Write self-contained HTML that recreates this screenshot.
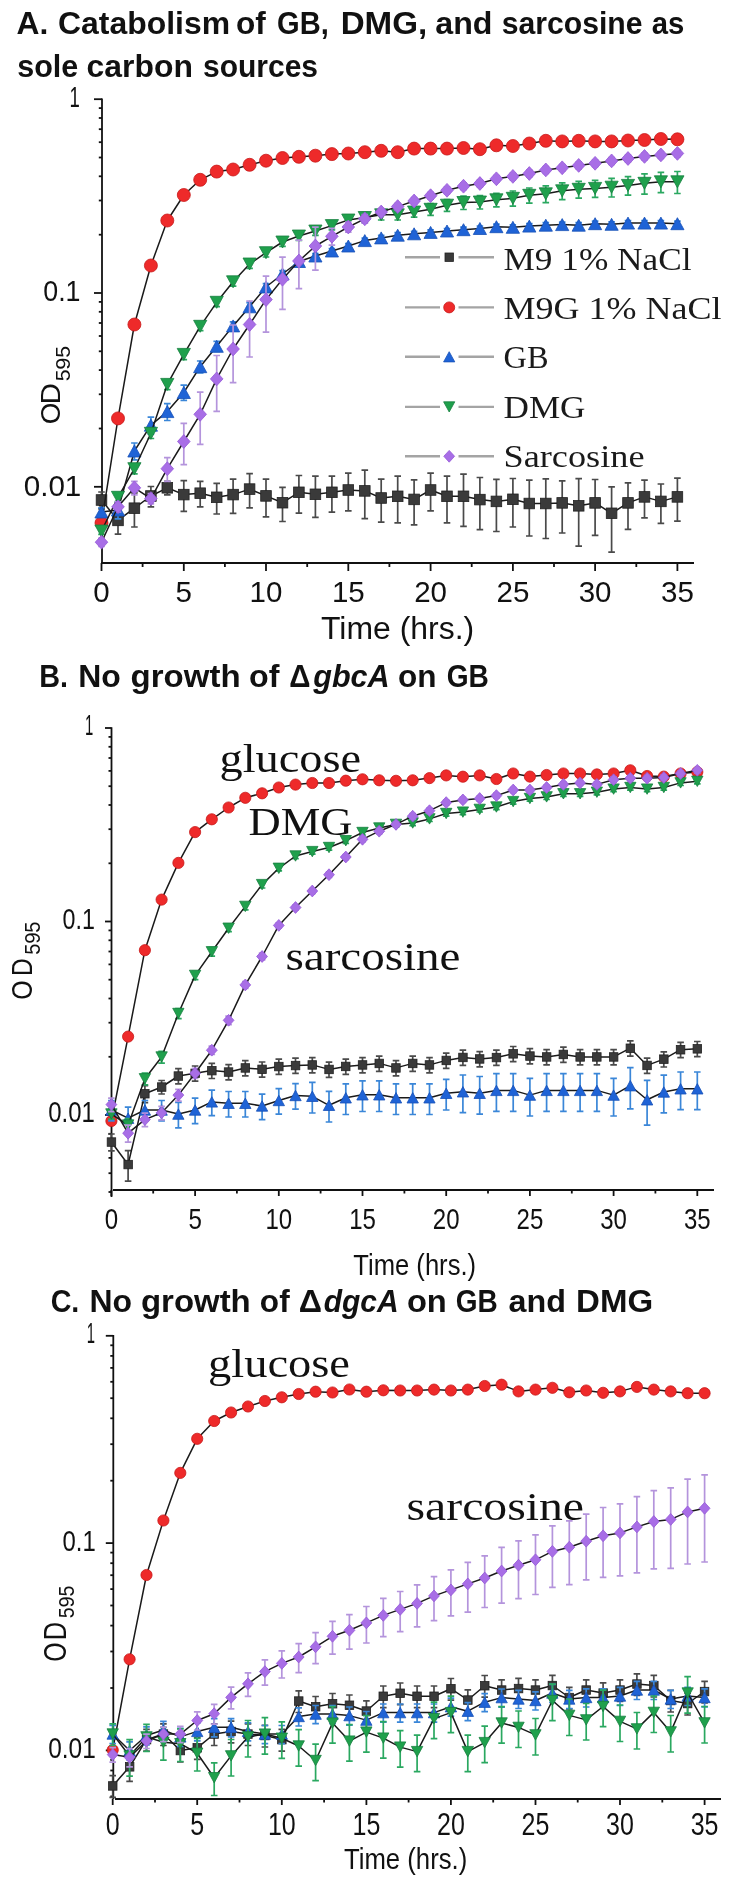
<!DOCTYPE html>
<html><head><meta charset="utf-8"><style>
html,body{margin:0;padding:0;background:#fff;}
body{width:735px;height:1886px;overflow:hidden;}
svg{display:block;filter:blur(0.45px);}
</style></head><body>
<svg width="735" height="1886" viewBox="0 0 735 1886">
<rect width="735" height="1886" fill="#fff"/>
<text x="16.61" y="33.7" font-family='"Liberation Sans", sans-serif' font-size="32" font-weight="bold" fill="#111" textLength="31.78" lengthAdjust="spacingAndGlyphs">A.</text>
<text x="58.09" y="33.7" font-family='"Liberation Sans", sans-serif' font-size="32" font-weight="bold" fill="#111" textLength="171.99" lengthAdjust="spacingAndGlyphs">Catabolism</text>
<text x="235.97" y="33.7" font-family='"Liberation Sans", sans-serif' font-size="32" font-weight="bold" fill="#111" textLength="29.77" lengthAdjust="spacingAndGlyphs">of</text>
<text x="277.01" y="33.7" font-family='"Liberation Sans", sans-serif' font-size="32" font-weight="bold" fill="#111" textLength="51.74" lengthAdjust="spacingAndGlyphs">GB,</text>
<text x="340.68" y="33.7" font-family='"Liberation Sans", sans-serif' font-size="32" font-weight="bold" fill="#111" textLength="86.53" lengthAdjust="spacingAndGlyphs">DMG,</text>
<text x="435.26" y="33.7" font-family='"Liberation Sans", sans-serif' font-size="32" font-weight="bold" fill="#111" textLength="57.16" lengthAdjust="spacingAndGlyphs">and</text>
<text x="501.64" y="33.7" font-family='"Liberation Sans", sans-serif' font-size="32" font-weight="bold" fill="#111" textLength="140.89" lengthAdjust="spacingAndGlyphs">sarcosine</text>
<text x="651.84" y="33.7" font-family='"Liberation Sans", sans-serif' font-size="32" font-weight="bold" fill="#111" textLength="32.56" lengthAdjust="spacingAndGlyphs">as</text>
<text x="17.23" y="76.8" font-family='"Liberation Sans", sans-serif' font-size="32" font-weight="bold" fill="#111" textLength="61.12" lengthAdjust="spacingAndGlyphs">sole</text>
<text x="86.55" y="76.8" font-family='"Liberation Sans", sans-serif' font-size="32" font-weight="bold" fill="#111" textLength="106.32" lengthAdjust="spacingAndGlyphs">carbon</text>
<text x="202.95" y="76.8" font-family='"Liberation Sans", sans-serif' font-size="32" font-weight="bold" fill="#111" textLength="115.09" lengthAdjust="spacingAndGlyphs">sources</text>
<path d="M102,98.4V563" stroke="#111" stroke-width="1.8" fill="none"/>
<path d="M94,99.2H102" stroke="#111" stroke-width="1.8"/>
<path d="M94,293.0H102" stroke="#111" stroke-width="1.8"/>
<path d="M94,486.8H102" stroke="#111" stroke-width="1.8"/>
<path d="M98.8,234.7H102" stroke="#111" stroke-width="1.8"/>
<path d="M98.8,200.5H102" stroke="#111" stroke-width="1.8"/>
<path d="M98.8,176.3H102" stroke="#111" stroke-width="1.8"/>
<path d="M98.8,157.5H102" stroke="#111" stroke-width="1.8"/>
<path d="M98.8,142.2H102" stroke="#111" stroke-width="1.8"/>
<path d="M98.8,129.2H102" stroke="#111" stroke-width="1.8"/>
<path d="M98.8,118.0H102" stroke="#111" stroke-width="1.8"/>
<path d="M98.8,108.1H102" stroke="#111" stroke-width="1.8"/>
<path d="M98.8,428.5H102" stroke="#111" stroke-width="1.8"/>
<path d="M98.8,394.3H102" stroke="#111" stroke-width="1.8"/>
<path d="M98.8,370.1H102" stroke="#111" stroke-width="1.8"/>
<path d="M98.8,351.3H102" stroke="#111" stroke-width="1.8"/>
<path d="M98.8,336.0H102" stroke="#111" stroke-width="1.8"/>
<path d="M98.8,323.0H102" stroke="#111" stroke-width="1.8"/>
<path d="M98.8,311.8H102" stroke="#111" stroke-width="1.8"/>
<path d="M98.8,301.9H102" stroke="#111" stroke-width="1.8"/>
<path d="M98.8,545.1H102" stroke="#111" stroke-width="1.8"/>
<path d="M98.8,529.8H102" stroke="#111" stroke-width="1.8"/>
<path d="M98.8,516.8H102" stroke="#111" stroke-width="1.8"/>
<path d="M98.8,505.6H102" stroke="#111" stroke-width="1.8"/>
<path d="M98.8,495.7H102" stroke="#111" stroke-width="1.8"/>
<path d="M101,563H694" stroke="#111" stroke-width="1.8" fill="none"/>
<path d="M101.5,563V571" stroke="#111" stroke-width="1.8"/>
<path d="M183.8,563V571" stroke="#111" stroke-width="1.8"/>
<path d="M266.0,563V571" stroke="#111" stroke-width="1.8"/>
<path d="M348.3,563V571" stroke="#111" stroke-width="1.8"/>
<path d="M430.6,563V571" stroke="#111" stroke-width="1.8"/>
<path d="M512.9,563V571" stroke="#111" stroke-width="1.8"/>
<path d="M595.1,563V571" stroke="#111" stroke-width="1.8"/>
<path d="M677.4,563V571" stroke="#111" stroke-width="1.8"/>
<path d="M142.6,563V567" stroke="#111" stroke-width="1.8"/>
<path d="M224.9,563V567" stroke="#111" stroke-width="1.8"/>
<path d="M307.2,563V567" stroke="#111" stroke-width="1.8"/>
<path d="M389.4,563V567" stroke="#111" stroke-width="1.8"/>
<path d="M471.7,563V567" stroke="#111" stroke-width="1.8"/>
<path d="M554.0,563V567" stroke="#111" stroke-width="1.8"/>
<path d="M636.3,563V567" stroke="#111" stroke-width="1.8"/>
<text x="69.49" y="106.5" font-family='"Liberation Sans", sans-serif' font-size="29.5" fill="#111" textLength="10.32" lengthAdjust="spacingAndGlyphs">1</text>
<text x="43.25" y="300.7" font-family='"Liberation Sans", sans-serif' font-size="29.5" fill="#111" textLength="37.26" lengthAdjust="spacingAndGlyphs">0.1</text>
<text x="23.74" y="495.7" font-family='"Liberation Sans", sans-serif' font-size="29.5" fill="#111" textLength="57.60" lengthAdjust="spacingAndGlyphs">0.01</text>
<text x="101.5" y="602" font-family='"Liberation Sans", sans-serif' font-size="29.5" font-weight="normal" text-anchor="middle" fill="#111" >0</text>
<text x="183.8" y="602" font-family='"Liberation Sans", sans-serif' font-size="29.5" font-weight="normal" text-anchor="middle" fill="#111" >5</text>
<text x="266.0" y="602" font-family='"Liberation Sans", sans-serif' font-size="29.5" font-weight="normal" text-anchor="middle" fill="#111" >10</text>
<text x="348.3" y="602" font-family='"Liberation Sans", sans-serif' font-size="29.5" font-weight="normal" text-anchor="middle" fill="#111" >15</text>
<text x="430.6" y="602" font-family='"Liberation Sans", sans-serif' font-size="29.5" font-weight="normal" text-anchor="middle" fill="#111" >20</text>
<text x="512.9" y="602" font-family='"Liberation Sans", sans-serif' font-size="29.5" font-weight="normal" text-anchor="middle" fill="#111" >25</text>
<text x="595.1" y="602" font-family='"Liberation Sans", sans-serif' font-size="29.5" font-weight="normal" text-anchor="middle" fill="#111" >30</text>
<text x="677.4" y="602" font-family='"Liberation Sans", sans-serif' font-size="29.5" font-weight="normal" text-anchor="middle" fill="#111" >35</text>
<text x="320.99" y="638.7" font-family='"Liberation Sans", sans-serif' font-size="31" fill="#111" textLength="153.18" lengthAdjust="spacingAndGlyphs">Time (hrs.)</text>
<text transform="translate(59.80,424.31) rotate(-90) scale(0.976,1)" font-family='"Liberation Sans", sans-serif' font-size="28.5" fill="#111">O</text>
<text transform="translate(59.80,404.42) rotate(-90) scale(1.037,1)" font-family='"Liberation Sans", sans-serif' font-size="28.5" fill="#111">D</text>
<text transform="translate(70.00,381.15) rotate(-90) scale(1.008,1)" font-family='"Liberation Sans", sans-serif' font-size="21" fill="#111">5</text>
<text transform="translate(70.00,369.65) rotate(-90) scale(1.034,1)" font-family='"Liberation Sans", sans-serif' font-size="21" fill="#111">9</text>
<text transform="translate(70.00,357.81) rotate(-90) scale(1.008,1)" font-family='"Liberation Sans", sans-serif' font-size="21" fill="#111">5</text>
<path d="M405,257.2H440M458.5,257.2H494" stroke="#a4a4a4" stroke-width="2.4"/>
<rect x="445.0" y="253.0" width="8.4" height="8.4" fill="#3a3a3a" stroke="#222222" stroke-width="0.8"/>
<text x="503.5" y="269.5" font-family='"Liberation Serif", serif' font-size="31" font-weight="normal" text-anchor="start" fill="#1a1a1a" textLength="188" lengthAdjust="spacingAndGlyphs" >M9 1% NaCl</text>
<path d="M405,307.4H440M458.5,307.4H494" stroke="#a4a4a4" stroke-width="2.4"/>
<circle cx="449.2" cy="307.4" r="5.5" fill="#ee2a2a" stroke="#c81818" stroke-width="0.8"/>
<text x="503.5" y="318.5" font-family='"Liberation Serif", serif' font-size="31" font-weight="normal" text-anchor="start" fill="#1a1a1a" textLength="218" lengthAdjust="spacingAndGlyphs" >M9G 1% NaCl</text>
<path d="M405,356.8H440M458.5,356.8H494" stroke="#a4a4a4" stroke-width="2.4"/>
<path d="M449.2,351.7 L454.8,361.9 L443.6,361.9Z" fill="#1f63d6" stroke="#1650b8" stroke-width="0.8"/>
<text x="503.5" y="368" font-family='"Liberation Serif", serif' font-size="31" font-weight="normal" text-anchor="start" fill="#1a1a1a" textLength="45" lengthAdjust="spacingAndGlyphs" >GB</text>
<path d="M405,406.9H440M458.5,406.9H494" stroke="#a4a4a4" stroke-width="2.4"/>
<path d="M449.2,412.0 L454.8,401.8 L443.6,401.8Z" fill="#1fa04c" stroke="#168040" stroke-width="0.8"/>
<text x="503.5" y="418" font-family='"Liberation Serif", serif' font-size="31" font-weight="normal" text-anchor="start" fill="#1a1a1a" textLength="82" lengthAdjust="spacingAndGlyphs" >DMG</text>
<path d="M405,456.3H440M458.5,456.3H494" stroke="#a4a4a4" stroke-width="2.4"/>
<path d="M449.2,450.4 L454.6,456.3 L449.2,462.2 L443.8,456.3Z" fill="#a86ee6" stroke="#9458d8" stroke-width="0.8"/>
<text x="503.5" y="466.5" font-family='"Liberation Serif", serif' font-size="31" font-weight="normal" text-anchor="start" fill="#1a1a1a" textLength="141" lengthAdjust="spacingAndGlyphs" >Sarcosine</text>
<path d="M101.5,492.0V508.9M98.2,492.0H104.8M98.2,508.9H104.8" stroke="#4a4a4a" stroke-width="1.7" fill="none"/>
<path d="M118.0,508.6V534.1M114.7,508.6H121.3M114.7,534.1H121.3" stroke="#4a4a4a" stroke-width="1.7" fill="none"/>
<path d="M134.4,492.8V527.0M131.1,492.8H137.7M131.1,527.0H137.7" stroke="#4a4a4a" stroke-width="1.7" fill="none"/>
<path d="M150.9,486.5V506.8M147.6,486.5H154.2M147.6,506.8H154.2" stroke="#4a4a4a" stroke-width="1.7" fill="none"/>
<path d="M167.3,481.3V494.8M164.0,481.3H170.6M164.0,494.8H170.6" stroke="#4a4a4a" stroke-width="1.7" fill="none"/>
<path d="M183.8,480.7V511.3M180.5,480.7H187.1M180.5,511.3H187.1" stroke="#4a4a4a" stroke-width="1.7" fill="none"/>
<path d="M200.2,481.4V506.9M196.9,481.4H203.5M196.9,506.9H203.5" stroke="#4a4a4a" stroke-width="1.7" fill="none"/>
<path d="M216.7,483.4V514.0M213.4,483.4H220.0M213.4,514.0H220.0" stroke="#4a4a4a" stroke-width="1.7" fill="none"/>
<path d="M233.1,479.2V513.4M229.8,479.2H236.4M229.8,513.4H236.4" stroke="#4a4a4a" stroke-width="1.7" fill="none"/>
<path d="M249.6,473.7V507.9M246.3,473.7H252.9M246.3,507.9H252.9" stroke="#4a4a4a" stroke-width="1.7" fill="none"/>
<path d="M266.0,479.1V516.8M262.7,479.1H269.3M262.7,516.8H269.3" stroke="#4a4a4a" stroke-width="1.7" fill="none"/>
<path d="M282.5,487.3V521.5M279.2,487.3H285.8M279.2,521.5H285.8" stroke="#4a4a4a" stroke-width="1.7" fill="none"/>
<path d="M298.9,475.5V513.2M295.6,475.5H302.2M295.6,513.2H302.2" stroke="#4a4a4a" stroke-width="1.7" fill="none"/>
<path d="M315.4,476.2V517.4M312.1,476.2H318.7M312.1,517.4H318.7" stroke="#4a4a4a" stroke-width="1.7" fill="none"/>
<path d="M331.9,476.2V512.2M328.6,476.2H335.2M328.6,512.2H335.2" stroke="#4a4a4a" stroke-width="1.7" fill="none"/>
<path d="M348.3,473.2V510.9M345.0,473.2H351.6M345.0,510.9H351.6" stroke="#4a4a4a" stroke-width="1.7" fill="none"/>
<path d="M364.8,470.1V518.6M361.5,470.1H368.1M361.5,518.6H368.1" stroke="#4a4a4a" stroke-width="1.7" fill="none"/>
<path d="M381.2,479.2V522.2M377.9,479.2H384.5M377.9,522.2H384.5" stroke="#4a4a4a" stroke-width="1.7" fill="none"/>
<path d="M397.7,476.2V522.8M394.4,476.2H401.0M394.4,522.8H401.0" stroke="#4a4a4a" stroke-width="1.7" fill="none"/>
<path d="M414.1,479.9V524.8M410.8,479.9H417.4M410.8,524.8H417.4" stroke="#4a4a4a" stroke-width="1.7" fill="none"/>
<path d="M430.6,473.2V510.9M427.3,473.2H433.9M427.3,510.9H433.9" stroke="#4a4a4a" stroke-width="1.7" fill="none"/>
<path d="M447.0,476.2V522.8M443.7,476.2H450.3M443.7,522.8H450.3" stroke="#4a4a4a" stroke-width="1.7" fill="none"/>
<path d="M463.5,474.2V526.4M460.2,474.2H466.8M460.2,526.4H466.8" stroke="#4a4a4a" stroke-width="1.7" fill="none"/>
<path d="M479.9,477.5V529.7M476.6,477.5H483.2M476.6,529.7H483.2" stroke="#4a4a4a" stroke-width="1.7" fill="none"/>
<path d="M496.4,479.3V531.5M493.1,479.3H499.7M493.1,531.5H499.7" stroke="#4a4a4a" stroke-width="1.7" fill="none"/>
<path d="M512.9,478.5V527.0M509.6,478.5H516.1M509.6,527.0H516.1" stroke="#4a4a4a" stroke-width="1.7" fill="none"/>
<path d="M529.3,480.1V536.0M526.0,480.1H532.6M526.0,536.0H532.6" stroke="#4a4a4a" stroke-width="1.7" fill="none"/>
<path d="M545.8,478.8V538.5M542.5,478.8H549.1M542.5,538.5H549.1" stroke="#4a4a4a" stroke-width="1.7" fill="none"/>
<path d="M562.2,480.8V533.0M558.9,480.8H565.5M558.9,533.0H565.5" stroke="#4a4a4a" stroke-width="1.7" fill="none"/>
<path d="M578.7,478.7V546.1M575.4,478.7H582.0M575.4,546.1H582.0" stroke="#4a4a4a" stroke-width="1.7" fill="none"/>
<path d="M595.1,479.5V535.4M591.8,479.5H598.4M591.8,535.4H598.4" stroke="#4a4a4a" stroke-width="1.7" fill="none"/>
<path d="M611.6,486.8V552.2M608.3,486.8H614.9M608.3,552.2H614.9" stroke="#4a4a4a" stroke-width="1.7" fill="none"/>
<path d="M628.0,482.8V529.4M624.7,482.8H631.3M624.7,529.4H631.3" stroke="#4a4a4a" stroke-width="1.7" fill="none"/>
<path d="M644.5,480.1V517.8M641.2,480.1H647.8M641.2,517.8H647.8" stroke="#4a4a4a" stroke-width="1.7" fill="none"/>
<path d="M660.9,484.0V523.4M657.6,484.0H664.2M657.6,523.4H664.2" stroke="#4a4a4a" stroke-width="1.7" fill="none"/>
<path d="M677.4,478.1V521.1M674.1,478.1H680.7M674.1,521.1H680.7" stroke="#4a4a4a" stroke-width="1.7" fill="none"/>
<polyline points="101.5,500.0 118.0,520.4 134.4,508.2 150.9,496.0 167.3,487.8 183.8,494.6 200.2,493.2 216.7,497.3 233.1,494.6 249.6,489.1 266.0,495.9 282.5,502.7 298.9,492.3 315.4,494.3 331.9,492.3 348.3,490.0 364.8,490.9 381.2,498.0 397.7,496.3 414.1,499.4 430.6,490.0 447.0,496.3 463.5,496.3 479.9,499.6 496.4,501.4 512.9,499.3 529.3,503.5 545.8,503.5 562.2,502.9 578.7,505.8 595.1,502.9 611.6,513.3 628.0,502.9 644.5,496.9 660.9,501.4 677.4,496.9" fill="none" stroke="#1a1a1a" stroke-width="1.5" stroke-linejoin="round"/>
<rect x="96.2" y="494.7" width="10.6" height="10.6" fill="#3a3a3a" stroke="#222222" stroke-width="0.8"/>
<rect x="112.7" y="515.1" width="10.6" height="10.6" fill="#3a3a3a" stroke="#222222" stroke-width="0.8"/>
<rect x="129.1" y="502.9" width="10.6" height="10.6" fill="#3a3a3a" stroke="#222222" stroke-width="0.8"/>
<rect x="145.6" y="490.7" width="10.6" height="10.6" fill="#3a3a3a" stroke="#222222" stroke-width="0.8"/>
<rect x="162.0" y="482.5" width="10.6" height="10.6" fill="#3a3a3a" stroke="#222222" stroke-width="0.8"/>
<rect x="178.5" y="489.3" width="10.6" height="10.6" fill="#3a3a3a" stroke="#222222" stroke-width="0.8"/>
<rect x="194.9" y="487.9" width="10.6" height="10.6" fill="#3a3a3a" stroke="#222222" stroke-width="0.8"/>
<rect x="211.4" y="492.0" width="10.6" height="10.6" fill="#3a3a3a" stroke="#222222" stroke-width="0.8"/>
<rect x="227.8" y="489.3" width="10.6" height="10.6" fill="#3a3a3a" stroke="#222222" stroke-width="0.8"/>
<rect x="244.3" y="483.8" width="10.6" height="10.6" fill="#3a3a3a" stroke="#222222" stroke-width="0.8"/>
<rect x="260.7" y="490.6" width="10.6" height="10.6" fill="#3a3a3a" stroke="#222222" stroke-width="0.8"/>
<rect x="277.2" y="497.4" width="10.6" height="10.6" fill="#3a3a3a" stroke="#222222" stroke-width="0.8"/>
<rect x="293.6" y="487.0" width="10.6" height="10.6" fill="#3a3a3a" stroke="#222222" stroke-width="0.8"/>
<rect x="310.1" y="489.0" width="10.6" height="10.6" fill="#3a3a3a" stroke="#222222" stroke-width="0.8"/>
<rect x="326.6" y="487.0" width="10.6" height="10.6" fill="#3a3a3a" stroke="#222222" stroke-width="0.8"/>
<rect x="343.0" y="484.7" width="10.6" height="10.6" fill="#3a3a3a" stroke="#222222" stroke-width="0.8"/>
<rect x="359.5" y="485.6" width="10.6" height="10.6" fill="#3a3a3a" stroke="#222222" stroke-width="0.8"/>
<rect x="375.9" y="492.7" width="10.6" height="10.6" fill="#3a3a3a" stroke="#222222" stroke-width="0.8"/>
<rect x="392.4" y="491.0" width="10.6" height="10.6" fill="#3a3a3a" stroke="#222222" stroke-width="0.8"/>
<rect x="408.8" y="494.1" width="10.6" height="10.6" fill="#3a3a3a" stroke="#222222" stroke-width="0.8"/>
<rect x="425.3" y="484.7" width="10.6" height="10.6" fill="#3a3a3a" stroke="#222222" stroke-width="0.8"/>
<rect x="441.7" y="491.0" width="10.6" height="10.6" fill="#3a3a3a" stroke="#222222" stroke-width="0.8"/>
<rect x="458.2" y="491.0" width="10.6" height="10.6" fill="#3a3a3a" stroke="#222222" stroke-width="0.8"/>
<rect x="474.6" y="494.3" width="10.6" height="10.6" fill="#3a3a3a" stroke="#222222" stroke-width="0.8"/>
<rect x="491.1" y="496.1" width="10.6" height="10.6" fill="#3a3a3a" stroke="#222222" stroke-width="0.8"/>
<rect x="507.6" y="494.0" width="10.6" height="10.6" fill="#3a3a3a" stroke="#222222" stroke-width="0.8"/>
<rect x="524.0" y="498.2" width="10.6" height="10.6" fill="#3a3a3a" stroke="#222222" stroke-width="0.8"/>
<rect x="540.5" y="498.2" width="10.6" height="10.6" fill="#3a3a3a" stroke="#222222" stroke-width="0.8"/>
<rect x="556.9" y="497.6" width="10.6" height="10.6" fill="#3a3a3a" stroke="#222222" stroke-width="0.8"/>
<rect x="573.4" y="500.5" width="10.6" height="10.6" fill="#3a3a3a" stroke="#222222" stroke-width="0.8"/>
<rect x="589.8" y="497.6" width="10.6" height="10.6" fill="#3a3a3a" stroke="#222222" stroke-width="0.8"/>
<rect x="606.3" y="508.0" width="10.6" height="10.6" fill="#3a3a3a" stroke="#222222" stroke-width="0.8"/>
<rect x="622.7" y="497.6" width="10.6" height="10.6" fill="#3a3a3a" stroke="#222222" stroke-width="0.8"/>
<rect x="639.2" y="491.6" width="10.6" height="10.6" fill="#3a3a3a" stroke="#222222" stroke-width="0.8"/>
<rect x="655.6" y="496.1" width="10.6" height="10.6" fill="#3a3a3a" stroke="#222222" stroke-width="0.8"/>
<rect x="672.1" y="491.6" width="10.6" height="10.6" fill="#3a3a3a" stroke="#222222" stroke-width="0.8"/>
<polyline points="101.5,523.0 118.0,418.4 134.4,324.5 150.9,265.5 167.3,220.5 183.8,195.0 200.2,179.8 216.7,171.6 233.1,169.5 249.6,164.8 266.0,160.7 282.5,158.0 298.9,156.8 315.4,155.7 331.9,154.1 348.3,153.5 364.8,152.2 381.2,150.8 397.7,152.2 414.1,148.6 430.6,148.6 447.0,148.6 463.5,148.0 479.9,149.2 496.4,145.3 512.9,146.0 529.3,143.5 545.8,140.8 562.2,141.4 578.7,140.8 595.1,141.4 611.6,141.4 628.0,140.5 644.5,140.0 660.9,139.0 677.4,139.3" fill="none" stroke="#1a1a1a" stroke-width="1.5" stroke-linejoin="round"/>
<circle cx="101.5" cy="523.0" r="6.5" fill="#ee2a2a" stroke="#c81818" stroke-width="0.8"/>
<circle cx="118.0" cy="418.4" r="6.5" fill="#ee2a2a" stroke="#c81818" stroke-width="0.8"/>
<circle cx="134.4" cy="324.5" r="6.5" fill="#ee2a2a" stroke="#c81818" stroke-width="0.8"/>
<circle cx="150.9" cy="265.5" r="6.5" fill="#ee2a2a" stroke="#c81818" stroke-width="0.8"/>
<circle cx="167.3" cy="220.5" r="6.5" fill="#ee2a2a" stroke="#c81818" stroke-width="0.8"/>
<circle cx="183.8" cy="195.0" r="6.5" fill="#ee2a2a" stroke="#c81818" stroke-width="0.8"/>
<circle cx="200.2" cy="179.8" r="6.5" fill="#ee2a2a" stroke="#c81818" stroke-width="0.8"/>
<circle cx="216.7" cy="171.6" r="6.5" fill="#ee2a2a" stroke="#c81818" stroke-width="0.8"/>
<circle cx="233.1" cy="169.5" r="6.5" fill="#ee2a2a" stroke="#c81818" stroke-width="0.8"/>
<circle cx="249.6" cy="164.8" r="6.5" fill="#ee2a2a" stroke="#c81818" stroke-width="0.8"/>
<circle cx="266.0" cy="160.7" r="6.5" fill="#ee2a2a" stroke="#c81818" stroke-width="0.8"/>
<circle cx="282.5" cy="158.0" r="6.5" fill="#ee2a2a" stroke="#c81818" stroke-width="0.8"/>
<circle cx="298.9" cy="156.8" r="6.5" fill="#ee2a2a" stroke="#c81818" stroke-width="0.8"/>
<circle cx="315.4" cy="155.7" r="6.5" fill="#ee2a2a" stroke="#c81818" stroke-width="0.8"/>
<circle cx="331.9" cy="154.1" r="6.5" fill="#ee2a2a" stroke="#c81818" stroke-width="0.8"/>
<circle cx="348.3" cy="153.5" r="6.5" fill="#ee2a2a" stroke="#c81818" stroke-width="0.8"/>
<circle cx="364.8" cy="152.2" r="6.5" fill="#ee2a2a" stroke="#c81818" stroke-width="0.8"/>
<circle cx="381.2" cy="150.8" r="6.5" fill="#ee2a2a" stroke="#c81818" stroke-width="0.8"/>
<circle cx="397.7" cy="152.2" r="6.5" fill="#ee2a2a" stroke="#c81818" stroke-width="0.8"/>
<circle cx="414.1" cy="148.6" r="6.5" fill="#ee2a2a" stroke="#c81818" stroke-width="0.8"/>
<circle cx="430.6" cy="148.6" r="6.5" fill="#ee2a2a" stroke="#c81818" stroke-width="0.8"/>
<circle cx="447.0" cy="148.6" r="6.5" fill="#ee2a2a" stroke="#c81818" stroke-width="0.8"/>
<circle cx="463.5" cy="148.0" r="6.5" fill="#ee2a2a" stroke="#c81818" stroke-width="0.8"/>
<circle cx="479.9" cy="149.2" r="6.5" fill="#ee2a2a" stroke="#c81818" stroke-width="0.8"/>
<circle cx="496.4" cy="145.3" r="6.5" fill="#ee2a2a" stroke="#c81818" stroke-width="0.8"/>
<circle cx="512.9" cy="146.0" r="6.5" fill="#ee2a2a" stroke="#c81818" stroke-width="0.8"/>
<circle cx="529.3" cy="143.5" r="6.5" fill="#ee2a2a" stroke="#c81818" stroke-width="0.8"/>
<circle cx="545.8" cy="140.8" r="6.5" fill="#ee2a2a" stroke="#c81818" stroke-width="0.8"/>
<circle cx="562.2" cy="141.4" r="6.5" fill="#ee2a2a" stroke="#c81818" stroke-width="0.8"/>
<circle cx="578.7" cy="140.8" r="6.5" fill="#ee2a2a" stroke="#c81818" stroke-width="0.8"/>
<circle cx="595.1" cy="141.4" r="6.5" fill="#ee2a2a" stroke="#c81818" stroke-width="0.8"/>
<circle cx="611.6" cy="141.4" r="6.5" fill="#ee2a2a" stroke="#c81818" stroke-width="0.8"/>
<circle cx="628.0" cy="140.5" r="6.5" fill="#ee2a2a" stroke="#c81818" stroke-width="0.8"/>
<circle cx="644.5" cy="140.0" r="6.5" fill="#ee2a2a" stroke="#c81818" stroke-width="0.8"/>
<circle cx="660.9" cy="139.0" r="6.5" fill="#ee2a2a" stroke="#c81818" stroke-width="0.8"/>
<circle cx="677.4" cy="139.3" r="6.5" fill="#ee2a2a" stroke="#c81818" stroke-width="0.8"/>
<path d="M101.5,507.9V516.3M98.2,507.9H104.8M98.2,516.3H104.8" stroke="#3a86d8" stroke-width="1.7" fill="none"/>
<path d="M118.0,502.0V518.9M114.7,502.0H121.3M114.7,518.9H121.3" stroke="#3a86d8" stroke-width="1.7" fill="none"/>
<path d="M134.4,443.0V459.9M131.1,443.0H137.7M131.1,459.9H137.7" stroke="#3a86d8" stroke-width="1.7" fill="none"/>
<path d="M150.9,417.2V434.1M147.6,417.2H154.2M147.6,434.1H154.2" stroke="#3a86d8" stroke-width="1.7" fill="none"/>
<path d="M167.3,403.6V420.5M164.0,403.6H170.6M164.0,420.5H170.6" stroke="#3a86d8" stroke-width="1.7" fill="none"/>
<path d="M183.8,385.2V400.4M180.5,385.2H187.1M180.5,400.4H187.1" stroke="#3a86d8" stroke-width="1.7" fill="none"/>
<path d="M200.2,361.0V372.8M196.9,361.0H203.5M196.9,372.8H203.5" stroke="#3a86d8" stroke-width="1.7" fill="none"/>
<path d="M216.7,341.4V351.5M213.4,341.4H220.0M213.4,351.5H220.0" stroke="#3a86d8" stroke-width="1.7" fill="none"/>
<path d="M233.1,321.8V330.2M229.8,321.8H236.4M229.8,330.2H236.4" stroke="#3a86d8" stroke-width="1.7" fill="none"/>
<path d="M249.6,302.7V311.1M246.3,302.7H252.9M246.3,311.1H252.9" stroke="#3a86d8" stroke-width="1.7" fill="none"/>
<path d="M266.0,283.7V290.4M262.7,283.7H269.3M262.7,290.4H269.3" stroke="#3a86d8" stroke-width="1.7" fill="none"/>
<path d="M282.5,270.7V277.4M279.2,270.7H285.8M279.2,277.4H285.8" stroke="#3a86d8" stroke-width="1.7" fill="none"/>
<path d="M298.9,259.0V264.1M295.6,259.0H302.2M295.6,264.1H302.2" stroke="#3a86d8" stroke-width="1.7" fill="none"/>
<path d="M315.4,253.5V258.6M312.1,253.5H318.7M312.1,258.6H318.7" stroke="#3a86d8" stroke-width="1.7" fill="none"/>
<path d="M331.9,248.5V253.6M328.6,248.5H335.2M328.6,253.6H335.2" stroke="#3a86d8" stroke-width="1.7" fill="none"/>
<path d="M348.3,243.5V248.6M345.0,243.5H351.6M345.0,248.6H351.6" stroke="#3a86d8" stroke-width="1.7" fill="none"/>
<path d="M364.8,238.1V243.2M361.5,238.1H368.1M361.5,243.2H368.1" stroke="#3a86d8" stroke-width="1.7" fill="none"/>
<path d="M381.2,235.4V240.5M377.9,235.4H384.5M377.9,240.5H384.5" stroke="#3a86d8" stroke-width="1.7" fill="none"/>
<path d="M397.7,232.7V237.8M394.4,232.7H401.0M394.4,237.8H401.0" stroke="#3a86d8" stroke-width="1.7" fill="none"/>
<path d="M414.1,231.3V236.4M410.8,231.3H417.4M410.8,236.4H417.4" stroke="#3a86d8" stroke-width="1.7" fill="none"/>
<path d="M430.6,229.9V235.0M427.3,229.9H433.9M427.3,235.0H433.9" stroke="#3a86d8" stroke-width="1.7" fill="none"/>
<path d="M447.0,228.5V233.6M443.7,228.5H450.3M443.7,233.6H450.3" stroke="#3a86d8" stroke-width="1.7" fill="none"/>
<path d="M463.5,227.2V232.3M460.2,227.2H466.8M460.2,232.3H466.8" stroke="#3a86d8" stroke-width="1.7" fill="none"/>
<path d="M479.9,226.0V231.1M476.6,226.0H483.2M476.6,231.1H483.2" stroke="#3a86d8" stroke-width="1.7" fill="none"/>
<path d="M496.4,224.2V229.3M493.1,224.2H499.7M493.1,229.3H499.7" stroke="#3a86d8" stroke-width="1.7" fill="none"/>
<path d="M512.9,224.8V229.9M509.6,224.8H516.1M509.6,229.9H516.1" stroke="#3a86d8" stroke-width="1.7" fill="none"/>
<path d="M529.3,223.6V228.7M526.0,223.6H532.6M526.0,228.7H532.6" stroke="#3a86d8" stroke-width="1.7" fill="none"/>
<path d="M545.8,222.7V227.8M542.5,222.7H549.1M542.5,227.8H549.1" stroke="#3a86d8" stroke-width="1.7" fill="none"/>
<path d="M562.2,222.1V227.2M558.9,222.1H565.5M558.9,227.2H565.5" stroke="#3a86d8" stroke-width="1.7" fill="none"/>
<path d="M578.7,222.7V227.8M575.4,222.7H582.0M575.4,227.8H582.0" stroke="#3a86d8" stroke-width="1.7" fill="none"/>
<path d="M595.1,221.2V226.3M591.8,221.2H598.4M591.8,226.3H598.4" stroke="#3a86d8" stroke-width="1.7" fill="none"/>
<path d="M611.6,221.8V226.9M608.3,221.8H614.9M608.3,226.9H614.9" stroke="#3a86d8" stroke-width="1.7" fill="none"/>
<path d="M628.0,220.6V225.7M624.7,220.6H631.3M624.7,225.7H631.3" stroke="#3a86d8" stroke-width="1.7" fill="none"/>
<path d="M644.5,220.6V225.7M641.2,220.6H647.8M641.2,225.7H647.8" stroke="#3a86d8" stroke-width="1.7" fill="none"/>
<path d="M660.9,220.6V225.7M657.6,220.6H664.2M657.6,225.7H664.2" stroke="#3a86d8" stroke-width="1.7" fill="none"/>
<path d="M677.4,221.2V226.3M674.1,221.2H680.7M674.1,226.3H680.7" stroke="#3a86d8" stroke-width="1.7" fill="none"/>
<polyline points="101.5,512.0 118.0,510.0 134.4,451.0 150.9,425.2 167.3,411.6 183.8,392.5 200.2,366.7 216.7,346.3 233.1,325.9 249.6,306.8 266.0,287.0 282.5,274.0 298.9,261.5 315.4,256.0 331.9,251.0 348.3,246.0 364.8,240.6 381.2,237.9 397.7,235.2 414.1,233.8 430.6,232.4 447.0,231.0 463.5,229.7 479.9,228.5 496.4,226.7 512.9,227.3 529.3,226.1 545.8,225.2 562.2,224.6 578.7,225.2 595.1,223.7 611.6,224.3 628.0,223.1 644.5,223.1 660.9,223.1 677.4,223.7" fill="none" stroke="#1a1a1a" stroke-width="1.5" stroke-linejoin="round"/>
<path d="M101.5,506.0 L108.1,518.0 L94.9,518.0Z" fill="#1f63d6" stroke="#1650b8" stroke-width="0.8"/>
<path d="M118.0,504.0 L124.6,516.0 L111.4,516.0Z" fill="#1f63d6" stroke="#1650b8" stroke-width="0.8"/>
<path d="M134.4,445.0 L141.0,457.0 L127.8,457.0Z" fill="#1f63d6" stroke="#1650b8" stroke-width="0.8"/>
<path d="M150.9,419.2 L157.5,431.2 L144.3,431.2Z" fill="#1f63d6" stroke="#1650b8" stroke-width="0.8"/>
<path d="M167.3,405.6 L173.9,417.6 L160.7,417.6Z" fill="#1f63d6" stroke="#1650b8" stroke-width="0.8"/>
<path d="M183.8,386.5 L190.4,398.5 L177.2,398.5Z" fill="#1f63d6" stroke="#1650b8" stroke-width="0.8"/>
<path d="M200.2,360.7 L206.8,372.7 L193.6,372.7Z" fill="#1f63d6" stroke="#1650b8" stroke-width="0.8"/>
<path d="M216.7,340.3 L223.3,352.3 L210.1,352.3Z" fill="#1f63d6" stroke="#1650b8" stroke-width="0.8"/>
<path d="M233.1,319.9 L239.7,331.9 L226.5,331.9Z" fill="#1f63d6" stroke="#1650b8" stroke-width="0.8"/>
<path d="M249.6,300.8 L256.2,312.8 L243.0,312.8Z" fill="#1f63d6" stroke="#1650b8" stroke-width="0.8"/>
<path d="M266.0,281.0 L272.6,293.0 L259.4,293.0Z" fill="#1f63d6" stroke="#1650b8" stroke-width="0.8"/>
<path d="M282.5,268.0 L289.1,280.0 L275.9,280.0Z" fill="#1f63d6" stroke="#1650b8" stroke-width="0.8"/>
<path d="M298.9,255.5 L305.5,267.5 L292.3,267.5Z" fill="#1f63d6" stroke="#1650b8" stroke-width="0.8"/>
<path d="M315.4,250.0 L322.0,262.0 L308.8,262.0Z" fill="#1f63d6" stroke="#1650b8" stroke-width="0.8"/>
<path d="M331.9,245.0 L338.5,257.0 L325.3,257.0Z" fill="#1f63d6" stroke="#1650b8" stroke-width="0.8"/>
<path d="M348.3,240.0 L354.9,252.0 L341.7,252.0Z" fill="#1f63d6" stroke="#1650b8" stroke-width="0.8"/>
<path d="M364.8,234.6 L371.4,246.6 L358.2,246.6Z" fill="#1f63d6" stroke="#1650b8" stroke-width="0.8"/>
<path d="M381.2,231.9 L387.8,243.9 L374.6,243.9Z" fill="#1f63d6" stroke="#1650b8" stroke-width="0.8"/>
<path d="M397.7,229.2 L404.3,241.2 L391.1,241.2Z" fill="#1f63d6" stroke="#1650b8" stroke-width="0.8"/>
<path d="M414.1,227.8 L420.7,239.8 L407.5,239.8Z" fill="#1f63d6" stroke="#1650b8" stroke-width="0.8"/>
<path d="M430.6,226.4 L437.2,238.4 L424.0,238.4Z" fill="#1f63d6" stroke="#1650b8" stroke-width="0.8"/>
<path d="M447.0,225.0 L453.6,237.0 L440.4,237.0Z" fill="#1f63d6" stroke="#1650b8" stroke-width="0.8"/>
<path d="M463.5,223.7 L470.1,235.7 L456.9,235.7Z" fill="#1f63d6" stroke="#1650b8" stroke-width="0.8"/>
<path d="M479.9,222.5 L486.5,234.5 L473.3,234.5Z" fill="#1f63d6" stroke="#1650b8" stroke-width="0.8"/>
<path d="M496.4,220.7 L503.0,232.7 L489.8,232.7Z" fill="#1f63d6" stroke="#1650b8" stroke-width="0.8"/>
<path d="M512.9,221.3 L519.5,233.3 L506.2,233.3Z" fill="#1f63d6" stroke="#1650b8" stroke-width="0.8"/>
<path d="M529.3,220.1 L535.9,232.1 L522.7,232.1Z" fill="#1f63d6" stroke="#1650b8" stroke-width="0.8"/>
<path d="M545.8,219.2 L552.4,231.2 L539.2,231.2Z" fill="#1f63d6" stroke="#1650b8" stroke-width="0.8"/>
<path d="M562.2,218.6 L568.8,230.6 L555.6,230.6Z" fill="#1f63d6" stroke="#1650b8" stroke-width="0.8"/>
<path d="M578.7,219.2 L585.3,231.2 L572.1,231.2Z" fill="#1f63d6" stroke="#1650b8" stroke-width="0.8"/>
<path d="M595.1,217.7 L601.7,229.7 L588.5,229.7Z" fill="#1f63d6" stroke="#1650b8" stroke-width="0.8"/>
<path d="M611.6,218.3 L618.2,230.3 L605.0,230.3Z" fill="#1f63d6" stroke="#1650b8" stroke-width="0.8"/>
<path d="M628.0,217.1 L634.6,229.1 L621.4,229.1Z" fill="#1f63d6" stroke="#1650b8" stroke-width="0.8"/>
<path d="M644.5,217.1 L651.1,229.1 L637.9,229.1Z" fill="#1f63d6" stroke="#1650b8" stroke-width="0.8"/>
<path d="M660.9,217.1 L667.5,229.1 L654.3,229.1Z" fill="#1f63d6" stroke="#1650b8" stroke-width="0.8"/>
<path d="M677.4,217.7 L684.0,229.7 L670.8,229.7Z" fill="#1f63d6" stroke="#1650b8" stroke-width="0.8"/>
<path d="M101.5,527.7V534.4M98.2,527.7H104.8M98.2,534.4H104.8" stroke="#2aa860" stroke-width="1.7" fill="none"/>
<path d="M118.0,493.2V501.6M114.7,493.2H121.3M114.7,501.6H121.3" stroke="#2aa860" stroke-width="1.7" fill="none"/>
<path d="M134.4,463.8V473.9M131.1,463.8H137.7M131.1,473.9H137.7" stroke="#2aa860" stroke-width="1.7" fill="none"/>
<path d="M150.9,428.4V438.5M147.6,428.4H154.2M147.6,438.5H154.2" stroke="#2aa860" stroke-width="1.7" fill="none"/>
<path d="M167.3,379.5V389.6M164.0,379.5H170.6M164.0,389.6H170.6" stroke="#2aa860" stroke-width="1.7" fill="none"/>
<path d="M183.8,349.5V359.6M180.5,349.5H187.1M180.5,359.6H187.1" stroke="#2aa860" stroke-width="1.7" fill="none"/>
<path d="M200.2,322.2V330.6M196.9,322.2H203.5M196.9,330.6H203.5" stroke="#2aa860" stroke-width="1.7" fill="none"/>
<path d="M216.7,298.2V306.6M213.4,298.2H220.0M213.4,306.6H220.0" stroke="#2aa860" stroke-width="1.7" fill="none"/>
<path d="M233.1,277.7V286.1M229.8,277.7H236.4M229.8,286.1H236.4" stroke="#2aa860" stroke-width="1.7" fill="none"/>
<path d="M249.6,259.9V268.3M246.3,259.9H252.9M246.3,268.3H252.9" stroke="#2aa860" stroke-width="1.7" fill="none"/>
<path d="M266.0,248.6V257.0M262.7,248.6H269.3M262.7,257.0H269.3" stroke="#2aa860" stroke-width="1.7" fill="none"/>
<path d="M282.5,237.9V246.3M279.2,237.9H285.8M279.2,246.3H285.8" stroke="#2aa860" stroke-width="1.7" fill="none"/>
<path d="M298.9,231.9V240.3M295.6,231.9H302.2M295.6,240.3H302.2" stroke="#2aa860" stroke-width="1.7" fill="none"/>
<path d="M315.4,226.9V235.3M312.1,226.9H318.7M312.1,235.3H318.7" stroke="#2aa860" stroke-width="1.7" fill="none"/>
<path d="M331.9,221.5V229.9M328.6,221.5H335.2M328.6,229.9H335.2" stroke="#2aa860" stroke-width="1.7" fill="none"/>
<path d="M348.3,215.9V224.3M345.0,215.9H351.6M345.0,224.3H351.6" stroke="#2aa860" stroke-width="1.7" fill="none"/>
<path d="M364.8,212.6V222.7M361.5,212.6H368.1M361.5,222.7H368.1" stroke="#2aa860" stroke-width="1.7" fill="none"/>
<path d="M381.2,209.9V220.0M377.9,209.9H384.5M377.9,220.0H384.5" stroke="#2aa860" stroke-width="1.7" fill="none"/>
<path d="M397.7,209.9V220.0M394.4,209.9H401.0M394.4,220.0H401.0" stroke="#2aa860" stroke-width="1.7" fill="none"/>
<path d="M414.1,207.1V217.2M410.8,207.1H417.4M410.8,217.2H417.4" stroke="#2aa860" stroke-width="1.7" fill="none"/>
<path d="M430.6,203.6V215.4M427.3,203.6H433.9M427.3,215.4H433.9" stroke="#2aa860" stroke-width="1.7" fill="none"/>
<path d="M447.0,199.5V211.3M443.7,199.5H450.3M443.7,211.3H450.3" stroke="#2aa860" stroke-width="1.7" fill="none"/>
<path d="M463.5,196.0V209.5M460.2,196.0H466.8M460.2,209.5H466.8" stroke="#2aa860" stroke-width="1.7" fill="none"/>
<path d="M479.9,195.5V209.0M476.6,195.5H483.2M476.6,209.0H483.2" stroke="#2aa860" stroke-width="1.7" fill="none"/>
<path d="M496.4,193.3V206.8M493.1,193.3H499.7M493.1,206.8H499.7" stroke="#2aa860" stroke-width="1.7" fill="none"/>
<path d="M512.9,191.0V206.2M509.6,191.0H516.1M509.6,206.2H516.1" stroke="#2aa860" stroke-width="1.7" fill="none"/>
<path d="M529.3,188.0V203.2M526.0,188.0H532.6M526.0,203.2H532.6" stroke="#2aa860" stroke-width="1.7" fill="none"/>
<path d="M545.8,185.8V202.7M542.5,185.8H549.1M542.5,202.7H549.1" stroke="#2aa860" stroke-width="1.7" fill="none"/>
<path d="M562.2,182.8V199.7M558.9,182.8H565.5M558.9,199.7H565.5" stroke="#2aa860" stroke-width="1.7" fill="none"/>
<path d="M578.7,181.3V198.2M575.4,181.3H582.0M575.4,198.2H582.0" stroke="#2aa860" stroke-width="1.7" fill="none"/>
<path d="M595.1,180.4V197.3M591.8,180.4H598.4M591.8,197.3H598.4" stroke="#2aa860" stroke-width="1.7" fill="none"/>
<path d="M611.6,178.4V197.0M608.3,178.4H614.9M608.3,197.0H614.9" stroke="#2aa860" stroke-width="1.7" fill="none"/>
<path d="M628.0,176.6V195.2M624.7,176.6H631.3M624.7,195.2H631.3" stroke="#2aa860" stroke-width="1.7" fill="none"/>
<path d="M644.5,173.8V194.1M641.2,173.8H647.8M641.2,194.1H647.8" stroke="#2aa860" stroke-width="1.7" fill="none"/>
<path d="M660.9,172.3V192.6M657.6,172.3H664.2M657.6,192.6H664.2" stroke="#2aa860" stroke-width="1.7" fill="none"/>
<path d="M677.4,171.5V193.5M674.1,171.5H680.7M674.1,193.5H680.7" stroke="#2aa860" stroke-width="1.7" fill="none"/>
<polyline points="101.5,531.0 118.0,497.3 134.4,468.7 150.9,433.3 167.3,384.4 183.8,354.4 200.2,326.3 216.7,302.3 233.1,281.8 249.6,264.0 266.0,252.7 282.5,242.0 298.9,236.0 315.4,231.0 331.9,225.6 348.3,220.0 364.8,217.5 381.2,214.8 397.7,214.8 414.1,212.0 430.6,209.3 447.0,205.2 463.5,202.5 479.9,202.0 496.4,199.8 512.9,198.3 529.3,195.3 545.8,193.8 562.2,190.8 578.7,189.3 595.1,188.4 611.6,187.2 628.0,185.4 644.5,183.3 660.9,181.8 677.4,181.8" fill="none" stroke="#1a1a1a" stroke-width="1.5" stroke-linejoin="round"/>
<path d="M101.5,537.0 L108.1,525.0 L94.9,525.0Z" fill="#1fa04c" stroke="#168040" stroke-width="0.8"/>
<path d="M118.0,503.3 L124.6,491.3 L111.4,491.3Z" fill="#1fa04c" stroke="#168040" stroke-width="0.8"/>
<path d="M134.4,474.7 L141.0,462.7 L127.8,462.7Z" fill="#1fa04c" stroke="#168040" stroke-width="0.8"/>
<path d="M150.9,439.3 L157.5,427.3 L144.3,427.3Z" fill="#1fa04c" stroke="#168040" stroke-width="0.8"/>
<path d="M167.3,390.4 L173.9,378.4 L160.7,378.4Z" fill="#1fa04c" stroke="#168040" stroke-width="0.8"/>
<path d="M183.8,360.4 L190.4,348.4 L177.2,348.4Z" fill="#1fa04c" stroke="#168040" stroke-width="0.8"/>
<path d="M200.2,332.3 L206.8,320.3 L193.6,320.3Z" fill="#1fa04c" stroke="#168040" stroke-width="0.8"/>
<path d="M216.7,308.3 L223.3,296.3 L210.1,296.3Z" fill="#1fa04c" stroke="#168040" stroke-width="0.8"/>
<path d="M233.1,287.8 L239.7,275.8 L226.5,275.8Z" fill="#1fa04c" stroke="#168040" stroke-width="0.8"/>
<path d="M249.6,270.0 L256.2,258.0 L243.0,258.0Z" fill="#1fa04c" stroke="#168040" stroke-width="0.8"/>
<path d="M266.0,258.7 L272.6,246.7 L259.4,246.7Z" fill="#1fa04c" stroke="#168040" stroke-width="0.8"/>
<path d="M282.5,248.0 L289.1,236.0 L275.9,236.0Z" fill="#1fa04c" stroke="#168040" stroke-width="0.8"/>
<path d="M298.9,242.0 L305.5,230.0 L292.3,230.0Z" fill="#1fa04c" stroke="#168040" stroke-width="0.8"/>
<path d="M315.4,237.0 L322.0,225.0 L308.8,225.0Z" fill="#1fa04c" stroke="#168040" stroke-width="0.8"/>
<path d="M331.9,231.6 L338.5,219.6 L325.3,219.6Z" fill="#1fa04c" stroke="#168040" stroke-width="0.8"/>
<path d="M348.3,226.0 L354.9,214.0 L341.7,214.0Z" fill="#1fa04c" stroke="#168040" stroke-width="0.8"/>
<path d="M364.8,223.5 L371.4,211.5 L358.2,211.5Z" fill="#1fa04c" stroke="#168040" stroke-width="0.8"/>
<path d="M381.2,220.8 L387.8,208.8 L374.6,208.8Z" fill="#1fa04c" stroke="#168040" stroke-width="0.8"/>
<path d="M397.7,220.8 L404.3,208.8 L391.1,208.8Z" fill="#1fa04c" stroke="#168040" stroke-width="0.8"/>
<path d="M414.1,218.0 L420.7,206.0 L407.5,206.0Z" fill="#1fa04c" stroke="#168040" stroke-width="0.8"/>
<path d="M430.6,215.3 L437.2,203.3 L424.0,203.3Z" fill="#1fa04c" stroke="#168040" stroke-width="0.8"/>
<path d="M447.0,211.2 L453.6,199.2 L440.4,199.2Z" fill="#1fa04c" stroke="#168040" stroke-width="0.8"/>
<path d="M463.5,208.5 L470.1,196.5 L456.9,196.5Z" fill="#1fa04c" stroke="#168040" stroke-width="0.8"/>
<path d="M479.9,208.0 L486.5,196.0 L473.3,196.0Z" fill="#1fa04c" stroke="#168040" stroke-width="0.8"/>
<path d="M496.4,205.8 L503.0,193.8 L489.8,193.8Z" fill="#1fa04c" stroke="#168040" stroke-width="0.8"/>
<path d="M512.9,204.3 L519.5,192.3 L506.2,192.3Z" fill="#1fa04c" stroke="#168040" stroke-width="0.8"/>
<path d="M529.3,201.3 L535.9,189.3 L522.7,189.3Z" fill="#1fa04c" stroke="#168040" stroke-width="0.8"/>
<path d="M545.8,199.8 L552.4,187.8 L539.2,187.8Z" fill="#1fa04c" stroke="#168040" stroke-width="0.8"/>
<path d="M562.2,196.8 L568.8,184.8 L555.6,184.8Z" fill="#1fa04c" stroke="#168040" stroke-width="0.8"/>
<path d="M578.7,195.3 L585.3,183.3 L572.1,183.3Z" fill="#1fa04c" stroke="#168040" stroke-width="0.8"/>
<path d="M595.1,194.4 L601.7,182.4 L588.5,182.4Z" fill="#1fa04c" stroke="#168040" stroke-width="0.8"/>
<path d="M611.6,193.2 L618.2,181.2 L605.0,181.2Z" fill="#1fa04c" stroke="#168040" stroke-width="0.8"/>
<path d="M628.0,191.4 L634.6,179.4 L621.4,179.4Z" fill="#1fa04c" stroke="#168040" stroke-width="0.8"/>
<path d="M644.5,189.3 L651.1,177.3 L637.9,177.3Z" fill="#1fa04c" stroke="#168040" stroke-width="0.8"/>
<path d="M660.9,187.8 L667.5,175.8 L654.3,175.8Z" fill="#1fa04c" stroke="#168040" stroke-width="0.8"/>
<path d="M677.4,187.8 L684.0,175.8 L670.8,175.8Z" fill="#1fa04c" stroke="#168040" stroke-width="0.8"/>
<path d="M101.5,538.1V546.5M98.2,538.1H104.8M98.2,546.5H104.8" stroke="#b494dc" stroke-width="1.7" fill="none"/>
<path d="M118.0,501.9V512.0M114.7,501.9H121.3M114.7,512.0H121.3" stroke="#b494dc" stroke-width="1.7" fill="none"/>
<path d="M134.4,481.3V494.8M131.1,481.3H137.7M131.1,494.8H137.7" stroke="#b494dc" stroke-width="1.7" fill="none"/>
<path d="M150.9,493.7V503.8M147.6,493.7H154.2M147.6,503.8H154.2" stroke="#b494dc" stroke-width="1.7" fill="none"/>
<path d="M167.3,457.7V481.4M164.0,457.7H170.6M164.0,481.4H170.6" stroke="#b494dc" stroke-width="1.7" fill="none"/>
<path d="M183.8,423.4V464.6M180.5,423.4H187.1M180.5,464.6H187.1" stroke="#b494dc" stroke-width="1.7" fill="none"/>
<path d="M200.2,392.2V444.4M196.9,392.2H203.5M196.9,444.4H203.5" stroke="#b494dc" stroke-width="1.7" fill="none"/>
<path d="M216.7,355.5V411.4M213.4,355.5H220.0M213.4,411.4H220.0" stroke="#b494dc" stroke-width="1.7" fill="none"/>
<path d="M233.1,325.0V382.7M229.8,325.0H236.4M229.8,382.7H236.4" stroke="#b494dc" stroke-width="1.7" fill="none"/>
<path d="M249.6,301.1V357.0M246.3,301.1H252.9M246.3,357.0H252.9" stroke="#b494dc" stroke-width="1.7" fill="none"/>
<path d="M266.0,276.2V332.1M262.7,276.2H269.3M262.7,332.1H269.3" stroke="#b494dc" stroke-width="1.7" fill="none"/>
<path d="M282.5,257.1V309.3M279.2,257.1H285.8M279.2,309.3H285.8" stroke="#b494dc" stroke-width="1.7" fill="none"/>
<path d="M298.9,240.2V288.7M295.6,240.2H302.2M295.6,288.7H302.2" stroke="#b494dc" stroke-width="1.7" fill="none"/>
<path d="M315.4,227.2V270.2M312.1,227.2H318.7M312.1,270.2H318.7" stroke="#b494dc" stroke-width="1.7" fill="none"/>
<path d="M331.9,228.3V245.2M328.6,228.3H335.2M328.6,245.2H335.2" stroke="#b494dc" stroke-width="1.7" fill="none"/>
<path d="M348.3,222.1V232.2M345.0,222.1H351.6M345.0,232.2H351.6" stroke="#b494dc" stroke-width="1.7" fill="none"/>
<path d="M364.8,214.7V223.1M361.5,214.7H368.1M361.5,223.1H368.1" stroke="#b494dc" stroke-width="1.7" fill="none"/>
<path d="M381.2,208.7V215.4M377.9,208.7H384.5M377.9,215.4H384.5" stroke="#b494dc" stroke-width="1.7" fill="none"/>
<path d="M397.7,203.3V210.0M394.4,203.3H401.0M394.4,210.0H401.0" stroke="#b494dc" stroke-width="1.7" fill="none"/>
<path d="M414.1,197.7V204.4M410.8,197.7H417.4M410.8,204.4H417.4" stroke="#b494dc" stroke-width="1.7" fill="none"/>
<path d="M430.6,192.4V199.1M427.3,192.4H433.9M427.3,199.1H433.9" stroke="#b494dc" stroke-width="1.7" fill="none"/>
<path d="M447.0,187.0V193.7M443.7,187.0H450.3M443.7,193.7H450.3" stroke="#b494dc" stroke-width="1.7" fill="none"/>
<path d="M463.5,182.9V189.6M460.2,182.9H466.8M460.2,189.6H466.8" stroke="#b494dc" stroke-width="1.7" fill="none"/>
<path d="M479.9,180.2V186.9M476.6,180.2H483.2M476.6,186.9H483.2" stroke="#b494dc" stroke-width="1.7" fill="none"/>
<path d="M496.4,175.5V182.2M493.1,175.5H499.7M493.1,182.2H499.7" stroke="#b494dc" stroke-width="1.7" fill="none"/>
<path d="M512.9,173.1V179.8M509.6,173.1H516.1M509.6,179.8H516.1" stroke="#b494dc" stroke-width="1.7" fill="none"/>
<path d="M529.3,170.2V176.9M526.0,170.2H532.6M526.0,176.9H532.6" stroke="#b494dc" stroke-width="1.7" fill="none"/>
<path d="M545.8,166.6V173.3M542.5,166.6H549.1M542.5,173.3H549.1" stroke="#b494dc" stroke-width="1.7" fill="none"/>
<path d="M562.2,164.5V171.2M558.9,164.5H565.5M558.9,171.2H565.5" stroke="#b494dc" stroke-width="1.7" fill="none"/>
<path d="M578.7,162.1V168.8M575.4,162.1H582.0M575.4,168.8H582.0" stroke="#b494dc" stroke-width="1.7" fill="none"/>
<path d="M595.1,160.0V166.7M591.8,160.0H598.4M591.8,166.7H598.4" stroke="#b494dc" stroke-width="1.7" fill="none"/>
<path d="M611.6,157.6V164.3M608.3,157.6H614.9M608.3,164.3H614.9" stroke="#b494dc" stroke-width="1.7" fill="none"/>
<path d="M628.0,155.2V161.9M624.7,155.2H631.3M624.7,161.9H631.3" stroke="#b494dc" stroke-width="1.7" fill="none"/>
<path d="M644.5,153.1V159.8M641.2,153.1H647.8M641.2,159.8H647.8" stroke="#b494dc" stroke-width="1.7" fill="none"/>
<path d="M660.9,151.6V158.3M657.6,151.6H664.2M657.6,158.3H664.2" stroke="#b494dc" stroke-width="1.7" fill="none"/>
<path d="M677.4,150.1V156.8M674.1,150.1H680.7M674.1,156.8H680.7" stroke="#b494dc" stroke-width="1.7" fill="none"/>
<polyline points="101.5,542.2 118.0,506.8 134.4,487.8 150.9,498.6 167.3,468.7 183.8,441.5 200.2,414.3 216.7,378.9 233.1,349.0 249.6,324.5 266.0,299.6 282.5,279.2 298.9,261.0 315.4,246.0 331.9,236.3 348.3,227.0 364.8,218.8 381.2,212.0 397.7,206.6 414.1,201.0 430.6,195.7 447.0,190.3 463.5,186.2 479.9,183.5 496.4,178.8 512.9,176.4 529.3,173.5 545.8,169.9 562.2,167.8 578.7,165.4 595.1,163.3 611.6,160.9 628.0,158.5 644.5,156.4 660.9,154.9 677.4,153.4" fill="none" stroke="#1a1a1a" stroke-width="1.5" stroke-linejoin="round"/>
<path d="M101.5,535.3 L107.8,542.2 L101.5,549.1 L95.2,542.2Z" fill="#a86ee6" stroke="#9458d8" stroke-width="0.8"/>
<path d="M118.0,499.9 L124.3,506.8 L118.0,513.7 L111.7,506.8Z" fill="#a86ee6" stroke="#9458d8" stroke-width="0.8"/>
<path d="M134.4,480.9 L140.7,487.8 L134.4,494.7 L128.1,487.8Z" fill="#a86ee6" stroke="#9458d8" stroke-width="0.8"/>
<path d="M150.9,491.7 L157.2,498.6 L150.9,505.5 L144.6,498.6Z" fill="#a86ee6" stroke="#9458d8" stroke-width="0.8"/>
<path d="M167.3,461.8 L173.6,468.7 L167.3,475.6 L161.0,468.7Z" fill="#a86ee6" stroke="#9458d8" stroke-width="0.8"/>
<path d="M183.8,434.6 L190.1,441.5 L183.8,448.4 L177.5,441.5Z" fill="#a86ee6" stroke="#9458d8" stroke-width="0.8"/>
<path d="M200.2,407.4 L206.5,414.3 L200.2,421.2 L193.9,414.3Z" fill="#a86ee6" stroke="#9458d8" stroke-width="0.8"/>
<path d="M216.7,372.0 L223.0,378.9 L216.7,385.8 L210.4,378.9Z" fill="#a86ee6" stroke="#9458d8" stroke-width="0.8"/>
<path d="M233.1,342.1 L239.4,349.0 L233.1,355.9 L226.8,349.0Z" fill="#a86ee6" stroke="#9458d8" stroke-width="0.8"/>
<path d="M249.6,317.6 L255.9,324.5 L249.6,331.4 L243.3,324.5Z" fill="#a86ee6" stroke="#9458d8" stroke-width="0.8"/>
<path d="M266.0,292.7 L272.3,299.6 L266.0,306.5 L259.7,299.6Z" fill="#a86ee6" stroke="#9458d8" stroke-width="0.8"/>
<path d="M282.5,272.3 L288.8,279.2 L282.5,286.1 L276.2,279.2Z" fill="#a86ee6" stroke="#9458d8" stroke-width="0.8"/>
<path d="M298.9,254.1 L305.2,261.0 L298.9,267.9 L292.6,261.0Z" fill="#a86ee6" stroke="#9458d8" stroke-width="0.8"/>
<path d="M315.4,239.1 L321.7,246.0 L315.4,252.9 L309.1,246.0Z" fill="#a86ee6" stroke="#9458d8" stroke-width="0.8"/>
<path d="M331.9,229.4 L338.2,236.3 L331.9,243.2 L325.6,236.3Z" fill="#a86ee6" stroke="#9458d8" stroke-width="0.8"/>
<path d="M348.3,220.1 L354.6,227.0 L348.3,233.9 L342.0,227.0Z" fill="#a86ee6" stroke="#9458d8" stroke-width="0.8"/>
<path d="M364.8,211.9 L371.1,218.8 L364.8,225.7 L358.5,218.8Z" fill="#a86ee6" stroke="#9458d8" stroke-width="0.8"/>
<path d="M381.2,205.1 L387.5,212.0 L381.2,218.9 L374.9,212.0Z" fill="#a86ee6" stroke="#9458d8" stroke-width="0.8"/>
<path d="M397.7,199.7 L404.0,206.6 L397.7,213.5 L391.4,206.6Z" fill="#a86ee6" stroke="#9458d8" stroke-width="0.8"/>
<path d="M414.1,194.1 L420.4,201.0 L414.1,207.9 L407.8,201.0Z" fill="#a86ee6" stroke="#9458d8" stroke-width="0.8"/>
<path d="M430.6,188.8 L436.9,195.7 L430.6,202.6 L424.3,195.7Z" fill="#a86ee6" stroke="#9458d8" stroke-width="0.8"/>
<path d="M447.0,183.4 L453.3,190.3 L447.0,197.2 L440.7,190.3Z" fill="#a86ee6" stroke="#9458d8" stroke-width="0.8"/>
<path d="M463.5,179.3 L469.8,186.2 L463.5,193.1 L457.2,186.2Z" fill="#a86ee6" stroke="#9458d8" stroke-width="0.8"/>
<path d="M479.9,176.6 L486.2,183.5 L479.9,190.4 L473.6,183.5Z" fill="#a86ee6" stroke="#9458d8" stroke-width="0.8"/>
<path d="M496.4,171.9 L502.7,178.8 L496.4,185.7 L490.1,178.8Z" fill="#a86ee6" stroke="#9458d8" stroke-width="0.8"/>
<path d="M512.9,169.5 L519.1,176.4 L512.9,183.3 L506.6,176.4Z" fill="#a86ee6" stroke="#9458d8" stroke-width="0.8"/>
<path d="M529.3,166.6 L535.6,173.5 L529.3,180.4 L523.0,173.5Z" fill="#a86ee6" stroke="#9458d8" stroke-width="0.8"/>
<path d="M545.8,163.0 L552.1,169.9 L545.8,176.8 L539.5,169.9Z" fill="#a86ee6" stroke="#9458d8" stroke-width="0.8"/>
<path d="M562.2,160.9 L568.5,167.8 L562.2,174.7 L555.9,167.8Z" fill="#a86ee6" stroke="#9458d8" stroke-width="0.8"/>
<path d="M578.7,158.5 L585.0,165.4 L578.7,172.3 L572.4,165.4Z" fill="#a86ee6" stroke="#9458d8" stroke-width="0.8"/>
<path d="M595.1,156.4 L601.4,163.3 L595.1,170.2 L588.8,163.3Z" fill="#a86ee6" stroke="#9458d8" stroke-width="0.8"/>
<path d="M611.6,154.0 L617.9,160.9 L611.6,167.8 L605.3,160.9Z" fill="#a86ee6" stroke="#9458d8" stroke-width="0.8"/>
<path d="M628.0,151.6 L634.3,158.5 L628.0,165.4 L621.7,158.5Z" fill="#a86ee6" stroke="#9458d8" stroke-width="0.8"/>
<path d="M644.5,149.5 L650.8,156.4 L644.5,163.3 L638.2,156.4Z" fill="#a86ee6" stroke="#9458d8" stroke-width="0.8"/>
<path d="M660.9,148.0 L667.2,154.9 L660.9,161.8 L654.6,154.9Z" fill="#a86ee6" stroke="#9458d8" stroke-width="0.8"/>
<path d="M677.4,146.5 L683.7,153.4 L677.4,160.3 L671.1,153.4Z" fill="#a86ee6" stroke="#9458d8" stroke-width="0.8"/>
<text x="39.17" y="686.7" font-family='"Liberation Sans", sans-serif' font-size="32" font-weight="bold" fill="#111" textLength="28.81" lengthAdjust="spacingAndGlyphs">B.</text>
<text x="78.16" y="686.7" font-family='"Liberation Sans", sans-serif' font-size="32" font-weight="bold" fill="#111" textLength="42.58" lengthAdjust="spacingAndGlyphs">No</text>
<text x="130.55" y="686.7" font-family='"Liberation Sans", sans-serif' font-size="32" font-weight="bold" fill="#111" textLength="110.00" lengthAdjust="spacingAndGlyphs">growth</text>
<text x="249.04" y="686.7" font-family='"Liberation Sans", sans-serif' font-size="32" font-weight="bold" fill="#111" textLength="30.40" lengthAdjust="spacingAndGlyphs">of</text>
<text x="289.30" y="686.7" font-family='"Liberation Sans", sans-serif' font-size="32" font-weight="bold" fill="#111" textLength="21.21" lengthAdjust="spacingAndGlyphs">Δ</text>
<text x="313.20" y="686.7" font-family='"Liberation Sans", sans-serif' font-size="32" font-weight="bold" font-style="italic" fill="#111" textLength="76.51" lengthAdjust="spacingAndGlyphs">gbcA</text>
<text x="398.07" y="686.7" font-family='"Liberation Sans", sans-serif' font-size="32" font-weight="bold" fill="#111" textLength="38.48" lengthAdjust="spacingAndGlyphs">on</text>
<text x="446.65" y="686.7" font-family='"Liberation Sans", sans-serif' font-size="32" font-weight="bold" fill="#111" textLength="42.13" lengthAdjust="spacingAndGlyphs">GB</text>
<path d="M111.5,727.2V1197" stroke="#111" stroke-width="1.8" fill="none"/>
<path d="M105.0,728.0H111.5" stroke="#111" stroke-width="1.8"/>
<path d="M105.0,921.5H111.5" stroke="#111" stroke-width="1.8"/>
<path d="M105.0,1115.0H111.5" stroke="#111" stroke-width="1.8"/>
<path d="M108.5,863.3H111.5" stroke="#111" stroke-width="1.8"/>
<path d="M108.5,829.2H111.5" stroke="#111" stroke-width="1.8"/>
<path d="M108.5,805.0H111.5" stroke="#111" stroke-width="1.8"/>
<path d="M108.5,786.2H111.5" stroke="#111" stroke-width="1.8"/>
<path d="M108.5,770.9H111.5" stroke="#111" stroke-width="1.8"/>
<path d="M108.5,758.0H111.5" stroke="#111" stroke-width="1.8"/>
<path d="M108.5,746.8H111.5" stroke="#111" stroke-width="1.8"/>
<path d="M108.5,736.9H111.5" stroke="#111" stroke-width="1.8"/>
<path d="M108.5,1056.8H111.5" stroke="#111" stroke-width="1.8"/>
<path d="M108.5,1022.7H111.5" stroke="#111" stroke-width="1.8"/>
<path d="M108.5,998.5H111.5" stroke="#111" stroke-width="1.8"/>
<path d="M108.5,979.7H111.5" stroke="#111" stroke-width="1.8"/>
<path d="M108.5,964.4H111.5" stroke="#111" stroke-width="1.8"/>
<path d="M108.5,951.5H111.5" stroke="#111" stroke-width="1.8"/>
<path d="M108.5,940.3H111.5" stroke="#111" stroke-width="1.8"/>
<path d="M108.5,930.4H111.5" stroke="#111" stroke-width="1.8"/>
<path d="M108.5,1192.0H111.5" stroke="#111" stroke-width="1.8"/>
<path d="M108.5,1173.2H111.5" stroke="#111" stroke-width="1.8"/>
<path d="M108.5,1157.9H111.5" stroke="#111" stroke-width="1.8"/>
<path d="M108.5,1145.0H111.5" stroke="#111" stroke-width="1.8"/>
<path d="M108.5,1133.8H111.5" stroke="#111" stroke-width="1.8"/>
<path d="M108.5,1123.9H111.5" stroke="#111" stroke-width="1.8"/>
<path d="M113,1190H714" stroke="#111" stroke-width="1.8" fill="none"/>
<path d="M111.4,1190V1196" stroke="#111" stroke-width="1.8"/>
<path d="M195.1,1190V1196" stroke="#111" stroke-width="1.8"/>
<path d="M278.8,1190V1196" stroke="#111" stroke-width="1.8"/>
<path d="M362.5,1190V1196" stroke="#111" stroke-width="1.8"/>
<path d="M446.2,1190V1196" stroke="#111" stroke-width="1.8"/>
<path d="M529.9,1190V1196" stroke="#111" stroke-width="1.8"/>
<path d="M613.6,1190V1196" stroke="#111" stroke-width="1.8"/>
<path d="M697.3,1190V1196" stroke="#111" stroke-width="1.8"/>
<path d="M153.2,1190V1193.5" stroke="#111" stroke-width="1.8"/>
<path d="M236.9,1190V1193.5" stroke="#111" stroke-width="1.8"/>
<path d="M320.6,1190V1193.5" stroke="#111" stroke-width="1.8"/>
<path d="M404.4,1190V1193.5" stroke="#111" stroke-width="1.8"/>
<path d="M488.0,1190V1193.5" stroke="#111" stroke-width="1.8"/>
<path d="M571.8,1190V1193.5" stroke="#111" stroke-width="1.8"/>
<path d="M655.4,1190V1193.5" stroke="#111" stroke-width="1.8"/>
<text x="85.07" y="735.4" font-family='"Liberation Sans", sans-serif' font-size="29.5" fill="#111" textLength="8.26" lengthAdjust="spacingAndGlyphs">1</text>
<text x="62.59" y="929.4" font-family='"Liberation Sans", sans-serif' font-size="29.5" fill="#111" textLength="32.34" lengthAdjust="spacingAndGlyphs">0.1</text>
<text x="48.26" y="1122.2" font-family='"Liberation Sans", sans-serif' font-size="29.5" fill="#111" textLength="46.60" lengthAdjust="spacingAndGlyphs">0.01</text>
<text x="111.4" y="1229.2" font-family='"Liberation Sans", sans-serif' font-size="30" font-weight="normal" text-anchor="middle" fill="#111" textLength="13.4" lengthAdjust="spacingAndGlyphs" >0</text>
<text x="195.1" y="1229.2" font-family='"Liberation Sans", sans-serif' font-size="30" font-weight="normal" text-anchor="middle" fill="#111" textLength="13.4" lengthAdjust="spacingAndGlyphs" >5</text>
<text x="278.8" y="1229.2" font-family='"Liberation Sans", sans-serif' font-size="30" font-weight="normal" text-anchor="middle" fill="#111" textLength="26.7" lengthAdjust="spacingAndGlyphs" >10</text>
<text x="362.5" y="1229.2" font-family='"Liberation Sans", sans-serif' font-size="30" font-weight="normal" text-anchor="middle" fill="#111" textLength="26.7" lengthAdjust="spacingAndGlyphs" >15</text>
<text x="446.2" y="1229.2" font-family='"Liberation Sans", sans-serif' font-size="30" font-weight="normal" text-anchor="middle" fill="#111" textLength="26.7" lengthAdjust="spacingAndGlyphs" >20</text>
<text x="529.9" y="1229.2" font-family='"Liberation Sans", sans-serif' font-size="30" font-weight="normal" text-anchor="middle" fill="#111" textLength="26.7" lengthAdjust="spacingAndGlyphs" >25</text>
<text x="613.6" y="1229.2" font-family='"Liberation Sans", sans-serif' font-size="30" font-weight="normal" text-anchor="middle" fill="#111" textLength="26.7" lengthAdjust="spacingAndGlyphs" >30</text>
<text x="697.3" y="1229.2" font-family='"Liberation Sans", sans-serif' font-size="30" font-weight="normal" text-anchor="middle" fill="#111" textLength="26.7" lengthAdjust="spacingAndGlyphs" >35</text>
<text x="353.33" y="1275.4" font-family='"Liberation Sans", sans-serif' font-size="29" fill="#111" textLength="122.75" lengthAdjust="spacingAndGlyphs">Time (hrs.)</text>
<text transform="translate(32.30,999.67) rotate(-90) scale(0.830,1)" font-family='"Liberation Sans", sans-serif' font-size="30" fill="#111">O</text>
<text transform="translate(32.30,976.01) rotate(-90) scale(0.816,1)" font-family='"Liberation Sans", sans-serif' font-size="30" fill="#111">D</text>
<text transform="translate(40.20,954.64) rotate(-90) scale(0.907,1)" font-family='"Liberation Sans", sans-serif' font-size="22" fill="#111">5</text>
<text transform="translate(40.20,943.80) rotate(-90) scale(0.931,1)" font-family='"Liberation Sans", sans-serif' font-size="22" fill="#111">9</text>
<text transform="translate(40.20,932.64) rotate(-90) scale(0.907,1)" font-family='"Liberation Sans", sans-serif' font-size="22" fill="#111">5</text>
<text x="219.5" y="771.5" font-family='"Liberation Serif", serif' font-size="40" font-weight="normal" text-anchor="start" fill="#111" textLength="141.5" lengthAdjust="spacingAndGlyphs" >glucose</text>
<text x="248.5" y="834.5" font-family='"Liberation Serif", serif' font-size="40.5" font-weight="normal" text-anchor="start" fill="#111" textLength="104" lengthAdjust="spacingAndGlyphs" >DMG</text>
<text x="285.5" y="970.3" font-family='"Liberation Serif", serif' font-size="40" font-weight="normal" text-anchor="start" fill="#111" textLength="175" lengthAdjust="spacingAndGlyphs" >sarcosine</text>
<path d="M111.4,1134.0V1150.9M108.1,1134.0H114.7M108.1,1150.9H114.7" stroke="#4a4a4a" stroke-width="1.7" fill="none"/>
<path d="M128.1,1150.6V1181.2M124.8,1150.6H131.4M124.8,1181.2H131.4" stroke="#4a4a4a" stroke-width="1.7" fill="none"/>
<path d="M144.9,1085.7V1102.6M141.6,1085.7H148.2M141.6,1102.6H148.2" stroke="#4a4a4a" stroke-width="1.7" fill="none"/>
<path d="M161.6,1080.5V1094.0M158.3,1080.5H164.9M158.3,1094.0H164.9" stroke="#4a4a4a" stroke-width="1.7" fill="none"/>
<path d="M178.4,1068.7V1083.9M175.1,1068.7H181.7M175.1,1083.9H181.7" stroke="#4a4a4a" stroke-width="1.7" fill="none"/>
<path d="M195.1,1066.0V1081.2M191.8,1066.0H198.4M191.8,1081.2H198.4" stroke="#4a4a4a" stroke-width="1.7" fill="none"/>
<path d="M211.8,1063.3V1078.5M208.5,1063.3H215.1M208.5,1078.5H215.1" stroke="#4a4a4a" stroke-width="1.7" fill="none"/>
<path d="M228.6,1064.7V1079.9M225.3,1064.7H231.9M225.3,1079.9H231.9" stroke="#4a4a4a" stroke-width="1.7" fill="none"/>
<path d="M245.3,1060.6V1075.8M242.0,1060.6H248.6M242.0,1075.8H248.6" stroke="#4a4a4a" stroke-width="1.7" fill="none"/>
<path d="M262.1,1062.0V1077.2M258.8,1062.0H265.4M258.8,1077.2H265.4" stroke="#4a4a4a" stroke-width="1.7" fill="none"/>
<path d="M278.8,1059.2V1074.4M275.5,1059.2H282.1M275.5,1074.4H282.1" stroke="#4a4a4a" stroke-width="1.7" fill="none"/>
<path d="M295.5,1058.2V1073.4M292.2,1058.2H298.8M292.2,1073.4H298.8" stroke="#4a4a4a" stroke-width="1.7" fill="none"/>
<path d="M312.3,1057.6V1072.8M309.0,1057.6H315.6M309.0,1072.8H315.6" stroke="#4a4a4a" stroke-width="1.7" fill="none"/>
<path d="M329.0,1062.1V1077.3M325.7,1062.1H332.3M325.7,1077.3H332.3" stroke="#4a4a4a" stroke-width="1.7" fill="none"/>
<path d="M345.8,1059.1V1074.3M342.5,1059.1H349.1M342.5,1074.3H349.1" stroke="#4a4a4a" stroke-width="1.7" fill="none"/>
<path d="M362.5,1057.6V1072.8M359.2,1057.6H365.8M359.2,1072.8H365.8" stroke="#4a4a4a" stroke-width="1.7" fill="none"/>
<path d="M379.2,1056.1V1071.3M375.9,1056.1H382.5M375.9,1071.3H382.5" stroke="#4a4a4a" stroke-width="1.7" fill="none"/>
<path d="M396.0,1060.6V1075.8M392.7,1060.6H399.3M392.7,1075.8H399.3" stroke="#4a4a4a" stroke-width="1.7" fill="none"/>
<path d="M412.7,1056.1V1071.3M409.4,1056.1H416.0M409.4,1071.3H416.0" stroke="#4a4a4a" stroke-width="1.7" fill="none"/>
<path d="M429.5,1057.6V1072.8M426.2,1057.6H432.8M426.2,1072.8H432.8" stroke="#4a4a4a" stroke-width="1.7" fill="none"/>
<path d="M446.2,1053.1V1068.3M442.9,1053.1H449.5M442.9,1068.3H449.5" stroke="#4a4a4a" stroke-width="1.7" fill="none"/>
<path d="M462.9,1050.1V1065.3M459.6,1050.1H466.2M459.6,1065.3H466.2" stroke="#4a4a4a" stroke-width="1.7" fill="none"/>
<path d="M479.7,1051.6V1066.8M476.4,1051.6H483.0M476.4,1066.8H483.0" stroke="#4a4a4a" stroke-width="1.7" fill="none"/>
<path d="M496.4,1050.2V1065.4M493.1,1050.2H499.7M493.1,1065.4H499.7" stroke="#4a4a4a" stroke-width="1.7" fill="none"/>
<path d="M513.2,1046.5V1061.7M509.9,1046.5H516.5M509.9,1061.7H516.5" stroke="#4a4a4a" stroke-width="1.7" fill="none"/>
<path d="M529.9,1048.7V1063.9M526.6,1048.7H533.2M526.6,1063.9H533.2" stroke="#4a4a4a" stroke-width="1.7" fill="none"/>
<path d="M546.6,1049.6V1064.8M543.3,1049.6H549.9M543.3,1064.8H549.9" stroke="#4a4a4a" stroke-width="1.7" fill="none"/>
<path d="M563.4,1047.1V1062.3M560.1,1047.1H566.7M560.1,1062.3H566.7" stroke="#4a4a4a" stroke-width="1.7" fill="none"/>
<path d="M580.1,1049.6V1064.8M576.8,1049.6H583.4M576.8,1064.8H583.4" stroke="#4a4a4a" stroke-width="1.7" fill="none"/>
<path d="M596.9,1049.6V1064.8M593.6,1049.6H600.2M593.6,1064.8H600.2" stroke="#4a4a4a" stroke-width="1.7" fill="none"/>
<path d="M613.6,1049.6V1064.8M610.3,1049.6H616.9M610.3,1064.8H616.9" stroke="#4a4a4a" stroke-width="1.7" fill="none"/>
<path d="M630.3,1040.9V1056.1M627.0,1040.9H633.6M627.0,1056.1H633.6" stroke="#4a4a4a" stroke-width="1.7" fill="none"/>
<path d="M647.1,1058.1V1073.3M643.8,1058.1H650.4M643.8,1073.3H650.4" stroke="#4a4a4a" stroke-width="1.7" fill="none"/>
<path d="M663.8,1051.8V1067.0M660.5,1051.8H667.1M660.5,1067.0H667.1" stroke="#4a4a4a" stroke-width="1.7" fill="none"/>
<path d="M680.6,1042.4V1057.6M677.3,1042.4H683.9M677.3,1057.6H683.9" stroke="#4a4a4a" stroke-width="1.7" fill="none"/>
<path d="M697.3,1041.5V1056.7M694.0,1041.5H700.6M694.0,1056.7H700.6" stroke="#4a4a4a" stroke-width="1.7" fill="none"/>
<polyline points="111.4,1142.0 128.1,1164.5 144.9,1093.7 161.6,1087.0 178.4,1076.0 195.1,1073.3 211.8,1070.6 228.6,1072.0 245.3,1067.9 262.1,1069.3 278.8,1066.5 295.5,1065.5 312.3,1064.9 329.0,1069.4 345.8,1066.4 362.5,1064.9 379.2,1063.4 396.0,1067.9 412.7,1063.4 429.5,1064.9 446.2,1060.4 462.9,1057.4 479.7,1058.9 496.4,1057.5 513.2,1053.8 529.9,1056.0 546.6,1056.9 563.4,1054.4 580.1,1056.9 596.9,1056.9 613.6,1056.9 630.3,1048.2 647.1,1065.4 663.8,1059.1 680.6,1049.7 697.3,1048.8" fill="none" stroke="#1a1a1a" stroke-width="1.5" stroke-linejoin="round"/>
<rect x="107.2" y="1137.8" width="8.5" height="8.5" fill="#3a3a3a" stroke="#222222" stroke-width="0.8"/>
<rect x="123.9" y="1160.3" width="8.5" height="8.5" fill="#3a3a3a" stroke="#222222" stroke-width="0.8"/>
<rect x="140.6" y="1089.5" width="8.5" height="8.5" fill="#3a3a3a" stroke="#222222" stroke-width="0.8"/>
<rect x="157.4" y="1082.8" width="8.5" height="8.5" fill="#3a3a3a" stroke="#222222" stroke-width="0.8"/>
<rect x="174.1" y="1071.8" width="8.5" height="8.5" fill="#3a3a3a" stroke="#222222" stroke-width="0.8"/>
<rect x="190.9" y="1069.1" width="8.5" height="8.5" fill="#3a3a3a" stroke="#222222" stroke-width="0.8"/>
<rect x="207.6" y="1066.4" width="8.5" height="8.5" fill="#3a3a3a" stroke="#222222" stroke-width="0.8"/>
<rect x="224.3" y="1067.8" width="8.5" height="8.5" fill="#3a3a3a" stroke="#222222" stroke-width="0.8"/>
<rect x="241.1" y="1063.7" width="8.5" height="8.5" fill="#3a3a3a" stroke="#222222" stroke-width="0.8"/>
<rect x="257.8" y="1065.1" width="8.5" height="8.5" fill="#3a3a3a" stroke="#222222" stroke-width="0.8"/>
<rect x="274.6" y="1062.3" width="8.5" height="8.5" fill="#3a3a3a" stroke="#222222" stroke-width="0.8"/>
<rect x="291.3" y="1061.3" width="8.5" height="8.5" fill="#3a3a3a" stroke="#222222" stroke-width="0.8"/>
<rect x="308.0" y="1060.7" width="8.5" height="8.5" fill="#3a3a3a" stroke="#222222" stroke-width="0.8"/>
<rect x="324.8" y="1065.2" width="8.5" height="8.5" fill="#3a3a3a" stroke="#222222" stroke-width="0.8"/>
<rect x="341.5" y="1062.2" width="8.5" height="8.5" fill="#3a3a3a" stroke="#222222" stroke-width="0.8"/>
<rect x="358.3" y="1060.7" width="8.5" height="8.5" fill="#3a3a3a" stroke="#222222" stroke-width="0.8"/>
<rect x="375.0" y="1059.2" width="8.5" height="8.5" fill="#3a3a3a" stroke="#222222" stroke-width="0.8"/>
<rect x="391.7" y="1063.7" width="8.5" height="8.5" fill="#3a3a3a" stroke="#222222" stroke-width="0.8"/>
<rect x="408.5" y="1059.2" width="8.5" height="8.5" fill="#3a3a3a" stroke="#222222" stroke-width="0.8"/>
<rect x="425.2" y="1060.7" width="8.5" height="8.5" fill="#3a3a3a" stroke="#222222" stroke-width="0.8"/>
<rect x="442.0" y="1056.2" width="8.5" height="8.5" fill="#3a3a3a" stroke="#222222" stroke-width="0.8"/>
<rect x="458.7" y="1053.2" width="8.5" height="8.5" fill="#3a3a3a" stroke="#222222" stroke-width="0.8"/>
<rect x="475.4" y="1054.7" width="8.5" height="8.5" fill="#3a3a3a" stroke="#222222" stroke-width="0.8"/>
<rect x="492.2" y="1053.3" width="8.5" height="8.5" fill="#3a3a3a" stroke="#222222" stroke-width="0.8"/>
<rect x="508.9" y="1049.6" width="8.5" height="8.5" fill="#3a3a3a" stroke="#222222" stroke-width="0.8"/>
<rect x="525.7" y="1051.8" width="8.5" height="8.5" fill="#3a3a3a" stroke="#222222" stroke-width="0.8"/>
<rect x="542.4" y="1052.7" width="8.5" height="8.5" fill="#3a3a3a" stroke="#222222" stroke-width="0.8"/>
<rect x="559.1" y="1050.2" width="8.5" height="8.5" fill="#3a3a3a" stroke="#222222" stroke-width="0.8"/>
<rect x="575.9" y="1052.7" width="8.5" height="8.5" fill="#3a3a3a" stroke="#222222" stroke-width="0.8"/>
<rect x="592.6" y="1052.7" width="8.5" height="8.5" fill="#3a3a3a" stroke="#222222" stroke-width="0.8"/>
<rect x="609.4" y="1052.7" width="8.5" height="8.5" fill="#3a3a3a" stroke="#222222" stroke-width="0.8"/>
<rect x="626.1" y="1044.0" width="8.5" height="8.5" fill="#3a3a3a" stroke="#222222" stroke-width="0.8"/>
<rect x="642.8" y="1061.2" width="8.5" height="8.5" fill="#3a3a3a" stroke="#222222" stroke-width="0.8"/>
<rect x="659.6" y="1054.9" width="8.5" height="8.5" fill="#3a3a3a" stroke="#222222" stroke-width="0.8"/>
<rect x="676.3" y="1045.5" width="8.5" height="8.5" fill="#3a3a3a" stroke="#222222" stroke-width="0.8"/>
<rect x="693.1" y="1044.6" width="8.5" height="8.5" fill="#3a3a3a" stroke="#222222" stroke-width="0.8"/>
<polyline points="111.4,1121.0 128.1,1036.6 144.9,950.2 161.6,899.6 178.4,862.9 195.1,832.1 211.8,819.3 228.6,807.5 245.3,797.8 262.1,793.3 278.8,787.5 295.5,784.6 312.3,783.0 329.0,783.0 345.8,780.7 362.5,779.3 379.2,780.3 396.0,780.8 412.7,780.3 429.5,778.1 446.2,775.4 462.9,776.7 479.7,775.4 496.4,779.0 513.2,773.5 529.9,776.6 546.6,775.0 563.4,773.5 580.1,773.5 596.9,774.4 613.6,773.5 630.3,770.3 647.1,776.0 663.8,776.6 680.6,773.5 697.3,772.0" fill="none" stroke="#1a1a1a" stroke-width="1.5" stroke-linejoin="round"/>
<circle cx="111.4" cy="1121.0" r="5.6" fill="#ee2a2a" stroke="#c81818" stroke-width="0.8"/>
<circle cx="128.1" cy="1036.6" r="5.6" fill="#ee2a2a" stroke="#c81818" stroke-width="0.8"/>
<circle cx="144.9" cy="950.2" r="5.6" fill="#ee2a2a" stroke="#c81818" stroke-width="0.8"/>
<circle cx="161.6" cy="899.6" r="5.6" fill="#ee2a2a" stroke="#c81818" stroke-width="0.8"/>
<circle cx="178.4" cy="862.9" r="5.6" fill="#ee2a2a" stroke="#c81818" stroke-width="0.8"/>
<circle cx="195.1" cy="832.1" r="5.6" fill="#ee2a2a" stroke="#c81818" stroke-width="0.8"/>
<circle cx="211.8" cy="819.3" r="5.6" fill="#ee2a2a" stroke="#c81818" stroke-width="0.8"/>
<circle cx="228.6" cy="807.5" r="5.6" fill="#ee2a2a" stroke="#c81818" stroke-width="0.8"/>
<circle cx="245.3" cy="797.8" r="5.6" fill="#ee2a2a" stroke="#c81818" stroke-width="0.8"/>
<circle cx="262.1" cy="793.3" r="5.6" fill="#ee2a2a" stroke="#c81818" stroke-width="0.8"/>
<circle cx="278.8" cy="787.5" r="5.6" fill="#ee2a2a" stroke="#c81818" stroke-width="0.8"/>
<circle cx="295.5" cy="784.6" r="5.6" fill="#ee2a2a" stroke="#c81818" stroke-width="0.8"/>
<circle cx="312.3" cy="783.0" r="5.6" fill="#ee2a2a" stroke="#c81818" stroke-width="0.8"/>
<circle cx="329.0" cy="783.0" r="5.6" fill="#ee2a2a" stroke="#c81818" stroke-width="0.8"/>
<circle cx="345.8" cy="780.7" r="5.6" fill="#ee2a2a" stroke="#c81818" stroke-width="0.8"/>
<circle cx="362.5" cy="779.3" r="5.6" fill="#ee2a2a" stroke="#c81818" stroke-width="0.8"/>
<circle cx="379.2" cy="780.3" r="5.6" fill="#ee2a2a" stroke="#c81818" stroke-width="0.8"/>
<circle cx="396.0" cy="780.8" r="5.6" fill="#ee2a2a" stroke="#c81818" stroke-width="0.8"/>
<circle cx="412.7" cy="780.3" r="5.6" fill="#ee2a2a" stroke="#c81818" stroke-width="0.8"/>
<circle cx="429.5" cy="778.1" r="5.6" fill="#ee2a2a" stroke="#c81818" stroke-width="0.8"/>
<circle cx="446.2" cy="775.4" r="5.6" fill="#ee2a2a" stroke="#c81818" stroke-width="0.8"/>
<circle cx="462.9" cy="776.7" r="5.6" fill="#ee2a2a" stroke="#c81818" stroke-width="0.8"/>
<circle cx="479.7" cy="775.4" r="5.6" fill="#ee2a2a" stroke="#c81818" stroke-width="0.8"/>
<circle cx="496.4" cy="779.0" r="5.6" fill="#ee2a2a" stroke="#c81818" stroke-width="0.8"/>
<circle cx="513.2" cy="773.5" r="5.6" fill="#ee2a2a" stroke="#c81818" stroke-width="0.8"/>
<circle cx="529.9" cy="776.6" r="5.6" fill="#ee2a2a" stroke="#c81818" stroke-width="0.8"/>
<circle cx="546.6" cy="775.0" r="5.6" fill="#ee2a2a" stroke="#c81818" stroke-width="0.8"/>
<circle cx="563.4" cy="773.5" r="5.6" fill="#ee2a2a" stroke="#c81818" stroke-width="0.8"/>
<circle cx="580.1" cy="773.5" r="5.6" fill="#ee2a2a" stroke="#c81818" stroke-width="0.8"/>
<circle cx="596.9" cy="774.4" r="5.6" fill="#ee2a2a" stroke="#c81818" stroke-width="0.8"/>
<circle cx="613.6" cy="773.5" r="5.6" fill="#ee2a2a" stroke="#c81818" stroke-width="0.8"/>
<circle cx="630.3" cy="770.3" r="5.6" fill="#ee2a2a" stroke="#c81818" stroke-width="0.8"/>
<circle cx="647.1" cy="776.0" r="5.6" fill="#ee2a2a" stroke="#c81818" stroke-width="0.8"/>
<circle cx="663.8" cy="776.6" r="5.6" fill="#ee2a2a" stroke="#c81818" stroke-width="0.8"/>
<circle cx="680.6" cy="773.5" r="5.6" fill="#ee2a2a" stroke="#c81818" stroke-width="0.8"/>
<circle cx="697.3" cy="772.0" r="5.6" fill="#ee2a2a" stroke="#c81818" stroke-width="0.8"/>
<path d="M111.4,1100.5V1120.8M108.1,1100.5H114.7M108.1,1120.8H114.7" stroke="#3a86d8" stroke-width="1.7" fill="none"/>
<path d="M128.1,1107.2V1130.9M124.8,1107.2H131.4M124.8,1130.9H131.4" stroke="#3a86d8" stroke-width="1.7" fill="none"/>
<path d="M144.9,1100.5V1120.8M141.6,1100.5H148.2M141.6,1120.8H148.2" stroke="#3a86d8" stroke-width="1.7" fill="none"/>
<path d="M161.6,1100.5V1120.8M158.3,1100.5H164.9M158.3,1120.8H164.9" stroke="#3a86d8" stroke-width="1.7" fill="none"/>
<path d="M178.4,1102.3V1127.8M175.1,1102.3H181.7M175.1,1127.8H181.7" stroke="#3a86d8" stroke-width="1.7" fill="none"/>
<path d="M195.1,1098.2V1123.7M191.8,1098.2H198.4M191.8,1123.7H198.4" stroke="#3a86d8" stroke-width="1.7" fill="none"/>
<path d="M211.8,1090.1V1115.6M208.5,1090.1H215.1M208.5,1115.6H215.1" stroke="#3a86d8" stroke-width="1.7" fill="none"/>
<path d="M228.6,1091.5V1117.0M225.3,1091.5H231.9M225.3,1117.0H231.9" stroke="#3a86d8" stroke-width="1.7" fill="none"/>
<path d="M245.3,1091.5V1117.0M242.0,1091.5H248.6M242.0,1117.0H248.6" stroke="#3a86d8" stroke-width="1.7" fill="none"/>
<path d="M262.1,1094.2V1119.7M258.8,1094.2H265.4M258.8,1119.7H265.4" stroke="#3a86d8" stroke-width="1.7" fill="none"/>
<path d="M278.8,1088.7V1114.2M275.5,1088.7H282.1M275.5,1114.2H282.1" stroke="#3a86d8" stroke-width="1.7" fill="none"/>
<path d="M295.5,1083.7V1109.2M292.2,1083.7H298.8M292.2,1109.2H298.8" stroke="#3a86d8" stroke-width="1.7" fill="none"/>
<path d="M312.3,1082.4V1113.0M309.0,1082.4H315.6M309.0,1113.0H315.6" stroke="#3a86d8" stroke-width="1.7" fill="none"/>
<path d="M329.0,1091.4V1122.0M325.7,1091.4H332.3M325.7,1122.0H332.3" stroke="#3a86d8" stroke-width="1.7" fill="none"/>
<path d="M345.8,1083.9V1114.5M342.5,1083.9H349.1M342.5,1114.5H349.1" stroke="#3a86d8" stroke-width="1.7" fill="none"/>
<path d="M362.5,1080.9V1111.5M359.2,1080.9H365.8M359.2,1111.5H365.8" stroke="#3a86d8" stroke-width="1.7" fill="none"/>
<path d="M379.2,1080.9V1111.5M375.9,1080.9H382.5M375.9,1111.5H382.5" stroke="#3a86d8" stroke-width="1.7" fill="none"/>
<path d="M396.0,1083.9V1114.5M392.7,1083.9H399.3M392.7,1114.5H399.3" stroke="#3a86d8" stroke-width="1.7" fill="none"/>
<path d="M412.7,1083.9V1114.5M409.4,1083.9H416.0M409.4,1114.5H416.0" stroke="#3a86d8" stroke-width="1.7" fill="none"/>
<path d="M429.5,1083.9V1114.5M426.2,1083.9H432.8M426.2,1114.5H432.8" stroke="#3a86d8" stroke-width="1.7" fill="none"/>
<path d="M446.2,1079.4V1110.0M442.9,1079.4H449.5M442.9,1110.0H449.5" stroke="#3a86d8" stroke-width="1.7" fill="none"/>
<path d="M462.9,1075.0V1112.7M459.6,1075.0H466.2M459.6,1112.7H466.2" stroke="#3a86d8" stroke-width="1.7" fill="none"/>
<path d="M479.7,1076.5V1114.2M476.4,1076.5H483.0M476.4,1114.2H483.0" stroke="#3a86d8" stroke-width="1.7" fill="none"/>
<path d="M496.4,1073.6V1111.3M493.1,1073.6H499.7M493.1,1111.3H499.7" stroke="#3a86d8" stroke-width="1.7" fill="none"/>
<path d="M513.2,1073.6V1111.3M509.9,1073.6H516.5M509.9,1111.3H516.5" stroke="#3a86d8" stroke-width="1.7" fill="none"/>
<path d="M529.9,1078.3V1116.0M526.6,1078.3H533.2M526.6,1116.0H533.2" stroke="#3a86d8" stroke-width="1.7" fill="none"/>
<path d="M546.6,1073.6V1111.3M543.3,1073.6H549.9M543.3,1111.3H549.9" stroke="#3a86d8" stroke-width="1.7" fill="none"/>
<path d="M563.4,1073.6V1111.3M560.1,1073.6H566.7M560.1,1111.3H566.7" stroke="#3a86d8" stroke-width="1.7" fill="none"/>
<path d="M580.1,1073.6V1111.3M576.8,1073.6H583.4M576.8,1111.3H583.4" stroke="#3a86d8" stroke-width="1.7" fill="none"/>
<path d="M596.9,1073.6V1111.3M593.6,1073.6H600.2M593.6,1111.3H600.2" stroke="#3a86d8" stroke-width="1.7" fill="none"/>
<path d="M613.6,1078.3V1116.0M610.3,1078.3H616.9M610.3,1116.0H616.9" stroke="#3a86d8" stroke-width="1.7" fill="none"/>
<path d="M630.3,1067.6V1108.8M627.0,1067.6H633.6M627.0,1108.8H633.6" stroke="#3a86d8" stroke-width="1.7" fill="none"/>
<path d="M647.1,1080.3V1125.2M643.8,1080.3H650.4M643.8,1125.2H650.4" stroke="#3a86d8" stroke-width="1.7" fill="none"/>
<path d="M663.8,1075.2V1112.9M660.5,1075.2H667.1M660.5,1112.9H667.1" stroke="#3a86d8" stroke-width="1.7" fill="none"/>
<path d="M680.6,1072.0V1109.7M677.3,1072.0H683.9M677.3,1109.7H683.9" stroke="#3a86d8" stroke-width="1.7" fill="none"/>
<path d="M697.3,1072.0V1109.7M694.0,1072.0H700.6M694.0,1109.7H700.6" stroke="#3a86d8" stroke-width="1.7" fill="none"/>
<polyline points="111.4,1110.0 128.1,1118.2 144.9,1110.0 161.6,1110.0 178.4,1114.1 195.1,1110.0 211.8,1101.9 228.6,1103.3 245.3,1103.3 262.1,1106.0 278.8,1100.5 295.5,1095.5 312.3,1096.3 329.0,1105.3 345.8,1097.8 362.5,1094.8 379.2,1094.8 396.0,1097.8 412.7,1097.8 429.5,1097.8 446.2,1093.3 462.9,1091.8 479.7,1093.3 496.4,1090.4 513.2,1090.4 529.9,1095.1 546.6,1090.4 563.4,1090.4 580.1,1090.4 596.9,1090.4 613.6,1095.1 630.3,1085.7 647.1,1099.8 663.8,1092.0 680.6,1088.8 697.3,1088.8" fill="none" stroke="#1a1a1a" stroke-width="1.5" stroke-linejoin="round"/>
<path d="M111.4,1104.8 L117.1,1115.2 L105.7,1115.2Z" fill="#1f63d6" stroke="#1650b8" stroke-width="0.8"/>
<path d="M128.1,1113.0 L133.8,1123.4 L122.5,1123.4Z" fill="#1f63d6" stroke="#1650b8" stroke-width="0.8"/>
<path d="M144.9,1104.8 L150.6,1115.2 L139.2,1115.2Z" fill="#1f63d6" stroke="#1650b8" stroke-width="0.8"/>
<path d="M161.6,1104.8 L167.3,1115.2 L155.9,1115.2Z" fill="#1f63d6" stroke="#1650b8" stroke-width="0.8"/>
<path d="M178.4,1108.9 L184.0,1119.3 L172.7,1119.3Z" fill="#1f63d6" stroke="#1650b8" stroke-width="0.8"/>
<path d="M195.1,1104.8 L200.8,1115.2 L189.4,1115.2Z" fill="#1f63d6" stroke="#1650b8" stroke-width="0.8"/>
<path d="M211.8,1096.7 L217.5,1107.1 L206.2,1107.1Z" fill="#1f63d6" stroke="#1650b8" stroke-width="0.8"/>
<path d="M228.6,1098.1 L234.3,1108.5 L222.9,1108.5Z" fill="#1f63d6" stroke="#1650b8" stroke-width="0.8"/>
<path d="M245.3,1098.1 L251.0,1108.5 L239.6,1108.5Z" fill="#1f63d6" stroke="#1650b8" stroke-width="0.8"/>
<path d="M262.1,1100.8 L267.7,1111.2 L256.4,1111.2Z" fill="#1f63d6" stroke="#1650b8" stroke-width="0.8"/>
<path d="M278.8,1095.3 L284.5,1105.7 L273.1,1105.7Z" fill="#1f63d6" stroke="#1650b8" stroke-width="0.8"/>
<path d="M295.5,1090.3 L301.2,1100.7 L289.9,1100.7Z" fill="#1f63d6" stroke="#1650b8" stroke-width="0.8"/>
<path d="M312.3,1091.1 L318.0,1101.5 L306.6,1101.5Z" fill="#1f63d6" stroke="#1650b8" stroke-width="0.8"/>
<path d="M329.0,1100.1 L334.7,1110.5 L323.3,1110.5Z" fill="#1f63d6" stroke="#1650b8" stroke-width="0.8"/>
<path d="M345.8,1092.6 L351.4,1103.0 L340.1,1103.0Z" fill="#1f63d6" stroke="#1650b8" stroke-width="0.8"/>
<path d="M362.5,1089.6 L368.2,1100.0 L356.8,1100.0Z" fill="#1f63d6" stroke="#1650b8" stroke-width="0.8"/>
<path d="M379.2,1089.6 L384.9,1100.0 L373.6,1100.0Z" fill="#1f63d6" stroke="#1650b8" stroke-width="0.8"/>
<path d="M396.0,1092.6 L401.7,1103.0 L390.3,1103.0Z" fill="#1f63d6" stroke="#1650b8" stroke-width="0.8"/>
<path d="M412.7,1092.6 L418.4,1103.0 L407.0,1103.0Z" fill="#1f63d6" stroke="#1650b8" stroke-width="0.8"/>
<path d="M429.5,1092.6 L435.1,1103.0 L423.8,1103.0Z" fill="#1f63d6" stroke="#1650b8" stroke-width="0.8"/>
<path d="M446.2,1088.1 L451.9,1098.5 L440.5,1098.5Z" fill="#1f63d6" stroke="#1650b8" stroke-width="0.8"/>
<path d="M462.9,1086.6 L468.6,1097.0 L457.3,1097.0Z" fill="#1f63d6" stroke="#1650b8" stroke-width="0.8"/>
<path d="M479.7,1088.1 L485.4,1098.5 L474.0,1098.5Z" fill="#1f63d6" stroke="#1650b8" stroke-width="0.8"/>
<path d="M496.4,1085.2 L502.1,1095.6 L490.7,1095.6Z" fill="#1f63d6" stroke="#1650b8" stroke-width="0.8"/>
<path d="M513.2,1085.2 L518.8,1095.6 L507.5,1095.6Z" fill="#1f63d6" stroke="#1650b8" stroke-width="0.8"/>
<path d="M529.9,1089.9 L535.6,1100.3 L524.2,1100.3Z" fill="#1f63d6" stroke="#1650b8" stroke-width="0.8"/>
<path d="M546.6,1085.2 L552.3,1095.6 L541.0,1095.6Z" fill="#1f63d6" stroke="#1650b8" stroke-width="0.8"/>
<path d="M563.4,1085.2 L569.1,1095.6 L557.7,1095.6Z" fill="#1f63d6" stroke="#1650b8" stroke-width="0.8"/>
<path d="M580.1,1085.2 L585.8,1095.6 L574.4,1095.6Z" fill="#1f63d6" stroke="#1650b8" stroke-width="0.8"/>
<path d="M596.9,1085.2 L602.5,1095.6 L591.2,1095.6Z" fill="#1f63d6" stroke="#1650b8" stroke-width="0.8"/>
<path d="M613.6,1089.9 L619.3,1100.3 L607.9,1100.3Z" fill="#1f63d6" stroke="#1650b8" stroke-width="0.8"/>
<path d="M630.3,1080.5 L636.0,1090.9 L624.7,1090.9Z" fill="#1f63d6" stroke="#1650b8" stroke-width="0.8"/>
<path d="M647.1,1094.6 L652.8,1105.0 L641.4,1105.0Z" fill="#1f63d6" stroke="#1650b8" stroke-width="0.8"/>
<path d="M663.8,1086.8 L669.5,1097.2 L658.1,1097.2Z" fill="#1f63d6" stroke="#1650b8" stroke-width="0.8"/>
<path d="M680.6,1083.6 L686.2,1094.0 L674.9,1094.0Z" fill="#1f63d6" stroke="#1650b8" stroke-width="0.8"/>
<path d="M697.3,1083.6 L703.0,1094.0 L691.6,1094.0Z" fill="#1f63d6" stroke="#1650b8" stroke-width="0.8"/>
<path d="M111.4,1109.1V1119.2M108.1,1109.1H114.7M108.1,1119.2H114.7" stroke="#2aa860" stroke-width="1.7" fill="none"/>
<path d="M128.1,1118.5V1132.0M124.8,1118.5H131.4M124.8,1132.0H131.4" stroke="#2aa860" stroke-width="1.7" fill="none"/>
<path d="M144.9,1073.1V1084.9M141.6,1073.1H148.2M141.6,1084.9H148.2" stroke="#2aa860" stroke-width="1.7" fill="none"/>
<path d="M161.6,1051.3V1063.1M158.3,1051.3H164.9M158.3,1063.1H164.9" stroke="#2aa860" stroke-width="1.7" fill="none"/>
<path d="M178.4,1008.6V1018.7M175.1,1008.6H181.7M175.1,1018.7H181.7" stroke="#2aa860" stroke-width="1.7" fill="none"/>
<path d="M195.1,971.3V979.7M191.8,971.3H198.4M191.8,979.7H198.4" stroke="#2aa860" stroke-width="1.7" fill="none"/>
<path d="M211.8,947.7V956.1M208.5,947.7H215.1M208.5,956.1H215.1" stroke="#2aa860" stroke-width="1.7" fill="none"/>
<path d="M228.6,924.9V931.6M225.3,924.9H231.9M225.3,931.6H231.9" stroke="#2aa860" stroke-width="1.7" fill="none"/>
<path d="M245.3,903.1V909.8M242.0,903.1H248.6M242.0,909.8H248.6" stroke="#2aa860" stroke-width="1.7" fill="none"/>
<path d="M262.1,881.3V888.0M258.8,881.3H265.4M258.8,888.0H265.4" stroke="#2aa860" stroke-width="1.7" fill="none"/>
<path d="M278.8,865.8V870.9M275.5,865.8H282.1M275.5,870.9H282.1" stroke="#2aa860" stroke-width="1.7" fill="none"/>
<path d="M295.5,853.5V858.6M292.2,853.5H298.8M292.2,858.6H298.8" stroke="#2aa860" stroke-width="1.7" fill="none"/>
<path d="M312.3,849.1V854.2M309.0,849.1H315.6M309.0,854.2H315.6" stroke="#2aa860" stroke-width="1.7" fill="none"/>
<path d="M329.0,845.0V850.1M325.7,845.0H332.3M325.7,850.1H332.3" stroke="#2aa860" stroke-width="1.7" fill="none"/>
<path d="M345.8,838.2V843.3M342.5,838.2H349.1M342.5,843.3H349.1" stroke="#2aa860" stroke-width="1.7" fill="none"/>
<path d="M362.5,830.0V835.1M359.2,830.0H365.8M359.2,835.1H365.8" stroke="#2aa860" stroke-width="1.7" fill="none"/>
<path d="M379.2,825.5V830.6M375.9,825.5H382.5M375.9,830.6H382.5" stroke="#2aa860" stroke-width="1.7" fill="none"/>
<path d="M396.0,821.9V827.0M392.7,821.9H399.3M392.7,827.0H399.3" stroke="#2aa860" stroke-width="1.7" fill="none"/>
<path d="M412.7,820.5V825.6M409.4,820.5H416.0M409.4,825.6H416.0" stroke="#2aa860" stroke-width="1.7" fill="none"/>
<path d="M429.5,816.4V821.5M426.2,816.4H432.8M426.2,821.5H432.8" stroke="#2aa860" stroke-width="1.7" fill="none"/>
<path d="M446.2,811.0V816.1M442.9,811.0H449.5M442.9,816.1H449.5" stroke="#2aa860" stroke-width="1.7" fill="none"/>
<path d="M462.9,809.6V814.7M459.6,809.6H466.2M459.6,814.7H466.2" stroke="#2aa860" stroke-width="1.7" fill="none"/>
<path d="M479.7,806.9V812.0M476.4,806.9H483.0M476.4,812.0H483.0" stroke="#2aa860" stroke-width="1.7" fill="none"/>
<path d="M496.4,804.5V809.6M493.1,804.5H499.7M493.1,809.6H499.7" stroke="#2aa860" stroke-width="1.7" fill="none"/>
<path d="M513.2,799.1V804.2M509.9,799.1H516.5M509.9,804.2H516.5" stroke="#2aa860" stroke-width="1.7" fill="none"/>
<path d="M529.9,796.0V801.1M526.6,796.0H533.2M526.6,801.1H533.2" stroke="#2aa860" stroke-width="1.7" fill="none"/>
<path d="M546.6,794.4V799.5M543.3,794.4H549.9M543.3,799.5H549.9" stroke="#2aa860" stroke-width="1.7" fill="none"/>
<path d="M563.4,791.3V796.4M560.1,791.3H566.7M560.1,796.4H566.7" stroke="#2aa860" stroke-width="1.7" fill="none"/>
<path d="M580.1,791.3V796.4M576.8,791.3H583.4M576.8,796.4H583.4" stroke="#2aa860" stroke-width="1.7" fill="none"/>
<path d="M596.9,789.7V794.8M593.6,789.7H600.2M593.6,794.8H600.2" stroke="#2aa860" stroke-width="1.7" fill="none"/>
<path d="M613.6,786.6V791.7M610.3,786.6H616.9M610.3,791.7H616.9" stroke="#2aa860" stroke-width="1.7" fill="none"/>
<path d="M630.3,785.0V790.1M627.0,785.0H633.6M627.0,790.1H633.6" stroke="#2aa860" stroke-width="1.7" fill="none"/>
<path d="M647.1,786.6V791.7M643.8,786.6H650.4M643.8,791.7H650.4" stroke="#2aa860" stroke-width="1.7" fill="none"/>
<path d="M663.8,785.0V790.1M660.5,785.0H667.1M660.5,790.1H667.1" stroke="#2aa860" stroke-width="1.7" fill="none"/>
<path d="M680.6,780.4V785.5M677.3,780.4H683.9M677.3,785.5H683.9" stroke="#2aa860" stroke-width="1.7" fill="none"/>
<path d="M697.3,778.8V783.9M694.0,778.8H700.6M694.0,783.9H700.6" stroke="#2aa860" stroke-width="1.7" fill="none"/>
<polyline points="111.4,1114.0 128.1,1125.0 144.9,1078.8 161.6,1057.0 178.4,1013.5 195.1,975.4 211.8,951.8 228.6,928.2 245.3,906.4 262.1,884.6 278.8,868.3 295.5,856.0 312.3,851.6 329.0,847.5 345.8,840.7 362.5,832.5 379.2,828.0 396.0,824.4 412.7,823.0 429.5,818.9 446.2,813.5 462.9,812.1 479.7,809.4 496.4,807.0 513.2,801.6 529.9,798.5 546.6,796.9 563.4,793.8 580.1,793.8 596.9,792.2 613.6,789.1 630.3,787.5 647.1,789.1 663.8,787.5 680.6,782.9 697.3,781.3" fill="none" stroke="#1a1a1a" stroke-width="1.5" stroke-linejoin="round"/>
<path d="M111.4,1119.2 L117.1,1108.8 L105.7,1108.8Z" fill="#1fa04c" stroke="#168040" stroke-width="0.8"/>
<path d="M128.1,1130.2 L133.8,1119.8 L122.5,1119.8Z" fill="#1fa04c" stroke="#168040" stroke-width="0.8"/>
<path d="M144.9,1084.0 L150.6,1073.6 L139.2,1073.6Z" fill="#1fa04c" stroke="#168040" stroke-width="0.8"/>
<path d="M161.6,1062.2 L167.3,1051.8 L155.9,1051.8Z" fill="#1fa04c" stroke="#168040" stroke-width="0.8"/>
<path d="M178.4,1018.7 L184.0,1008.3 L172.7,1008.3Z" fill="#1fa04c" stroke="#168040" stroke-width="0.8"/>
<path d="M195.1,980.6 L200.8,970.2 L189.4,970.2Z" fill="#1fa04c" stroke="#168040" stroke-width="0.8"/>
<path d="M211.8,957.0 L217.5,946.6 L206.2,946.6Z" fill="#1fa04c" stroke="#168040" stroke-width="0.8"/>
<path d="M228.6,933.4 L234.3,923.0 L222.9,923.0Z" fill="#1fa04c" stroke="#168040" stroke-width="0.8"/>
<path d="M245.3,911.6 L251.0,901.2 L239.6,901.2Z" fill="#1fa04c" stroke="#168040" stroke-width="0.8"/>
<path d="M262.1,889.8 L267.7,879.4 L256.4,879.4Z" fill="#1fa04c" stroke="#168040" stroke-width="0.8"/>
<path d="M278.8,873.5 L284.5,863.1 L273.1,863.1Z" fill="#1fa04c" stroke="#168040" stroke-width="0.8"/>
<path d="M295.5,861.2 L301.2,850.8 L289.9,850.8Z" fill="#1fa04c" stroke="#168040" stroke-width="0.8"/>
<path d="M312.3,856.8 L318.0,846.4 L306.6,846.4Z" fill="#1fa04c" stroke="#168040" stroke-width="0.8"/>
<path d="M329.0,852.7 L334.7,842.3 L323.3,842.3Z" fill="#1fa04c" stroke="#168040" stroke-width="0.8"/>
<path d="M345.8,845.9 L351.4,835.5 L340.1,835.5Z" fill="#1fa04c" stroke="#168040" stroke-width="0.8"/>
<path d="M362.5,837.7 L368.2,827.3 L356.8,827.3Z" fill="#1fa04c" stroke="#168040" stroke-width="0.8"/>
<path d="M379.2,833.2 L384.9,822.8 L373.6,822.8Z" fill="#1fa04c" stroke="#168040" stroke-width="0.8"/>
<path d="M396.0,829.6 L401.7,819.2 L390.3,819.2Z" fill="#1fa04c" stroke="#168040" stroke-width="0.8"/>
<path d="M412.7,828.2 L418.4,817.8 L407.0,817.8Z" fill="#1fa04c" stroke="#168040" stroke-width="0.8"/>
<path d="M429.5,824.1 L435.1,813.7 L423.8,813.7Z" fill="#1fa04c" stroke="#168040" stroke-width="0.8"/>
<path d="M446.2,818.7 L451.9,808.3 L440.5,808.3Z" fill="#1fa04c" stroke="#168040" stroke-width="0.8"/>
<path d="M462.9,817.3 L468.6,806.9 L457.3,806.9Z" fill="#1fa04c" stroke="#168040" stroke-width="0.8"/>
<path d="M479.7,814.6 L485.4,804.2 L474.0,804.2Z" fill="#1fa04c" stroke="#168040" stroke-width="0.8"/>
<path d="M496.4,812.2 L502.1,801.8 L490.7,801.8Z" fill="#1fa04c" stroke="#168040" stroke-width="0.8"/>
<path d="M513.2,806.8 L518.8,796.4 L507.5,796.4Z" fill="#1fa04c" stroke="#168040" stroke-width="0.8"/>
<path d="M529.9,803.7 L535.6,793.3 L524.2,793.3Z" fill="#1fa04c" stroke="#168040" stroke-width="0.8"/>
<path d="M546.6,802.1 L552.3,791.7 L541.0,791.7Z" fill="#1fa04c" stroke="#168040" stroke-width="0.8"/>
<path d="M563.4,799.0 L569.1,788.6 L557.7,788.6Z" fill="#1fa04c" stroke="#168040" stroke-width="0.8"/>
<path d="M580.1,799.0 L585.8,788.6 L574.4,788.6Z" fill="#1fa04c" stroke="#168040" stroke-width="0.8"/>
<path d="M596.9,797.4 L602.5,787.0 L591.2,787.0Z" fill="#1fa04c" stroke="#168040" stroke-width="0.8"/>
<path d="M613.6,794.3 L619.3,783.9 L607.9,783.9Z" fill="#1fa04c" stroke="#168040" stroke-width="0.8"/>
<path d="M630.3,792.7 L636.0,782.3 L624.7,782.3Z" fill="#1fa04c" stroke="#168040" stroke-width="0.8"/>
<path d="M647.1,794.3 L652.8,783.9 L641.4,783.9Z" fill="#1fa04c" stroke="#168040" stroke-width="0.8"/>
<path d="M663.8,792.7 L669.5,782.3 L658.1,782.3Z" fill="#1fa04c" stroke="#168040" stroke-width="0.8"/>
<path d="M680.6,788.1 L686.2,777.7 L674.9,777.7Z" fill="#1fa04c" stroke="#168040" stroke-width="0.8"/>
<path d="M697.3,786.5 L703.0,776.1 L691.6,776.1Z" fill="#1fa04c" stroke="#168040" stroke-width="0.8"/>
<path d="M111.4,1098.1V1111.6M108.1,1098.1H114.7M108.1,1111.6H114.7" stroke="#b494dc" stroke-width="1.7" fill="none"/>
<path d="M128.1,1125.2V1142.1M124.8,1125.2H131.4M124.8,1142.1H131.4" stroke="#b494dc" stroke-width="1.7" fill="none"/>
<path d="M144.9,1113.1V1126.6M141.6,1113.1H148.2M141.6,1126.6H148.2" stroke="#b494dc" stroke-width="1.7" fill="none"/>
<path d="M161.6,1106.3V1119.8M158.3,1106.3H164.9M158.3,1119.8H164.9" stroke="#b494dc" stroke-width="1.7" fill="none"/>
<path d="M178.4,1089.4V1101.2M175.1,1089.4H181.7M175.1,1101.2H181.7" stroke="#b494dc" stroke-width="1.7" fill="none"/>
<path d="M195.1,1068.4V1078.5M191.8,1068.4H198.4M191.8,1078.5H198.4" stroke="#b494dc" stroke-width="1.7" fill="none"/>
<path d="M211.8,1046.1V1054.5M208.5,1046.1H215.1M208.5,1054.5H215.1" stroke="#b494dc" stroke-width="1.7" fill="none"/>
<path d="M228.6,1016.2V1024.6M225.3,1016.2H231.9M225.3,1024.6H231.9" stroke="#b494dc" stroke-width="1.7" fill="none"/>
<path d="M245.3,981.6V988.3M242.0,981.6H248.6M242.0,988.3H248.6" stroke="#b494dc" stroke-width="1.7" fill="none"/>
<path d="M262.1,953.2V959.9M258.8,953.2H265.4M258.8,959.9H265.4" stroke="#b494dc" stroke-width="1.7" fill="none"/>
<path d="M278.8,922.9V928.0M275.5,922.9H282.1M275.5,928.0H282.1" stroke="#b494dc" stroke-width="1.7" fill="none"/>
<path d="M295.5,905.0V910.1M292.2,905.0H298.8M292.2,910.1H298.8" stroke="#b494dc" stroke-width="1.7" fill="none"/>
<path d="M312.3,888.5V893.6M309.0,888.5H315.6M309.0,893.6H315.6" stroke="#b494dc" stroke-width="1.7" fill="none"/>
<path d="M329.0,872.2V877.3M325.7,872.2H332.3M325.7,877.3H332.3" stroke="#b494dc" stroke-width="1.7" fill="none"/>
<path d="M345.8,854.5V859.6M342.5,854.5H349.1M342.5,859.6H349.1" stroke="#b494dc" stroke-width="1.7" fill="none"/>
<path d="M362.5,836.8V841.9M359.2,836.8H365.8M359.2,841.9H365.8" stroke="#b494dc" stroke-width="1.7" fill="none"/>
<path d="M379.2,828.7V833.8M375.9,828.7H382.5M375.9,833.8H382.5" stroke="#b494dc" stroke-width="1.7" fill="none"/>
<path d="M396.0,821.9V827.0M392.7,821.9H399.3M392.7,827.0H399.3" stroke="#b494dc" stroke-width="1.7" fill="none"/>
<path d="M412.7,813.7V818.8M409.4,813.7H416.0M409.4,818.8H416.0" stroke="#b494dc" stroke-width="1.7" fill="none"/>
<path d="M429.5,808.2V813.3M426.2,808.2H432.8M426.2,813.3H432.8" stroke="#b494dc" stroke-width="1.7" fill="none"/>
<path d="M446.2,800.1V805.2M442.9,800.1H449.5M442.9,805.2H449.5" stroke="#b494dc" stroke-width="1.7" fill="none"/>
<path d="M462.9,797.4V802.5M459.6,797.4H466.2M459.6,802.5H466.2" stroke="#b494dc" stroke-width="1.7" fill="none"/>
<path d="M479.7,796.0V801.1M476.4,796.0H483.0M476.4,801.1H483.0" stroke="#b494dc" stroke-width="1.7" fill="none"/>
<path d="M496.4,793.1V798.2M493.1,793.1H499.7M493.1,798.2H499.7" stroke="#b494dc" stroke-width="1.7" fill="none"/>
<path d="M513.2,787.5V792.6M509.9,787.5H516.5M509.9,792.6H516.5" stroke="#b494dc" stroke-width="1.7" fill="none"/>
<path d="M529.9,787.5V792.6M526.6,787.5H533.2M526.6,792.6H533.2" stroke="#b494dc" stroke-width="1.7" fill="none"/>
<path d="M546.6,785.0V790.1M543.3,785.0H549.9M543.3,790.1H549.9" stroke="#b494dc" stroke-width="1.7" fill="none"/>
<path d="M563.4,781.9V787.0M560.1,781.9H566.7M560.1,787.0H566.7" stroke="#b494dc" stroke-width="1.7" fill="none"/>
<path d="M580.1,780.4V785.5M576.8,780.4H583.4M576.8,785.5H583.4" stroke="#b494dc" stroke-width="1.7" fill="none"/>
<path d="M596.9,781.9V787.0M593.6,781.9H600.2M593.6,787.0H600.2" stroke="#b494dc" stroke-width="1.7" fill="none"/>
<path d="M613.6,777.2V782.3M610.3,777.2H616.9M610.3,782.3H616.9" stroke="#b494dc" stroke-width="1.7" fill="none"/>
<path d="M630.3,775.7V780.8M627.0,775.7H633.6M627.0,780.8H633.6" stroke="#b494dc" stroke-width="1.7" fill="none"/>
<path d="M647.1,775.7V780.8M643.8,775.7H650.4M643.8,780.8H650.4" stroke="#b494dc" stroke-width="1.7" fill="none"/>
<path d="M663.8,775.0V780.1M660.5,775.0H667.1M660.5,780.1H667.1" stroke="#b494dc" stroke-width="1.7" fill="none"/>
<path d="M680.6,771.0V776.1M677.3,771.0H683.9M677.3,776.1H683.9" stroke="#b494dc" stroke-width="1.7" fill="none"/>
<path d="M697.3,767.8V772.9M694.0,767.8H700.6M694.0,772.9H700.6" stroke="#b494dc" stroke-width="1.7" fill="none"/>
<polyline points="111.4,1104.6 128.1,1133.2 144.9,1119.6 161.6,1112.8 178.4,1095.1 195.1,1073.3 211.8,1050.2 228.6,1020.3 245.3,984.9 262.1,956.5 278.8,925.4 295.5,907.5 312.3,891.0 329.0,874.7 345.8,857.0 362.5,839.3 379.2,831.2 396.0,824.4 412.7,816.2 429.5,810.7 446.2,802.6 462.9,799.9 479.7,798.5 496.4,795.6 513.2,790.0 529.9,790.0 546.6,787.5 563.4,784.4 580.1,782.9 596.9,784.4 613.6,779.7 630.3,778.2 647.1,778.2 663.8,777.5 680.6,773.5 697.3,770.3" fill="none" stroke="#1a1a1a" stroke-width="1.5" stroke-linejoin="round"/>
<path d="M111.4,1098.7 L116.8,1104.6 L111.4,1110.5 L106.0,1104.6Z" fill="#a86ee6" stroke="#9458d8" stroke-width="0.8"/>
<path d="M128.1,1127.3 L133.6,1133.2 L128.1,1139.1 L122.7,1133.2Z" fill="#a86ee6" stroke="#9458d8" stroke-width="0.8"/>
<path d="M144.9,1113.7 L150.3,1119.6 L144.9,1125.5 L139.5,1119.6Z" fill="#a86ee6" stroke="#9458d8" stroke-width="0.8"/>
<path d="M161.6,1106.9 L167.0,1112.8 L161.6,1118.7 L156.2,1112.8Z" fill="#a86ee6" stroke="#9458d8" stroke-width="0.8"/>
<path d="M178.4,1089.2 L183.8,1095.1 L178.4,1101.0 L172.9,1095.1Z" fill="#a86ee6" stroke="#9458d8" stroke-width="0.8"/>
<path d="M195.1,1067.4 L200.5,1073.3 L195.1,1079.2 L189.7,1073.3Z" fill="#a86ee6" stroke="#9458d8" stroke-width="0.8"/>
<path d="M211.8,1044.3 L217.3,1050.2 L211.8,1056.1 L206.4,1050.2Z" fill="#a86ee6" stroke="#9458d8" stroke-width="0.8"/>
<path d="M228.6,1014.4 L234.0,1020.3 L228.6,1026.2 L223.2,1020.3Z" fill="#a86ee6" stroke="#9458d8" stroke-width="0.8"/>
<path d="M245.3,979.0 L250.7,984.9 L245.3,990.8 L239.9,984.9Z" fill="#a86ee6" stroke="#9458d8" stroke-width="0.8"/>
<path d="M262.1,950.6 L267.5,956.5 L262.1,962.4 L256.6,956.5Z" fill="#a86ee6" stroke="#9458d8" stroke-width="0.8"/>
<path d="M278.8,919.5 L284.2,925.4 L278.8,931.3 L273.4,925.4Z" fill="#a86ee6" stroke="#9458d8" stroke-width="0.8"/>
<path d="M295.5,901.6 L301.0,907.5 L295.5,913.4 L290.1,907.5Z" fill="#a86ee6" stroke="#9458d8" stroke-width="0.8"/>
<path d="M312.3,885.1 L317.7,891.0 L312.3,896.9 L306.9,891.0Z" fill="#a86ee6" stroke="#9458d8" stroke-width="0.8"/>
<path d="M329.0,868.8 L334.4,874.7 L329.0,880.6 L323.6,874.7Z" fill="#a86ee6" stroke="#9458d8" stroke-width="0.8"/>
<path d="M345.8,851.1 L351.2,857.0 L345.8,862.9 L340.3,857.0Z" fill="#a86ee6" stroke="#9458d8" stroke-width="0.8"/>
<path d="M362.5,833.4 L367.9,839.3 L362.5,845.2 L357.1,839.3Z" fill="#a86ee6" stroke="#9458d8" stroke-width="0.8"/>
<path d="M379.2,825.3 L384.7,831.2 L379.2,837.1 L373.8,831.2Z" fill="#a86ee6" stroke="#9458d8" stroke-width="0.8"/>
<path d="M396.0,818.5 L401.4,824.4 L396.0,830.3 L390.6,824.4Z" fill="#a86ee6" stroke="#9458d8" stroke-width="0.8"/>
<path d="M412.7,810.3 L418.1,816.2 L412.7,822.1 L407.3,816.2Z" fill="#a86ee6" stroke="#9458d8" stroke-width="0.8"/>
<path d="M429.5,804.8 L434.9,810.7 L429.5,816.6 L424.0,810.7Z" fill="#a86ee6" stroke="#9458d8" stroke-width="0.8"/>
<path d="M446.2,796.7 L451.6,802.6 L446.2,808.5 L440.8,802.6Z" fill="#a86ee6" stroke="#9458d8" stroke-width="0.8"/>
<path d="M462.9,794.0 L468.4,799.9 L462.9,805.8 L457.5,799.9Z" fill="#a86ee6" stroke="#9458d8" stroke-width="0.8"/>
<path d="M479.7,792.6 L485.1,798.5 L479.7,804.4 L474.3,798.5Z" fill="#a86ee6" stroke="#9458d8" stroke-width="0.8"/>
<path d="M496.4,789.7 L501.8,795.6 L496.4,801.5 L491.0,795.6Z" fill="#a86ee6" stroke="#9458d8" stroke-width="0.8"/>
<path d="M513.2,784.1 L518.6,790.0 L513.2,795.9 L507.7,790.0Z" fill="#a86ee6" stroke="#9458d8" stroke-width="0.8"/>
<path d="M529.9,784.1 L535.3,790.0 L529.9,795.9 L524.5,790.0Z" fill="#a86ee6" stroke="#9458d8" stroke-width="0.8"/>
<path d="M546.6,781.6 L552.1,787.5 L546.6,793.4 L541.2,787.5Z" fill="#a86ee6" stroke="#9458d8" stroke-width="0.8"/>
<path d="M563.4,778.5 L568.8,784.4 L563.4,790.3 L558.0,784.4Z" fill="#a86ee6" stroke="#9458d8" stroke-width="0.8"/>
<path d="M580.1,777.0 L585.5,782.9 L580.1,788.8 L574.7,782.9Z" fill="#a86ee6" stroke="#9458d8" stroke-width="0.8"/>
<path d="M596.9,778.5 L602.3,784.4 L596.9,790.3 L591.4,784.4Z" fill="#a86ee6" stroke="#9458d8" stroke-width="0.8"/>
<path d="M613.6,773.8 L619.0,779.7 L613.6,785.6 L608.2,779.7Z" fill="#a86ee6" stroke="#9458d8" stroke-width="0.8"/>
<path d="M630.3,772.3 L635.8,778.2 L630.3,784.1 L624.9,778.2Z" fill="#a86ee6" stroke="#9458d8" stroke-width="0.8"/>
<path d="M647.1,772.3 L652.5,778.2 L647.1,784.1 L641.7,778.2Z" fill="#a86ee6" stroke="#9458d8" stroke-width="0.8"/>
<path d="M663.8,771.6 L669.2,777.5 L663.8,783.4 L658.4,777.5Z" fill="#a86ee6" stroke="#9458d8" stroke-width="0.8"/>
<path d="M680.6,767.6 L686.0,773.5 L680.6,779.4 L675.1,773.5Z" fill="#a86ee6" stroke="#9458d8" stroke-width="0.8"/>
<path d="M697.3,764.4 L702.7,770.3 L697.3,776.2 L691.9,770.3Z" fill="#a86ee6" stroke="#9458d8" stroke-width="0.8"/>
<text x="50.63" y="1311.7" font-family='"Liberation Sans", sans-serif' font-size="32" font-weight="bold" fill="#111" textLength="28.65" lengthAdjust="spacingAndGlyphs">C.</text>
<text x="89.46" y="1311.7" font-family='"Liberation Sans", sans-serif' font-size="32" font-weight="bold" fill="#111" textLength="42.58" lengthAdjust="spacingAndGlyphs">No</text>
<text x="140.95" y="1311.7" font-family='"Liberation Sans", sans-serif' font-size="32" font-weight="bold" fill="#111" textLength="109.79" lengthAdjust="spacingAndGlyphs">growth</text>
<text x="259.87" y="1311.7" font-family='"Liberation Sans", sans-serif' font-size="32" font-weight="bold" fill="#111" textLength="29.77" lengthAdjust="spacingAndGlyphs">of</text>
<text x="298.69" y="1311.7" font-family='"Liberation Sans", sans-serif' font-size="32" font-weight="bold" fill="#111" textLength="23.24" lengthAdjust="spacingAndGlyphs">Δ</text>
<text x="323.65" y="1311.7" font-family='"Liberation Sans", sans-serif' font-size="32" font-weight="bold" font-style="italic" fill="#111" textLength="74.91" lengthAdjust="spacingAndGlyphs">dgcA</text>
<text x="406.92" y="1311.7" font-family='"Liberation Sans", sans-serif' font-size="32" font-weight="bold" fill="#111" textLength="39.90" lengthAdjust="spacingAndGlyphs">on</text>
<text x="455.65" y="1311.7" font-family='"Liberation Sans", sans-serif' font-size="32" font-weight="bold" fill="#111" textLength="42.02" lengthAdjust="spacingAndGlyphs">GB</text>
<text x="508.55" y="1311.7" font-family='"Liberation Sans", sans-serif' font-size="32" font-weight="bold" fill="#111" textLength="57.37" lengthAdjust="spacingAndGlyphs">and</text>
<text x="576.09" y="1311.7" font-family='"Liberation Sans", sans-serif' font-size="32" font-weight="bold" fill="#111" textLength="77.06" lengthAdjust="spacingAndGlyphs">DMG</text>
<path d="M113.3,1335V1799" stroke="#111" stroke-width="1.8" fill="none"/>
<path d="M105.8,1335.8H113.3" stroke="#111" stroke-width="1.8"/>
<path d="M105.8,1543.1H113.3" stroke="#111" stroke-width="1.8"/>
<path d="M105.8,1750.4H113.3" stroke="#111" stroke-width="1.8"/>
<path d="M110.3,1480.7H113.3" stroke="#111" stroke-width="1.8"/>
<path d="M110.3,1444.2H113.3" stroke="#111" stroke-width="1.8"/>
<path d="M110.3,1418.3H113.3" stroke="#111" stroke-width="1.8"/>
<path d="M110.3,1398.2H113.3" stroke="#111" stroke-width="1.8"/>
<path d="M110.3,1381.8H113.3" stroke="#111" stroke-width="1.8"/>
<path d="M110.3,1367.9H113.3" stroke="#111" stroke-width="1.8"/>
<path d="M110.3,1355.9H113.3" stroke="#111" stroke-width="1.8"/>
<path d="M110.3,1345.3H113.3" stroke="#111" stroke-width="1.8"/>
<path d="M110.3,1688.0H113.3" stroke="#111" stroke-width="1.8"/>
<path d="M110.3,1651.5H113.3" stroke="#111" stroke-width="1.8"/>
<path d="M110.3,1625.6H113.3" stroke="#111" stroke-width="1.8"/>
<path d="M110.3,1605.5H113.3" stroke="#111" stroke-width="1.8"/>
<path d="M110.3,1589.1H113.3" stroke="#111" stroke-width="1.8"/>
<path d="M110.3,1575.2H113.3" stroke="#111" stroke-width="1.8"/>
<path d="M110.3,1563.2H113.3" stroke="#111" stroke-width="1.8"/>
<path d="M110.3,1552.6H113.3" stroke="#111" stroke-width="1.8"/>
<path d="M110.3,1796.4H113.3" stroke="#111" stroke-width="1.8"/>
<path d="M110.3,1782.5H113.3" stroke="#111" stroke-width="1.8"/>
<path d="M110.3,1770.5H113.3" stroke="#111" stroke-width="1.8"/>
<path d="M110.3,1759.9H113.3" stroke="#111" stroke-width="1.8"/>
<path d="M115,1799H721" stroke="#111" stroke-width="1.8" fill="none"/>
<path d="M112.7,1799V1805" stroke="#111" stroke-width="1.8"/>
<path d="M197.2,1799V1805" stroke="#111" stroke-width="1.8"/>
<path d="M281.8,1799V1805" stroke="#111" stroke-width="1.8"/>
<path d="M366.4,1799V1805" stroke="#111" stroke-width="1.8"/>
<path d="M450.9,1799V1805" stroke="#111" stroke-width="1.8"/>
<path d="M535.5,1799V1805" stroke="#111" stroke-width="1.8"/>
<path d="M620.0,1799V1805" stroke="#111" stroke-width="1.8"/>
<path d="M704.6,1799V1805" stroke="#111" stroke-width="1.8"/>
<path d="M155.0,1799V1802.5" stroke="#111" stroke-width="1.8"/>
<path d="M239.5,1799V1802.5" stroke="#111" stroke-width="1.8"/>
<path d="M324.1,1799V1802.5" stroke="#111" stroke-width="1.8"/>
<path d="M408.6,1799V1802.5" stroke="#111" stroke-width="1.8"/>
<path d="M493.2,1799V1802.5" stroke="#111" stroke-width="1.8"/>
<path d="M577.7,1799V1802.5" stroke="#111" stroke-width="1.8"/>
<path d="M662.3,1799V1802.5" stroke="#111" stroke-width="1.8"/>
<text x="86.67" y="1342.7" font-family='"Liberation Sans", sans-serif' font-size="29.5" fill="#111" textLength="8.26" lengthAdjust="spacingAndGlyphs">1</text>
<text x="62.57" y="1550.7" font-family='"Liberation Sans", sans-serif' font-size="29.5" fill="#111" textLength="33.20" lengthAdjust="spacingAndGlyphs">0.1</text>
<text x="48.25" y="1758.3" font-family='"Liberation Sans", sans-serif' font-size="29.5" fill="#111" textLength="47.55" lengthAdjust="spacingAndGlyphs">0.01</text>
<text x="112.7" y="1835" font-family='"Liberation Sans", sans-serif' font-size="30.5" font-weight="normal" text-anchor="middle" fill="#111" textLength="13.9" lengthAdjust="spacingAndGlyphs" >0</text>
<text x="197.2" y="1835" font-family='"Liberation Sans", sans-serif' font-size="30.5" font-weight="normal" text-anchor="middle" fill="#111" textLength="13.9" lengthAdjust="spacingAndGlyphs" >5</text>
<text x="281.8" y="1835" font-family='"Liberation Sans", sans-serif' font-size="30.5" font-weight="normal" text-anchor="middle" fill="#111" textLength="27.8" lengthAdjust="spacingAndGlyphs" >10</text>
<text x="366.4" y="1835" font-family='"Liberation Sans", sans-serif' font-size="30.5" font-weight="normal" text-anchor="middle" fill="#111" textLength="27.8" lengthAdjust="spacingAndGlyphs" >15</text>
<text x="450.9" y="1835" font-family='"Liberation Sans", sans-serif' font-size="30.5" font-weight="normal" text-anchor="middle" fill="#111" textLength="27.8" lengthAdjust="spacingAndGlyphs" >20</text>
<text x="535.5" y="1835" font-family='"Liberation Sans", sans-serif' font-size="30.5" font-weight="normal" text-anchor="middle" fill="#111" textLength="27.8" lengthAdjust="spacingAndGlyphs" >25</text>
<text x="620.0" y="1835" font-family='"Liberation Sans", sans-serif' font-size="30.5" font-weight="normal" text-anchor="middle" fill="#111" textLength="27.8" lengthAdjust="spacingAndGlyphs" >30</text>
<text x="704.6" y="1835" font-family='"Liberation Sans", sans-serif' font-size="30.5" font-weight="normal" text-anchor="middle" fill="#111" textLength="27.8" lengthAdjust="spacingAndGlyphs" >35</text>
<text x="343.93" y="1868.5" font-family='"Liberation Sans", sans-serif' font-size="29" fill="#111" textLength="123.36" lengthAdjust="spacingAndGlyphs">Time (hrs.)</text>
<text transform="translate(66.20,1661.67) rotate(-90) scale(0.778,1)" font-family='"Liberation Sans", sans-serif' font-size="32" fill="#111">O</text>
<text transform="translate(66.20,1640.28) rotate(-90) scale(0.792,1)" font-family='"Liberation Sans", sans-serif' font-size="32" fill="#111">D</text>
<text transform="translate(73.80,1618.14) rotate(-90) scale(0.893,1)" font-family='"Liberation Sans", sans-serif' font-size="22" fill="#111">5</text>
<text transform="translate(73.80,1607.46) rotate(-90) scale(0.917,1)" font-family='"Liberation Sans", sans-serif' font-size="22" fill="#111">9</text>
<text transform="translate(73.80,1596.47) rotate(-90) scale(0.893,1)" font-family='"Liberation Sans", sans-serif' font-size="22" fill="#111">5</text>
<text x="208" y="1376.8" font-family='"Liberation Serif", serif' font-size="40" font-weight="normal" text-anchor="start" fill="#111" textLength="142" lengthAdjust="spacingAndGlyphs" >glucose</text>
<text x="406.5" y="1520.3" font-family='"Liberation Serif", serif' font-size="40" font-weight="normal" text-anchor="start" fill="#111" textLength="177.5" lengthAdjust="spacingAndGlyphs" >sarcosine</text>
<path d="M112.7,1775.7V1797.4M109.4,1775.7H116.0M109.4,1797.4H116.0" stroke="#4a4a4a" stroke-width="1.7" fill="none"/>
<path d="M129.6,1754.2V1781.4M126.3,1754.2H132.9M126.3,1781.4H132.9" stroke="#4a4a4a" stroke-width="1.7" fill="none"/>
<path d="M146.5,1729.4V1751.1M143.2,1729.4H149.8M143.2,1751.1H149.8" stroke="#4a4a4a" stroke-width="1.7" fill="none"/>
<path d="M163.4,1723.8V1745.5M160.1,1723.8H166.7M160.1,1745.5H166.7" stroke="#4a4a4a" stroke-width="1.7" fill="none"/>
<path d="M180.3,1740.3V1762.0M177.0,1740.3H183.6M177.0,1762.0H183.6" stroke="#4a4a4a" stroke-width="1.7" fill="none"/>
<path d="M197.2,1737.6V1759.3M193.9,1737.6H200.6M193.9,1759.3H200.6" stroke="#4a4a4a" stroke-width="1.7" fill="none"/>
<path d="M214.2,1723.8V1745.5M210.9,1723.8H217.5M210.9,1745.5H217.5" stroke="#4a4a4a" stroke-width="1.7" fill="none"/>
<path d="M231.1,1721.2V1742.9M227.8,1721.2H234.4M227.8,1742.9H234.4" stroke="#4a4a4a" stroke-width="1.7" fill="none"/>
<path d="M248.0,1723.8V1745.5M244.7,1723.8H251.3M244.7,1745.5H251.3" stroke="#4a4a4a" stroke-width="1.7" fill="none"/>
<path d="M264.9,1725.3V1747.0M261.6,1725.3H268.2M261.6,1747.0H268.2" stroke="#4a4a4a" stroke-width="1.7" fill="none"/>
<path d="M281.8,1729.4V1751.1M278.5,1729.4H285.1M278.5,1751.1H285.1" stroke="#4a4a4a" stroke-width="1.7" fill="none"/>
<path d="M298.7,1690.8V1712.5M295.4,1690.8H302.0M295.4,1712.5H302.0" stroke="#4a4a4a" stroke-width="1.7" fill="none"/>
<path d="M315.6,1696.5V1718.2M312.3,1696.5H318.9M312.3,1718.2H318.9" stroke="#4a4a4a" stroke-width="1.7" fill="none"/>
<path d="M332.5,1693.5V1715.2M329.2,1693.5H335.8M329.2,1715.2H335.8" stroke="#4a4a4a" stroke-width="1.7" fill="none"/>
<path d="M349.4,1695.0V1716.7M346.1,1695.0H352.7M346.1,1716.7H352.7" stroke="#4a4a4a" stroke-width="1.7" fill="none"/>
<path d="M366.4,1700.8V1722.5M363.1,1700.8H369.7M363.1,1722.5H369.7" stroke="#4a4a4a" stroke-width="1.7" fill="none"/>
<path d="M383.3,1686.0V1707.7M380.0,1686.0H386.6M380.0,1707.7H386.6" stroke="#4a4a4a" stroke-width="1.7" fill="none"/>
<path d="M400.2,1683.0V1704.7M396.9,1683.0H403.5M396.9,1704.7H403.5" stroke="#4a4a4a" stroke-width="1.7" fill="none"/>
<path d="M417.1,1686.0V1707.7M413.8,1686.0H420.4M413.8,1707.7H420.4" stroke="#4a4a4a" stroke-width="1.7" fill="none"/>
<path d="M434.0,1686.0V1707.7M430.7,1686.0H437.3M430.7,1707.7H437.3" stroke="#4a4a4a" stroke-width="1.7" fill="none"/>
<path d="M450.9,1678.5V1700.2M447.6,1678.5H454.2M447.6,1700.2H454.2" stroke="#4a4a4a" stroke-width="1.7" fill="none"/>
<path d="M467.8,1689.8V1711.5M464.5,1689.8H471.1M464.5,1711.5H471.1" stroke="#4a4a4a" stroke-width="1.7" fill="none"/>
<path d="M484.7,1675.5V1697.2M481.4,1675.5H488.0M481.4,1697.2H488.0" stroke="#4a4a4a" stroke-width="1.7" fill="none"/>
<path d="M501.6,1679.8V1701.5M498.3,1679.8H504.9M498.3,1701.5H504.9" stroke="#4a4a4a" stroke-width="1.7" fill="none"/>
<path d="M518.5,1678.3V1700.0M515.2,1678.3H521.8M515.2,1700.0H521.8" stroke="#4a4a4a" stroke-width="1.7" fill="none"/>
<path d="M535.5,1679.8V1701.5M532.2,1679.8H538.8M532.2,1701.5H538.8" stroke="#4a4a4a" stroke-width="1.7" fill="none"/>
<path d="M552.4,1675.3V1697.0M549.1,1675.3H555.7M549.1,1697.0H555.7" stroke="#4a4a4a" stroke-width="1.7" fill="none"/>
<path d="M569.3,1687.3V1709.0M566.0,1687.3H572.6M566.0,1709.0H572.6" stroke="#4a4a4a" stroke-width="1.7" fill="none"/>
<path d="M586.2,1679.8V1701.5M582.9,1679.8H589.5M582.9,1701.5H589.5" stroke="#4a4a4a" stroke-width="1.7" fill="none"/>
<path d="M603.1,1682.8V1704.5M599.8,1682.8H606.4M599.8,1704.5H606.4" stroke="#4a4a4a" stroke-width="1.7" fill="none"/>
<path d="M620.0,1679.8V1701.5M616.7,1679.8H623.3M616.7,1701.5H623.3" stroke="#4a4a4a" stroke-width="1.7" fill="none"/>
<path d="M636.9,1673.8V1695.5M633.6,1673.8H640.2M633.6,1695.5H640.2" stroke="#4a4a4a" stroke-width="1.7" fill="none"/>
<path d="M653.8,1675.3V1697.0M650.5,1675.3H657.1M650.5,1697.0H657.1" stroke="#4a4a4a" stroke-width="1.7" fill="none"/>
<path d="M670.7,1690.3V1712.0M667.4,1690.3H674.0M667.4,1712.0H674.0" stroke="#4a4a4a" stroke-width="1.7" fill="none"/>
<path d="M687.6,1693.3V1715.0M684.3,1693.3H690.9M684.3,1715.0H690.9" stroke="#4a4a4a" stroke-width="1.7" fill="none"/>
<path d="M704.6,1681.3V1703.0M701.3,1681.3H707.9M701.3,1703.0H707.9" stroke="#4a4a4a" stroke-width="1.7" fill="none"/>
<polyline points="112.7,1785.9 129.6,1766.8 146.5,1739.6 163.4,1734.0 180.3,1750.5 197.2,1747.8 214.2,1734.0 231.1,1731.4 248.0,1734.0 264.9,1735.5 281.8,1739.6 298.7,1701.0 315.6,1706.7 332.5,1703.7 349.4,1705.2 366.4,1711.0 383.3,1696.2 400.2,1693.2 417.1,1696.2 434.0,1696.2 450.9,1688.7 467.8,1700.0 484.7,1685.7 501.6,1690.0 518.5,1688.5 535.5,1690.0 552.4,1685.5 569.3,1697.5 586.2,1690.0 603.1,1693.0 620.0,1690.0 636.9,1684.0 653.8,1685.5 670.7,1700.5 687.6,1703.5 704.6,1691.5" fill="none" stroke="#1a1a1a" stroke-width="1.5" stroke-linejoin="round"/>
<rect x="108.5" y="1781.7" width="8.5" height="8.5" fill="#3a3a3a" stroke="#222222" stroke-width="0.8"/>
<rect x="125.4" y="1762.6" width="8.5" height="8.5" fill="#3a3a3a" stroke="#222222" stroke-width="0.8"/>
<rect x="142.3" y="1735.4" width="8.5" height="8.5" fill="#3a3a3a" stroke="#222222" stroke-width="0.8"/>
<rect x="159.2" y="1729.8" width="8.5" height="8.5" fill="#3a3a3a" stroke="#222222" stroke-width="0.8"/>
<rect x="176.1" y="1746.3" width="8.5" height="8.5" fill="#3a3a3a" stroke="#222222" stroke-width="0.8"/>
<rect x="193.0" y="1743.6" width="8.5" height="8.5" fill="#3a3a3a" stroke="#222222" stroke-width="0.8"/>
<rect x="209.9" y="1729.8" width="8.5" height="8.5" fill="#3a3a3a" stroke="#222222" stroke-width="0.8"/>
<rect x="226.8" y="1727.2" width="8.5" height="8.5" fill="#3a3a3a" stroke="#222222" stroke-width="0.8"/>
<rect x="243.7" y="1729.8" width="8.5" height="8.5" fill="#3a3a3a" stroke="#222222" stroke-width="0.8"/>
<rect x="260.7" y="1731.3" width="8.5" height="8.5" fill="#3a3a3a" stroke="#222222" stroke-width="0.8"/>
<rect x="277.6" y="1735.4" width="8.5" height="8.5" fill="#3a3a3a" stroke="#222222" stroke-width="0.8"/>
<rect x="294.5" y="1696.8" width="8.5" height="8.5" fill="#3a3a3a" stroke="#222222" stroke-width="0.8"/>
<rect x="311.4" y="1702.5" width="8.5" height="8.5" fill="#3a3a3a" stroke="#222222" stroke-width="0.8"/>
<rect x="328.3" y="1699.5" width="8.5" height="8.5" fill="#3a3a3a" stroke="#222222" stroke-width="0.8"/>
<rect x="345.2" y="1701.0" width="8.5" height="8.5" fill="#3a3a3a" stroke="#222222" stroke-width="0.8"/>
<rect x="362.1" y="1706.8" width="8.5" height="8.5" fill="#3a3a3a" stroke="#222222" stroke-width="0.8"/>
<rect x="379.0" y="1692.0" width="8.5" height="8.5" fill="#3a3a3a" stroke="#222222" stroke-width="0.8"/>
<rect x="395.9" y="1689.0" width="8.5" height="8.5" fill="#3a3a3a" stroke="#222222" stroke-width="0.8"/>
<rect x="412.8" y="1692.0" width="8.5" height="8.5" fill="#3a3a3a" stroke="#222222" stroke-width="0.8"/>
<rect x="429.8" y="1692.0" width="8.5" height="8.5" fill="#3a3a3a" stroke="#222222" stroke-width="0.8"/>
<rect x="446.7" y="1684.5" width="8.5" height="8.5" fill="#3a3a3a" stroke="#222222" stroke-width="0.8"/>
<rect x="463.6" y="1695.8" width="8.5" height="8.5" fill="#3a3a3a" stroke="#222222" stroke-width="0.8"/>
<rect x="480.5" y="1681.5" width="8.5" height="8.5" fill="#3a3a3a" stroke="#222222" stroke-width="0.8"/>
<rect x="497.4" y="1685.8" width="8.5" height="8.5" fill="#3a3a3a" stroke="#222222" stroke-width="0.8"/>
<rect x="514.3" y="1684.3" width="8.5" height="8.5" fill="#3a3a3a" stroke="#222222" stroke-width="0.8"/>
<rect x="531.2" y="1685.8" width="8.5" height="8.5" fill="#3a3a3a" stroke="#222222" stroke-width="0.8"/>
<rect x="548.1" y="1681.3" width="8.5" height="8.5" fill="#3a3a3a" stroke="#222222" stroke-width="0.8"/>
<rect x="565.0" y="1693.3" width="8.5" height="8.5" fill="#3a3a3a" stroke="#222222" stroke-width="0.8"/>
<rect x="581.9" y="1685.8" width="8.5" height="8.5" fill="#3a3a3a" stroke="#222222" stroke-width="0.8"/>
<rect x="598.9" y="1688.8" width="8.5" height="8.5" fill="#3a3a3a" stroke="#222222" stroke-width="0.8"/>
<rect x="615.8" y="1685.8" width="8.5" height="8.5" fill="#3a3a3a" stroke="#222222" stroke-width="0.8"/>
<rect x="632.7" y="1679.8" width="8.5" height="8.5" fill="#3a3a3a" stroke="#222222" stroke-width="0.8"/>
<rect x="649.6" y="1681.3" width="8.5" height="8.5" fill="#3a3a3a" stroke="#222222" stroke-width="0.8"/>
<rect x="666.5" y="1696.3" width="8.5" height="8.5" fill="#3a3a3a" stroke="#222222" stroke-width="0.8"/>
<rect x="683.4" y="1699.3" width="8.5" height="8.5" fill="#3a3a3a" stroke="#222222" stroke-width="0.8"/>
<rect x="700.3" y="1687.3" width="8.5" height="8.5" fill="#3a3a3a" stroke="#222222" stroke-width="0.8"/>
<polyline points="112.7,1750.0 129.6,1659.3 146.5,1575.0 163.4,1520.5 180.3,1472.9 197.2,1438.8 214.2,1421.0 231.1,1412.5 248.0,1406.5 264.9,1401.0 281.8,1397.3 298.7,1394.0 315.6,1391.7 332.5,1392.5 349.4,1389.5 366.4,1391.7 383.3,1390.3 400.2,1390.5 417.1,1390.5 434.0,1389.6 450.9,1390.5 467.8,1389.6 484.7,1386.0 501.6,1384.7 518.5,1391.4 535.5,1389.6 552.4,1387.8 569.3,1392.3 586.2,1390.5 603.1,1392.8 620.0,1391.4 636.9,1386.9 653.8,1389.6 670.7,1391.4 687.6,1393.2 704.6,1393.2" fill="none" stroke="#1a1a1a" stroke-width="1.5" stroke-linejoin="round"/>
<circle cx="112.7" cy="1750.0" r="5.6" fill="#ee2a2a" stroke="#c81818" stroke-width="0.8"/>
<circle cx="129.6" cy="1659.3" r="5.6" fill="#ee2a2a" stroke="#c81818" stroke-width="0.8"/>
<circle cx="146.5" cy="1575.0" r="5.6" fill="#ee2a2a" stroke="#c81818" stroke-width="0.8"/>
<circle cx="163.4" cy="1520.5" r="5.6" fill="#ee2a2a" stroke="#c81818" stroke-width="0.8"/>
<circle cx="180.3" cy="1472.9" r="5.6" fill="#ee2a2a" stroke="#c81818" stroke-width="0.8"/>
<circle cx="197.2" cy="1438.8" r="5.6" fill="#ee2a2a" stroke="#c81818" stroke-width="0.8"/>
<circle cx="214.2" cy="1421.0" r="5.6" fill="#ee2a2a" stroke="#c81818" stroke-width="0.8"/>
<circle cx="231.1" cy="1412.5" r="5.6" fill="#ee2a2a" stroke="#c81818" stroke-width="0.8"/>
<circle cx="248.0" cy="1406.5" r="5.6" fill="#ee2a2a" stroke="#c81818" stroke-width="0.8"/>
<circle cx="264.9" cy="1401.0" r="5.6" fill="#ee2a2a" stroke="#c81818" stroke-width="0.8"/>
<circle cx="281.8" cy="1397.3" r="5.6" fill="#ee2a2a" stroke="#c81818" stroke-width="0.8"/>
<circle cx="298.7" cy="1394.0" r="5.6" fill="#ee2a2a" stroke="#c81818" stroke-width="0.8"/>
<circle cx="315.6" cy="1391.7" r="5.6" fill="#ee2a2a" stroke="#c81818" stroke-width="0.8"/>
<circle cx="332.5" cy="1392.5" r="5.6" fill="#ee2a2a" stroke="#c81818" stroke-width="0.8"/>
<circle cx="349.4" cy="1389.5" r="5.6" fill="#ee2a2a" stroke="#c81818" stroke-width="0.8"/>
<circle cx="366.4" cy="1391.7" r="5.6" fill="#ee2a2a" stroke="#c81818" stroke-width="0.8"/>
<circle cx="383.3" cy="1390.3" r="5.6" fill="#ee2a2a" stroke="#c81818" stroke-width="0.8"/>
<circle cx="400.2" cy="1390.5" r="5.6" fill="#ee2a2a" stroke="#c81818" stroke-width="0.8"/>
<circle cx="417.1" cy="1390.5" r="5.6" fill="#ee2a2a" stroke="#c81818" stroke-width="0.8"/>
<circle cx="434.0" cy="1389.6" r="5.6" fill="#ee2a2a" stroke="#c81818" stroke-width="0.8"/>
<circle cx="450.9" cy="1390.5" r="5.6" fill="#ee2a2a" stroke="#c81818" stroke-width="0.8"/>
<circle cx="467.8" cy="1389.6" r="5.6" fill="#ee2a2a" stroke="#c81818" stroke-width="0.8"/>
<circle cx="484.7" cy="1386.0" r="5.6" fill="#ee2a2a" stroke="#c81818" stroke-width="0.8"/>
<circle cx="501.6" cy="1384.7" r="5.6" fill="#ee2a2a" stroke="#c81818" stroke-width="0.8"/>
<circle cx="518.5" cy="1391.4" r="5.6" fill="#ee2a2a" stroke="#c81818" stroke-width="0.8"/>
<circle cx="535.5" cy="1389.6" r="5.6" fill="#ee2a2a" stroke="#c81818" stroke-width="0.8"/>
<circle cx="552.4" cy="1387.8" r="5.6" fill="#ee2a2a" stroke="#c81818" stroke-width="0.8"/>
<circle cx="569.3" cy="1392.3" r="5.6" fill="#ee2a2a" stroke="#c81818" stroke-width="0.8"/>
<circle cx="586.2" cy="1390.5" r="5.6" fill="#ee2a2a" stroke="#c81818" stroke-width="0.8"/>
<circle cx="603.1" cy="1392.8" r="5.6" fill="#ee2a2a" stroke="#c81818" stroke-width="0.8"/>
<circle cx="620.0" cy="1391.4" r="5.6" fill="#ee2a2a" stroke="#c81818" stroke-width="0.8"/>
<circle cx="636.9" cy="1386.9" r="5.6" fill="#ee2a2a" stroke="#c81818" stroke-width="0.8"/>
<circle cx="653.8" cy="1389.6" r="5.6" fill="#ee2a2a" stroke="#c81818" stroke-width="0.8"/>
<circle cx="670.7" cy="1391.4" r="5.6" fill="#ee2a2a" stroke="#c81818" stroke-width="0.8"/>
<circle cx="687.6" cy="1393.2" r="5.6" fill="#ee2a2a" stroke="#c81818" stroke-width="0.8"/>
<circle cx="704.6" cy="1393.2" r="5.6" fill="#ee2a2a" stroke="#c81818" stroke-width="0.8"/>
<path d="M112.7,1725.4V1743.5M109.4,1725.4H116.0M109.4,1743.5H116.0" stroke="#3a86d8" stroke-width="1.7" fill="none"/>
<path d="M129.6,1741.9V1760.0M126.3,1741.9H132.9M126.3,1760.0H132.9" stroke="#3a86d8" stroke-width="1.7" fill="none"/>
<path d="M146.5,1726.9V1745.0M143.2,1726.9H149.8M143.2,1745.0H149.8" stroke="#3a86d8" stroke-width="1.7" fill="none"/>
<path d="M163.4,1721.4V1739.5M160.1,1721.4H166.7M160.1,1739.5H166.7" stroke="#3a86d8" stroke-width="1.7" fill="none"/>
<path d="M180.3,1728.3V1746.4M177.0,1728.3H183.6M177.0,1746.4H183.6" stroke="#3a86d8" stroke-width="1.7" fill="none"/>
<path d="M197.2,1722.8V1740.9M193.9,1722.8H200.6M193.9,1740.9H200.6" stroke="#3a86d8" stroke-width="1.7" fill="none"/>
<path d="M214.2,1718.7V1736.8M210.9,1718.7H217.5M210.9,1736.8H217.5" stroke="#3a86d8" stroke-width="1.7" fill="none"/>
<path d="M231.1,1718.7V1736.8M227.8,1718.7H234.4M227.8,1736.8H234.4" stroke="#3a86d8" stroke-width="1.7" fill="none"/>
<path d="M248.0,1722.8V1740.9M244.7,1722.8H251.3M244.7,1740.9H251.3" stroke="#3a86d8" stroke-width="1.7" fill="none"/>
<path d="M264.9,1725.5V1743.6M261.6,1725.5H268.2M261.6,1743.6H268.2" stroke="#3a86d8" stroke-width="1.7" fill="none"/>
<path d="M281.8,1725.5V1743.6M278.5,1725.5H285.1M278.5,1743.6H285.1" stroke="#3a86d8" stroke-width="1.7" fill="none"/>
<path d="M298.7,1707.9V1726.0M295.4,1707.9H302.0M295.4,1726.0H302.0" stroke="#3a86d8" stroke-width="1.7" fill="none"/>
<path d="M315.6,1705.5V1723.6M312.3,1705.5H318.9M312.3,1723.6H318.9" stroke="#3a86d8" stroke-width="1.7" fill="none"/>
<path d="M332.5,1705.5V1723.6M329.2,1705.5H335.8M329.2,1723.6H335.8" stroke="#3a86d8" stroke-width="1.7" fill="none"/>
<path d="M349.4,1707.0V1725.1M346.1,1707.0H352.7M346.1,1725.1H352.7" stroke="#3a86d8" stroke-width="1.7" fill="none"/>
<path d="M366.4,1711.5V1729.6M363.1,1711.5H369.7M363.1,1729.6H369.7" stroke="#3a86d8" stroke-width="1.7" fill="none"/>
<path d="M383.3,1704.0V1722.1M380.0,1704.0H386.6M380.0,1722.1H386.6" stroke="#3a86d8" stroke-width="1.7" fill="none"/>
<path d="M400.2,1704.0V1722.1M396.9,1704.0H403.5M396.9,1722.1H403.5" stroke="#3a86d8" stroke-width="1.7" fill="none"/>
<path d="M417.1,1704.0V1722.1M413.8,1704.0H420.4M413.8,1722.1H420.4" stroke="#3a86d8" stroke-width="1.7" fill="none"/>
<path d="M434.0,1704.0V1722.1M430.7,1704.0H437.3M430.7,1722.1H437.3" stroke="#3a86d8" stroke-width="1.7" fill="none"/>
<path d="M450.9,1698.1V1716.2M447.6,1698.1H454.2M447.6,1716.2H454.2" stroke="#3a86d8" stroke-width="1.7" fill="none"/>
<path d="M467.8,1702.6V1720.7M464.5,1702.6H471.1M464.5,1720.7H471.1" stroke="#3a86d8" stroke-width="1.7" fill="none"/>
<path d="M484.7,1693.6V1711.7M481.4,1693.6H488.0M481.4,1711.7H488.0" stroke="#3a86d8" stroke-width="1.7" fill="none"/>
<path d="M501.6,1689.0V1707.1M498.3,1689.0H504.9M498.3,1707.1H504.9" stroke="#3a86d8" stroke-width="1.7" fill="none"/>
<path d="M518.5,1690.4V1708.5M515.2,1690.4H521.8M515.2,1708.5H521.8" stroke="#3a86d8" stroke-width="1.7" fill="none"/>
<path d="M535.5,1691.9V1710.0M532.2,1691.9H538.8M532.2,1710.0H538.8" stroke="#3a86d8" stroke-width="1.7" fill="none"/>
<path d="M552.4,1684.4V1702.5M549.1,1684.4H555.7M549.1,1702.5H555.7" stroke="#3a86d8" stroke-width="1.7" fill="none"/>
<path d="M569.3,1690.4V1708.5M566.0,1690.4H572.6M566.0,1708.5H572.6" stroke="#3a86d8" stroke-width="1.7" fill="none"/>
<path d="M586.2,1688.9V1707.0M582.9,1688.9H589.5M582.9,1707.0H589.5" stroke="#3a86d8" stroke-width="1.7" fill="none"/>
<path d="M603.1,1688.9V1707.0M599.8,1688.9H606.4M599.8,1707.0H606.4" stroke="#3a86d8" stroke-width="1.7" fill="none"/>
<path d="M620.0,1687.4V1705.5M616.7,1687.4H623.3M616.7,1705.5H623.3" stroke="#3a86d8" stroke-width="1.7" fill="none"/>
<path d="M636.9,1681.4V1699.5M633.6,1681.4H640.2M633.6,1699.5H640.2" stroke="#3a86d8" stroke-width="1.7" fill="none"/>
<path d="M653.8,1681.4V1699.5M650.5,1681.4H657.1M650.5,1699.5H657.1" stroke="#3a86d8" stroke-width="1.7" fill="none"/>
<path d="M670.7,1690.4V1708.5M667.4,1690.4H674.0M667.4,1708.5H674.0" stroke="#3a86d8" stroke-width="1.7" fill="none"/>
<path d="M687.6,1687.4V1705.5M684.3,1687.4H690.9M684.3,1705.5H690.9" stroke="#3a86d8" stroke-width="1.7" fill="none"/>
<path d="M704.6,1688.9V1707.0M701.3,1688.9H707.9M701.3,1707.0H707.9" stroke="#3a86d8" stroke-width="1.7" fill="none"/>
<polyline points="112.7,1734.0 129.6,1750.5 146.5,1735.5 163.4,1730.0 180.3,1736.9 197.2,1731.4 214.2,1727.3 231.1,1727.3 248.0,1731.4 264.9,1734.1 281.8,1734.1 298.7,1716.5 315.6,1714.1 332.5,1714.1 349.4,1715.6 366.4,1720.1 383.3,1712.6 400.2,1712.6 417.1,1712.6 434.0,1712.6 450.9,1706.7 467.8,1711.2 484.7,1702.2 501.6,1697.6 518.5,1699.0 535.5,1700.5 552.4,1693.0 569.3,1699.0 586.2,1697.5 603.1,1697.5 620.0,1696.0 636.9,1690.0 653.8,1690.0 670.7,1699.0 687.6,1696.0 704.6,1697.5" fill="none" stroke="#1a1a1a" stroke-width="1.5" stroke-linejoin="round"/>
<path d="M112.7,1728.8 L118.4,1739.2 L107.0,1739.2Z" fill="#1f63d6" stroke="#1650b8" stroke-width="0.8"/>
<path d="M129.6,1745.3 L135.3,1755.7 L123.9,1755.7Z" fill="#1f63d6" stroke="#1650b8" stroke-width="0.8"/>
<path d="M146.5,1730.3 L152.2,1740.7 L140.8,1740.7Z" fill="#1f63d6" stroke="#1650b8" stroke-width="0.8"/>
<path d="M163.4,1724.8 L169.1,1735.2 L157.8,1735.2Z" fill="#1f63d6" stroke="#1650b8" stroke-width="0.8"/>
<path d="M180.3,1731.7 L186.0,1742.1 L174.7,1742.1Z" fill="#1f63d6" stroke="#1650b8" stroke-width="0.8"/>
<path d="M197.2,1726.2 L202.9,1736.6 L191.6,1736.6Z" fill="#1f63d6" stroke="#1650b8" stroke-width="0.8"/>
<path d="M214.2,1722.1 L219.8,1732.5 L208.5,1732.5Z" fill="#1f63d6" stroke="#1650b8" stroke-width="0.8"/>
<path d="M231.1,1722.1 L236.7,1732.5 L225.4,1732.5Z" fill="#1f63d6" stroke="#1650b8" stroke-width="0.8"/>
<path d="M248.0,1726.2 L253.7,1736.6 L242.3,1736.6Z" fill="#1f63d6" stroke="#1650b8" stroke-width="0.8"/>
<path d="M264.9,1728.9 L270.6,1739.3 L259.2,1739.3Z" fill="#1f63d6" stroke="#1650b8" stroke-width="0.8"/>
<path d="M281.8,1728.9 L287.5,1739.3 L276.1,1739.3Z" fill="#1f63d6" stroke="#1650b8" stroke-width="0.8"/>
<path d="M298.7,1711.3 L304.4,1721.7 L293.0,1721.7Z" fill="#1f63d6" stroke="#1650b8" stroke-width="0.8"/>
<path d="M315.6,1708.9 L321.3,1719.3 L309.9,1719.3Z" fill="#1f63d6" stroke="#1650b8" stroke-width="0.8"/>
<path d="M332.5,1708.9 L338.2,1719.3 L326.9,1719.3Z" fill="#1f63d6" stroke="#1650b8" stroke-width="0.8"/>
<path d="M349.4,1710.4 L355.1,1720.8 L343.8,1720.8Z" fill="#1f63d6" stroke="#1650b8" stroke-width="0.8"/>
<path d="M366.4,1714.9 L372.0,1725.3 L360.7,1725.3Z" fill="#1f63d6" stroke="#1650b8" stroke-width="0.8"/>
<path d="M383.3,1707.4 L388.9,1717.8 L377.6,1717.8Z" fill="#1f63d6" stroke="#1650b8" stroke-width="0.8"/>
<path d="M400.2,1707.4 L405.8,1717.8 L394.5,1717.8Z" fill="#1f63d6" stroke="#1650b8" stroke-width="0.8"/>
<path d="M417.1,1707.4 L422.8,1717.8 L411.4,1717.8Z" fill="#1f63d6" stroke="#1650b8" stroke-width="0.8"/>
<path d="M434.0,1707.4 L439.7,1717.8 L428.3,1717.8Z" fill="#1f63d6" stroke="#1650b8" stroke-width="0.8"/>
<path d="M450.9,1701.5 L456.6,1711.9 L445.2,1711.9Z" fill="#1f63d6" stroke="#1650b8" stroke-width="0.8"/>
<path d="M467.8,1706.0 L473.5,1716.4 L462.1,1716.4Z" fill="#1f63d6" stroke="#1650b8" stroke-width="0.8"/>
<path d="M484.7,1697.0 L490.4,1707.4 L479.0,1707.4Z" fill="#1f63d6" stroke="#1650b8" stroke-width="0.8"/>
<path d="M501.6,1692.4 L507.3,1702.8 L496.0,1702.8Z" fill="#1f63d6" stroke="#1650b8" stroke-width="0.8"/>
<path d="M518.5,1693.8 L524.2,1704.2 L512.9,1704.2Z" fill="#1f63d6" stroke="#1650b8" stroke-width="0.8"/>
<path d="M535.5,1695.3 L541.1,1705.7 L529.8,1705.7Z" fill="#1f63d6" stroke="#1650b8" stroke-width="0.8"/>
<path d="M552.4,1687.8 L558.0,1698.2 L546.7,1698.2Z" fill="#1f63d6" stroke="#1650b8" stroke-width="0.8"/>
<path d="M569.3,1693.8 L574.9,1704.2 L563.6,1704.2Z" fill="#1f63d6" stroke="#1650b8" stroke-width="0.8"/>
<path d="M586.2,1692.3 L591.9,1702.7 L580.5,1702.7Z" fill="#1f63d6" stroke="#1650b8" stroke-width="0.8"/>
<path d="M603.1,1692.3 L608.8,1702.7 L597.4,1702.7Z" fill="#1f63d6" stroke="#1650b8" stroke-width="0.8"/>
<path d="M620.0,1690.8 L625.7,1701.2 L614.3,1701.2Z" fill="#1f63d6" stroke="#1650b8" stroke-width="0.8"/>
<path d="M636.9,1684.8 L642.6,1695.2 L631.2,1695.2Z" fill="#1f63d6" stroke="#1650b8" stroke-width="0.8"/>
<path d="M653.8,1684.8 L659.5,1695.2 L648.1,1695.2Z" fill="#1f63d6" stroke="#1650b8" stroke-width="0.8"/>
<path d="M670.7,1693.8 L676.4,1704.2 L665.1,1704.2Z" fill="#1f63d6" stroke="#1650b8" stroke-width="0.8"/>
<path d="M687.6,1690.8 L693.3,1701.2 L682.0,1701.2Z" fill="#1f63d6" stroke="#1650b8" stroke-width="0.8"/>
<path d="M704.6,1692.3 L710.2,1702.7 L698.9,1702.7Z" fill="#1f63d6" stroke="#1650b8" stroke-width="0.8"/>
<path d="M112.7,1723.8V1745.5M109.4,1723.8H116.0M109.4,1745.5H116.0" stroke="#2aa860" stroke-width="1.7" fill="none"/>
<path d="M129.6,1739.6V1776.1M126.3,1739.6H132.9M126.3,1776.1H132.9" stroke="#2aa860" stroke-width="1.7" fill="none"/>
<path d="M146.5,1724.3V1751.5M143.2,1724.3H149.8M143.2,1751.5H149.8" stroke="#2aa860" stroke-width="1.7" fill="none"/>
<path d="M163.4,1727.4V1760.1M160.1,1727.4H166.7M160.1,1760.1H166.7" stroke="#2aa860" stroke-width="1.7" fill="none"/>
<path d="M180.3,1728.8V1761.5M177.0,1728.8H183.6M177.0,1761.5H183.6" stroke="#2aa860" stroke-width="1.7" fill="none"/>
<path d="M197.2,1738.3V1771.0M193.9,1738.3H200.6M193.9,1771.0H200.6" stroke="#2aa860" stroke-width="1.7" fill="none"/>
<path d="M214.2,1762.8V1795.5M210.9,1762.8H217.5M210.9,1795.5H217.5" stroke="#2aa860" stroke-width="1.7" fill="none"/>
<path d="M231.1,1739.5V1776.0M227.8,1739.5H234.4M227.8,1776.0H234.4" stroke="#2aa860" stroke-width="1.7" fill="none"/>
<path d="M248.0,1720.5V1757.0M244.7,1720.5H251.3M244.7,1757.0H251.3" stroke="#2aa860" stroke-width="1.7" fill="none"/>
<path d="M264.9,1717.7V1754.2M261.6,1717.7H268.2M261.6,1754.2H268.2" stroke="#2aa860" stroke-width="1.7" fill="none"/>
<path d="M281.8,1721.8V1758.3M278.5,1721.8H285.1M278.5,1758.3H285.1" stroke="#2aa860" stroke-width="1.7" fill="none"/>
<path d="M298.7,1729.6V1766.1M295.4,1729.6H302.0M295.4,1766.1H302.0" stroke="#2aa860" stroke-width="1.7" fill="none"/>
<path d="M315.6,1744.1V1780.6M312.3,1744.1H318.9M312.3,1780.6H318.9" stroke="#2aa860" stroke-width="1.7" fill="none"/>
<path d="M332.5,1706.7V1743.2M329.2,1706.7H335.8M329.2,1743.2H335.8" stroke="#2aa860" stroke-width="1.7" fill="none"/>
<path d="M349.4,1724.7V1761.2M346.1,1724.7H352.7M346.1,1761.2H352.7" stroke="#2aa860" stroke-width="1.7" fill="none"/>
<path d="M366.4,1715.7V1752.2M363.1,1715.7H369.7M363.1,1752.2H369.7" stroke="#2aa860" stroke-width="1.7" fill="none"/>
<path d="M383.3,1721.7V1758.2M380.0,1721.7H386.6M380.0,1758.2H386.6" stroke="#2aa860" stroke-width="1.7" fill="none"/>
<path d="M400.2,1730.7V1767.2M396.9,1730.7H403.5M396.9,1767.2H403.5" stroke="#2aa860" stroke-width="1.7" fill="none"/>
<path d="M417.1,1735.2V1771.7M413.8,1735.2H420.4M413.8,1771.7H420.4" stroke="#2aa860" stroke-width="1.7" fill="none"/>
<path d="M434.0,1702.2V1738.7M430.7,1702.2H437.3M430.7,1738.7H437.3" stroke="#2aa860" stroke-width="1.7" fill="none"/>
<path d="M450.9,1696.2V1732.7M447.6,1696.2H454.2M447.6,1732.7H454.2" stroke="#2aa860" stroke-width="1.7" fill="none"/>
<path d="M467.8,1735.2V1771.7M464.5,1735.2H471.1M464.5,1771.7H471.1" stroke="#2aa860" stroke-width="1.7" fill="none"/>
<path d="M484.7,1726.2V1762.7M481.4,1726.2H488.0M481.4,1762.7H488.0" stroke="#2aa860" stroke-width="1.7" fill="none"/>
<path d="M501.6,1706.6V1743.1M498.3,1706.6H504.9M498.3,1743.1H504.9" stroke="#2aa860" stroke-width="1.7" fill="none"/>
<path d="M518.5,1711.0V1747.5M515.2,1711.0H521.8M515.2,1747.5H521.8" stroke="#2aa860" stroke-width="1.7" fill="none"/>
<path d="M535.5,1718.5V1755.0M532.2,1718.5H538.8M532.2,1755.0H538.8" stroke="#2aa860" stroke-width="1.7" fill="none"/>
<path d="M552.4,1684.1V1720.6M549.1,1684.1H555.7M549.1,1720.6H555.7" stroke="#2aa860" stroke-width="1.7" fill="none"/>
<path d="M569.3,1699.0V1735.5M566.0,1699.0H572.6M566.0,1735.5H572.6" stroke="#2aa860" stroke-width="1.7" fill="none"/>
<path d="M586.2,1703.5V1740.0M582.9,1703.5H589.5M582.9,1740.0H589.5" stroke="#2aa860" stroke-width="1.7" fill="none"/>
<path d="M603.1,1690.1V1726.6M599.8,1690.1H606.4M599.8,1726.6H606.4" stroke="#2aa860" stroke-width="1.7" fill="none"/>
<path d="M620.0,1705.0V1741.5M616.7,1705.0H623.3M616.7,1741.5H623.3" stroke="#2aa860" stroke-width="1.7" fill="none"/>
<path d="M636.9,1712.5V1749.0M633.6,1712.5H640.2M633.6,1749.0H640.2" stroke="#2aa860" stroke-width="1.7" fill="none"/>
<path d="M653.8,1696.0V1732.5M650.5,1696.0H657.1M650.5,1732.5H657.1" stroke="#2aa860" stroke-width="1.7" fill="none"/>
<path d="M670.7,1715.5V1752.0M667.4,1715.5H674.0M667.4,1752.0H674.0" stroke="#2aa860" stroke-width="1.7" fill="none"/>
<path d="M687.6,1676.6V1713.1M684.3,1676.6H690.9M684.3,1713.1H690.9" stroke="#2aa860" stroke-width="1.7" fill="none"/>
<path d="M704.6,1706.5V1743.0M701.3,1706.5H707.9M701.3,1743.0H707.9" stroke="#2aa860" stroke-width="1.7" fill="none"/>
<polyline points="112.7,1734.0 129.6,1756.0 146.5,1736.9 163.4,1742.3 180.3,1743.7 197.2,1753.2 214.2,1777.7 231.1,1755.9 248.0,1736.9 264.9,1734.1 281.8,1738.2 298.7,1746.0 315.6,1760.5 332.5,1723.1 349.4,1741.1 366.4,1732.1 383.3,1738.1 400.2,1747.1 417.1,1751.6 434.0,1718.6 450.9,1712.6 467.8,1751.6 484.7,1742.6 501.6,1723.0 518.5,1727.4 535.5,1734.9 552.4,1700.5 569.3,1715.4 586.2,1719.9 603.1,1706.5 620.0,1721.4 636.9,1728.9 653.8,1712.4 670.7,1731.9 687.6,1693.0 704.6,1722.9" fill="none" stroke="#1a1a1a" stroke-width="1.5" stroke-linejoin="round"/>
<path d="M112.7,1739.2 L118.4,1728.8 L107.0,1728.8Z" fill="#1fa04c" stroke="#168040" stroke-width="0.8"/>
<path d="M129.6,1761.2 L135.3,1750.8 L123.9,1750.8Z" fill="#1fa04c" stroke="#168040" stroke-width="0.8"/>
<path d="M146.5,1742.1 L152.2,1731.7 L140.8,1731.7Z" fill="#1fa04c" stroke="#168040" stroke-width="0.8"/>
<path d="M163.4,1747.5 L169.1,1737.1 L157.8,1737.1Z" fill="#1fa04c" stroke="#168040" stroke-width="0.8"/>
<path d="M180.3,1748.9 L186.0,1738.5 L174.7,1738.5Z" fill="#1fa04c" stroke="#168040" stroke-width="0.8"/>
<path d="M197.2,1758.4 L202.9,1748.0 L191.6,1748.0Z" fill="#1fa04c" stroke="#168040" stroke-width="0.8"/>
<path d="M214.2,1782.9 L219.8,1772.5 L208.5,1772.5Z" fill="#1fa04c" stroke="#168040" stroke-width="0.8"/>
<path d="M231.1,1761.1 L236.7,1750.7 L225.4,1750.7Z" fill="#1fa04c" stroke="#168040" stroke-width="0.8"/>
<path d="M248.0,1742.1 L253.7,1731.7 L242.3,1731.7Z" fill="#1fa04c" stroke="#168040" stroke-width="0.8"/>
<path d="M264.9,1739.3 L270.6,1728.9 L259.2,1728.9Z" fill="#1fa04c" stroke="#168040" stroke-width="0.8"/>
<path d="M281.8,1743.4 L287.5,1733.0 L276.1,1733.0Z" fill="#1fa04c" stroke="#168040" stroke-width="0.8"/>
<path d="M298.7,1751.2 L304.4,1740.8 L293.0,1740.8Z" fill="#1fa04c" stroke="#168040" stroke-width="0.8"/>
<path d="M315.6,1765.7 L321.3,1755.3 L309.9,1755.3Z" fill="#1fa04c" stroke="#168040" stroke-width="0.8"/>
<path d="M332.5,1728.3 L338.2,1717.9 L326.9,1717.9Z" fill="#1fa04c" stroke="#168040" stroke-width="0.8"/>
<path d="M349.4,1746.3 L355.1,1735.9 L343.8,1735.9Z" fill="#1fa04c" stroke="#168040" stroke-width="0.8"/>
<path d="M366.4,1737.3 L372.0,1726.9 L360.7,1726.9Z" fill="#1fa04c" stroke="#168040" stroke-width="0.8"/>
<path d="M383.3,1743.3 L388.9,1732.9 L377.6,1732.9Z" fill="#1fa04c" stroke="#168040" stroke-width="0.8"/>
<path d="M400.2,1752.3 L405.8,1741.9 L394.5,1741.9Z" fill="#1fa04c" stroke="#168040" stroke-width="0.8"/>
<path d="M417.1,1756.8 L422.8,1746.4 L411.4,1746.4Z" fill="#1fa04c" stroke="#168040" stroke-width="0.8"/>
<path d="M434.0,1723.8 L439.7,1713.4 L428.3,1713.4Z" fill="#1fa04c" stroke="#168040" stroke-width="0.8"/>
<path d="M450.9,1717.8 L456.6,1707.4 L445.2,1707.4Z" fill="#1fa04c" stroke="#168040" stroke-width="0.8"/>
<path d="M467.8,1756.8 L473.5,1746.4 L462.1,1746.4Z" fill="#1fa04c" stroke="#168040" stroke-width="0.8"/>
<path d="M484.7,1747.8 L490.4,1737.4 L479.0,1737.4Z" fill="#1fa04c" stroke="#168040" stroke-width="0.8"/>
<path d="M501.6,1728.2 L507.3,1717.8 L496.0,1717.8Z" fill="#1fa04c" stroke="#168040" stroke-width="0.8"/>
<path d="M518.5,1732.6 L524.2,1722.2 L512.9,1722.2Z" fill="#1fa04c" stroke="#168040" stroke-width="0.8"/>
<path d="M535.5,1740.1 L541.1,1729.7 L529.8,1729.7Z" fill="#1fa04c" stroke="#168040" stroke-width="0.8"/>
<path d="M552.4,1705.7 L558.0,1695.3 L546.7,1695.3Z" fill="#1fa04c" stroke="#168040" stroke-width="0.8"/>
<path d="M569.3,1720.6 L574.9,1710.2 L563.6,1710.2Z" fill="#1fa04c" stroke="#168040" stroke-width="0.8"/>
<path d="M586.2,1725.1 L591.9,1714.7 L580.5,1714.7Z" fill="#1fa04c" stroke="#168040" stroke-width="0.8"/>
<path d="M603.1,1711.7 L608.8,1701.3 L597.4,1701.3Z" fill="#1fa04c" stroke="#168040" stroke-width="0.8"/>
<path d="M620.0,1726.6 L625.7,1716.2 L614.3,1716.2Z" fill="#1fa04c" stroke="#168040" stroke-width="0.8"/>
<path d="M636.9,1734.1 L642.6,1723.7 L631.2,1723.7Z" fill="#1fa04c" stroke="#168040" stroke-width="0.8"/>
<path d="M653.8,1717.6 L659.5,1707.2 L648.1,1707.2Z" fill="#1fa04c" stroke="#168040" stroke-width="0.8"/>
<path d="M670.7,1737.1 L676.4,1726.7 L665.1,1726.7Z" fill="#1fa04c" stroke="#168040" stroke-width="0.8"/>
<path d="M687.6,1698.2 L693.3,1687.8 L682.0,1687.8Z" fill="#1fa04c" stroke="#168040" stroke-width="0.8"/>
<path d="M704.6,1728.1 L710.2,1717.7 L698.9,1717.7Z" fill="#1fa04c" stroke="#168040" stroke-width="0.8"/>
<path d="M112.7,1747.7V1762.1M109.4,1747.7H116.0M109.4,1762.1H116.0" stroke="#b494dc" stroke-width="1.7" fill="none"/>
<path d="M129.6,1748.7V1766.8M126.3,1748.7H132.9M126.3,1766.8H132.9" stroke="#b494dc" stroke-width="1.7" fill="none"/>
<path d="M146.5,1734.1V1748.5M143.2,1734.1H149.8M143.2,1748.5H149.8" stroke="#b494dc" stroke-width="1.7" fill="none"/>
<path d="M163.4,1727.2V1741.6M160.1,1727.2H166.7M160.1,1741.6H166.7" stroke="#b494dc" stroke-width="1.7" fill="none"/>
<path d="M180.3,1726.4V1742.6M177.0,1726.4H183.6M177.0,1742.6H183.6" stroke="#b494dc" stroke-width="1.7" fill="none"/>
<path d="M197.2,1711.9V1730.0M193.9,1711.9H200.6M193.9,1730.0H200.6" stroke="#b494dc" stroke-width="1.7" fill="none"/>
<path d="M214.2,1704.3V1724.2M210.9,1704.3H217.5M210.9,1724.2H217.5" stroke="#b494dc" stroke-width="1.7" fill="none"/>
<path d="M231.1,1687.2V1708.9M227.8,1687.2H234.4M227.8,1708.9H234.4" stroke="#b494dc" stroke-width="1.7" fill="none"/>
<path d="M248.0,1672.8V1696.3M244.7,1672.8H251.3M244.7,1696.3H251.3" stroke="#b494dc" stroke-width="1.7" fill="none"/>
<path d="M264.9,1659.8V1685.2M261.6,1659.8H268.2M261.6,1685.2H268.2" stroke="#b494dc" stroke-width="1.7" fill="none"/>
<path d="M281.8,1650.8V1678.0M278.5,1650.8H285.1M278.5,1678.0H285.1" stroke="#b494dc" stroke-width="1.7" fill="none"/>
<path d="M298.7,1643.7V1672.7M295.4,1643.7H302.0M295.4,1672.7H302.0" stroke="#b494dc" stroke-width="1.7" fill="none"/>
<path d="M315.6,1632.7V1663.6M312.3,1632.7H318.9M312.3,1663.6H318.9" stroke="#b494dc" stroke-width="1.7" fill="none"/>
<path d="M332.5,1621.4V1654.1M329.2,1621.4H335.8M329.2,1654.1H335.8" stroke="#b494dc" stroke-width="1.7" fill="none"/>
<path d="M349.4,1614.7V1649.2M346.1,1614.7H352.7M346.1,1649.2H352.7" stroke="#b494dc" stroke-width="1.7" fill="none"/>
<path d="M366.4,1606.5V1643.0M363.1,1606.5H369.7M363.1,1643.0H369.7" stroke="#b494dc" stroke-width="1.7" fill="none"/>
<path d="M383.3,1598.3V1636.6M380.0,1598.3H386.6M380.0,1636.6H386.6" stroke="#b494dc" stroke-width="1.7" fill="none"/>
<path d="M400.2,1591.5V1631.7M396.9,1591.5H403.5M396.9,1631.7H403.5" stroke="#b494dc" stroke-width="1.7" fill="none"/>
<path d="M417.1,1584.8V1626.9M413.8,1584.8H420.4M413.8,1626.9H420.4" stroke="#b494dc" stroke-width="1.7" fill="none"/>
<path d="M434.0,1576.6V1620.6M430.7,1576.6H437.3M430.7,1620.6H437.3" stroke="#b494dc" stroke-width="1.7" fill="none"/>
<path d="M450.9,1569.8V1615.8M447.6,1569.8H454.2M447.6,1615.8H454.2" stroke="#b494dc" stroke-width="1.7" fill="none"/>
<path d="M467.8,1562.4V1612.2M464.5,1562.4H471.1M464.5,1612.2H471.1" stroke="#b494dc" stroke-width="1.7" fill="none"/>
<path d="M484.7,1555.8V1607.5M481.4,1555.8H488.0M481.4,1607.5H488.0" stroke="#b494dc" stroke-width="1.7" fill="none"/>
<path d="M501.6,1547.4V1603.1M498.3,1547.4H504.9M498.3,1603.1H504.9" stroke="#b494dc" stroke-width="1.7" fill="none"/>
<path d="M518.5,1540.9V1598.6M515.2,1540.9H521.8M515.2,1598.6H521.8" stroke="#b494dc" stroke-width="1.7" fill="none"/>
<path d="M535.5,1534.8V1594.5M532.2,1534.8H538.8M532.2,1594.5H538.8" stroke="#b494dc" stroke-width="1.7" fill="none"/>
<path d="M552.4,1525.8V1587.4M549.1,1525.8H555.7M549.1,1587.4H555.7" stroke="#b494dc" stroke-width="1.7" fill="none"/>
<path d="M569.3,1520.9V1584.6M566.0,1520.9H572.6M566.0,1584.6H572.6" stroke="#b494dc" stroke-width="1.7" fill="none"/>
<path d="M586.2,1514.2V1579.9M582.9,1514.2H589.5M582.9,1579.9H589.5" stroke="#b494dc" stroke-width="1.7" fill="none"/>
<path d="M603.1,1507.5V1577.3M599.8,1507.5H606.4M599.8,1577.3H606.4" stroke="#b494dc" stroke-width="1.7" fill="none"/>
<path d="M620.0,1503.9V1575.9M616.7,1503.9H623.3M616.7,1575.9H623.3" stroke="#b494dc" stroke-width="1.7" fill="none"/>
<path d="M636.9,1496.7V1572.8M633.6,1496.7H640.2M633.6,1572.8H640.2" stroke="#b494dc" stroke-width="1.7" fill="none"/>
<path d="M653.8,1490.6V1568.9M650.5,1490.6H657.1M650.5,1568.9H657.1" stroke="#b494dc" stroke-width="1.7" fill="none"/>
<path d="M670.7,1487.9V1568.4M667.4,1487.9H674.0M667.4,1568.4H674.0" stroke="#b494dc" stroke-width="1.7" fill="none"/>
<path d="M687.6,1479.1V1564.0M684.3,1479.1H690.9M684.3,1564.0H690.9" stroke="#b494dc" stroke-width="1.7" fill="none"/>
<path d="M704.6,1474.9V1562.0M701.3,1474.9H707.9M701.3,1562.0H707.9" stroke="#b494dc" stroke-width="1.7" fill="none"/>
<polyline points="112.7,1754.6 129.6,1757.3 146.5,1741.0 163.4,1734.1 180.3,1734.1 197.2,1720.5 214.2,1713.7 231.1,1697.4 248.0,1683.8 264.9,1671.6 281.8,1663.4 298.7,1657.0 315.6,1646.8 332.5,1636.3 349.4,1630.3 366.4,1622.9 383.3,1615.4 400.2,1609.4 417.1,1603.4 434.0,1595.9 450.9,1589.9 467.8,1583.9 484.7,1578.0 501.6,1571.0 518.5,1565.2 535.5,1559.8 552.4,1551.4 569.3,1547.2 586.2,1541.2 603.1,1535.8 620.0,1532.9 636.9,1526.9 653.8,1521.5 670.7,1519.4 687.6,1511.9 704.6,1508.3" fill="none" stroke="#1a1a1a" stroke-width="1.5" stroke-linejoin="round"/>
<path d="M112.7,1748.7 L118.1,1754.6 L112.7,1760.5 L107.3,1754.6Z" fill="#a86ee6" stroke="#9458d8" stroke-width="0.8"/>
<path d="M129.6,1751.4 L135.0,1757.3 L129.6,1763.2 L124.2,1757.3Z" fill="#a86ee6" stroke="#9458d8" stroke-width="0.8"/>
<path d="M146.5,1735.1 L151.9,1741.0 L146.5,1746.9 L141.1,1741.0Z" fill="#a86ee6" stroke="#9458d8" stroke-width="0.8"/>
<path d="M163.4,1728.2 L168.8,1734.1 L163.4,1740.0 L158.0,1734.1Z" fill="#a86ee6" stroke="#9458d8" stroke-width="0.8"/>
<path d="M180.3,1728.2 L185.8,1734.1 L180.3,1740.0 L174.9,1734.1Z" fill="#a86ee6" stroke="#9458d8" stroke-width="0.8"/>
<path d="M197.2,1714.6 L202.7,1720.5 L197.2,1726.4 L191.8,1720.5Z" fill="#a86ee6" stroke="#9458d8" stroke-width="0.8"/>
<path d="M214.2,1707.8 L219.6,1713.7 L214.2,1719.6 L208.7,1713.7Z" fill="#a86ee6" stroke="#9458d8" stroke-width="0.8"/>
<path d="M231.1,1691.5 L236.5,1697.4 L231.1,1703.3 L225.7,1697.4Z" fill="#a86ee6" stroke="#9458d8" stroke-width="0.8"/>
<path d="M248.0,1677.9 L253.4,1683.8 L248.0,1689.7 L242.6,1683.8Z" fill="#a86ee6" stroke="#9458d8" stroke-width="0.8"/>
<path d="M264.9,1665.7 L270.3,1671.6 L264.9,1677.5 L259.5,1671.6Z" fill="#a86ee6" stroke="#9458d8" stroke-width="0.8"/>
<path d="M281.8,1657.5 L287.2,1663.4 L281.8,1669.3 L276.4,1663.4Z" fill="#a86ee6" stroke="#9458d8" stroke-width="0.8"/>
<path d="M298.7,1651.1 L304.1,1657.0 L298.7,1662.9 L293.3,1657.0Z" fill="#a86ee6" stroke="#9458d8" stroke-width="0.8"/>
<path d="M315.6,1640.9 L321.0,1646.8 L315.6,1652.7 L310.2,1646.8Z" fill="#a86ee6" stroke="#9458d8" stroke-width="0.8"/>
<path d="M332.5,1630.4 L337.9,1636.3 L332.5,1642.2 L327.1,1636.3Z" fill="#a86ee6" stroke="#9458d8" stroke-width="0.8"/>
<path d="M349.4,1624.4 L354.9,1630.3 L349.4,1636.2 L344.0,1630.3Z" fill="#a86ee6" stroke="#9458d8" stroke-width="0.8"/>
<path d="M366.4,1617.0 L371.8,1622.9 L366.4,1628.8 L360.9,1622.9Z" fill="#a86ee6" stroke="#9458d8" stroke-width="0.8"/>
<path d="M383.3,1609.5 L388.7,1615.4 L383.3,1621.3 L377.8,1615.4Z" fill="#a86ee6" stroke="#9458d8" stroke-width="0.8"/>
<path d="M400.2,1603.5 L405.6,1609.4 L400.2,1615.3 L394.8,1609.4Z" fill="#a86ee6" stroke="#9458d8" stroke-width="0.8"/>
<path d="M417.1,1597.5 L422.5,1603.4 L417.1,1609.3 L411.7,1603.4Z" fill="#a86ee6" stroke="#9458d8" stroke-width="0.8"/>
<path d="M434.0,1590.0 L439.4,1595.9 L434.0,1601.8 L428.6,1595.9Z" fill="#a86ee6" stroke="#9458d8" stroke-width="0.8"/>
<path d="M450.9,1584.0 L456.3,1589.9 L450.9,1595.8 L445.5,1589.9Z" fill="#a86ee6" stroke="#9458d8" stroke-width="0.8"/>
<path d="M467.8,1578.0 L473.2,1583.9 L467.8,1589.8 L462.4,1583.9Z" fill="#a86ee6" stroke="#9458d8" stroke-width="0.8"/>
<path d="M484.7,1572.1 L490.1,1578.0 L484.7,1583.9 L479.3,1578.0Z" fill="#a86ee6" stroke="#9458d8" stroke-width="0.8"/>
<path d="M501.6,1565.1 L507.0,1571.0 L501.6,1576.9 L496.2,1571.0Z" fill="#a86ee6" stroke="#9458d8" stroke-width="0.8"/>
<path d="M518.5,1559.3 L524.0,1565.2 L518.5,1571.1 L513.1,1565.2Z" fill="#a86ee6" stroke="#9458d8" stroke-width="0.8"/>
<path d="M535.5,1553.9 L540.9,1559.8 L535.5,1565.7 L530.0,1559.8Z" fill="#a86ee6" stroke="#9458d8" stroke-width="0.8"/>
<path d="M552.4,1545.5 L557.8,1551.4 L552.4,1557.3 L546.9,1551.4Z" fill="#a86ee6" stroke="#9458d8" stroke-width="0.8"/>
<path d="M569.3,1541.3 L574.7,1547.2 L569.3,1553.1 L563.9,1547.2Z" fill="#a86ee6" stroke="#9458d8" stroke-width="0.8"/>
<path d="M586.2,1535.3 L591.6,1541.2 L586.2,1547.1 L580.8,1541.2Z" fill="#a86ee6" stroke="#9458d8" stroke-width="0.8"/>
<path d="M603.1,1529.9 L608.5,1535.8 L603.1,1541.7 L597.7,1535.8Z" fill="#a86ee6" stroke="#9458d8" stroke-width="0.8"/>
<path d="M620.0,1527.0 L625.4,1532.9 L620.0,1538.8 L614.6,1532.9Z" fill="#a86ee6" stroke="#9458d8" stroke-width="0.8"/>
<path d="M636.9,1521.0 L642.3,1526.9 L636.9,1532.8 L631.5,1526.9Z" fill="#a86ee6" stroke="#9458d8" stroke-width="0.8"/>
<path d="M653.8,1515.6 L659.2,1521.5 L653.8,1527.4 L648.4,1521.5Z" fill="#a86ee6" stroke="#9458d8" stroke-width="0.8"/>
<path d="M670.7,1513.5 L676.1,1519.4 L670.7,1525.3 L665.3,1519.4Z" fill="#a86ee6" stroke="#9458d8" stroke-width="0.8"/>
<path d="M687.6,1506.0 L693.1,1511.9 L687.6,1517.8 L682.2,1511.9Z" fill="#a86ee6" stroke="#9458d8" stroke-width="0.8"/>
<path d="M704.6,1502.4 L710.0,1508.3 L704.6,1514.2 L699.1,1508.3Z" fill="#a86ee6" stroke="#9458d8" stroke-width="0.8"/>
</svg>
</body></html>
